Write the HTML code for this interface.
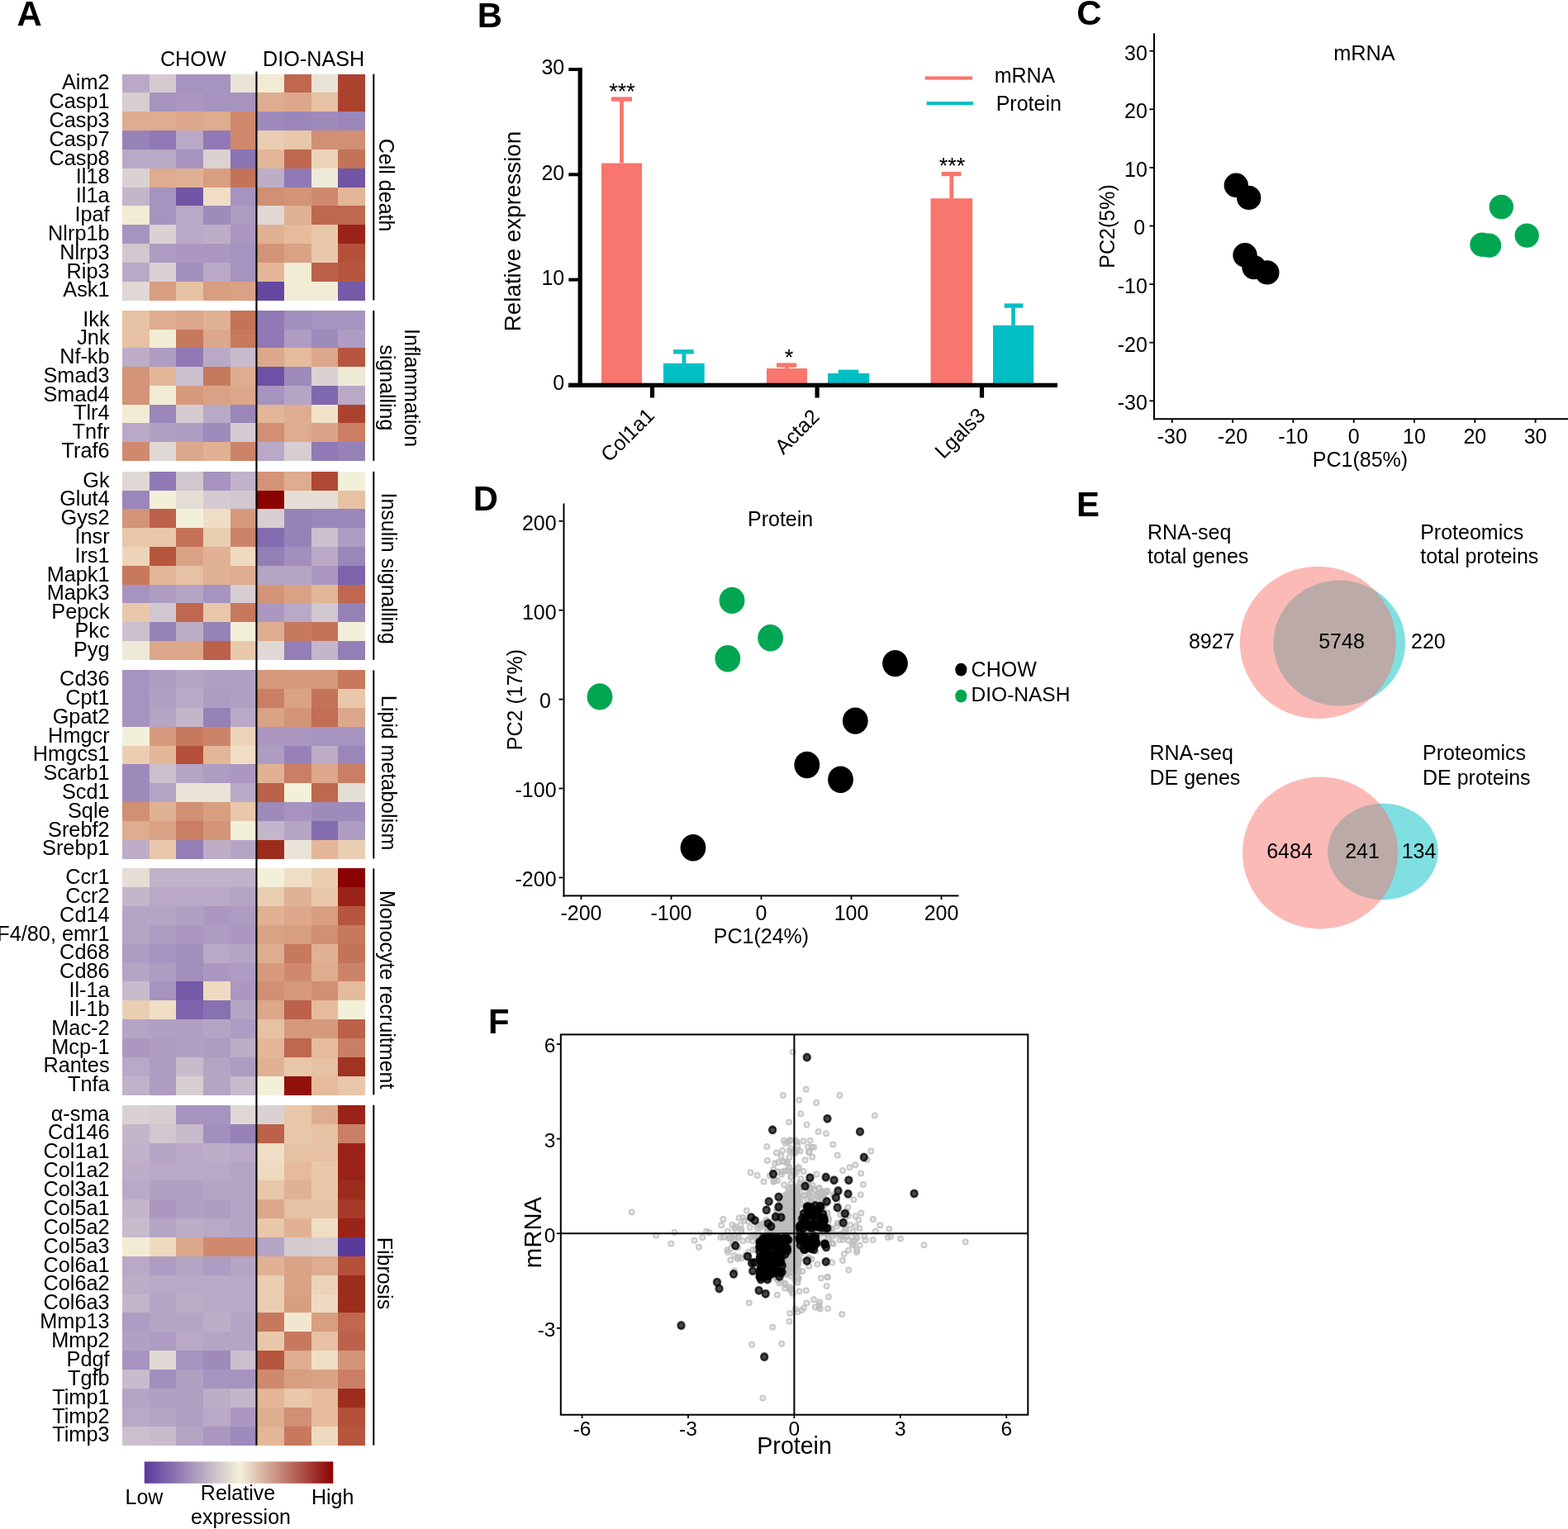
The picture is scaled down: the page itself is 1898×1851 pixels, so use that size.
<!DOCTYPE html><html><head><meta charset="utf-8"><title>Figure</title><style>html,body{margin:0;padding:0;background:#fff;}svg{display:block;}text{font-family:'Liberation Sans', Arial, Helvetica, sans-serif;fill:#000;}</style></head><body>
<svg width="1898" height="1851" viewBox="0 0 1898 1851">
<rect x="0" y="0" width="1898" height="1851" fill="#fff"/>
<text transform="translate(20.6,30.8) scale(1.01,1.035)" font-size="41.5" font-weight="bold">A</text>
<text transform="translate(577.8,32.9) scale(1.01,1.035)" font-size="41.5" font-weight="bold">B</text>
<text transform="translate(1303.3,30.3) scale(1.01,1.035)" font-size="41.5" font-weight="bold">C</text>
<text transform="translate(572.8,618.2) scale(1.01,1.035)" font-size="41.5" font-weight="bold">D</text>
<text transform="translate(1303,624.6) scale(1.01,1.035)" font-size="41.5" font-weight="bold">E</text>
<text transform="translate(591,1250.5) scale(1.01,1.035)" font-size="41.5" font-weight="bold">F</text>
<g shape-rendering="crispEdges">
<rect x="148.10" y="89.60" width="33.24" height="23.43" fill="#b9a9c6"/>
<rect x="180.74" y="89.60" width="33.24" height="23.43" fill="#d4cad0"/>
<rect x="213.38" y="89.60" width="33.24" height="23.43" fill="#a793bf"/>
<rect x="246.02" y="89.60" width="33.24" height="23.43" fill="#a793bf"/>
<rect x="278.66" y="89.60" width="33.24" height="23.43" fill="#e9e4d7"/>
<rect x="311.30" y="89.60" width="33.24" height="23.43" fill="#f2ecd5"/>
<rect x="343.94" y="89.60" width="33.24" height="23.43" fill="#bf674f"/>
<rect x="376.58" y="89.60" width="33.24" height="23.43" fill="#e9e4d7"/>
<rect x="409.22" y="89.60" width="33.24" height="23.43" fill="#aa422e"/>
<rect x="148.10" y="112.42" width="33.24" height="23.43" fill="#d7ced1"/>
<rect x="180.74" y="112.42" width="33.24" height="23.43" fill="#a793bf"/>
<rect x="213.38" y="112.42" width="33.24" height="23.43" fill="#ab97c0"/>
<rect x="246.02" y="112.42" width="33.24" height="23.43" fill="#a793bf"/>
<rect x="278.66" y="112.42" width="33.24" height="23.43" fill="#a793bf"/>
<rect x="311.30" y="112.42" width="33.24" height="23.43" fill="#deac8e"/>
<rect x="343.94" y="112.42" width="33.24" height="23.43" fill="#dca78a"/>
<rect x="376.58" y="112.42" width="33.24" height="23.43" fill="#e7c1a3"/>
<rect x="409.22" y="112.42" width="33.24" height="23.43" fill="#aa422e"/>
<rect x="148.10" y="135.25" width="33.24" height="23.43" fill="#deac8e"/>
<rect x="180.74" y="135.25" width="33.24" height="23.43" fill="#deac8e"/>
<rect x="213.38" y="135.25" width="33.24" height="23.43" fill="#dca78a"/>
<rect x="246.02" y="135.25" width="33.24" height="23.43" fill="#deac8e"/>
<rect x="278.66" y="135.25" width="33.24" height="23.43" fill="#cf8a6e"/>
<rect x="311.30" y="135.25" width="33.24" height="23.43" fill="#9f8abc"/>
<rect x="343.94" y="135.25" width="33.24" height="23.43" fill="#9b86ba"/>
<rect x="376.58" y="135.25" width="33.24" height="23.43" fill="#9f8abc"/>
<rect x="409.22" y="135.25" width="33.24" height="23.43" fill="#9b86ba"/>
<rect x="148.10" y="158.07" width="33.24" height="23.43" fill="#9782b8"/>
<rect x="180.74" y="158.07" width="33.24" height="23.43" fill="#9079b5"/>
<rect x="213.38" y="158.07" width="33.24" height="23.43" fill="#b9a9c6"/>
<rect x="246.02" y="158.07" width="33.24" height="23.43" fill="#9079b5"/>
<rect x="278.66" y="158.07" width="33.24" height="23.43" fill="#cf8a6e"/>
<rect x="311.30" y="158.07" width="33.24" height="23.43" fill="#eaceb2"/>
<rect x="343.94" y="158.07" width="33.24" height="23.43" fill="#e9c7aa"/>
<rect x="376.58" y="158.07" width="33.24" height="23.43" fill="#d18f73"/>
<rect x="409.22" y="158.07" width="33.24" height="23.43" fill="#d18f73"/>
<rect x="148.10" y="180.90" width="33.24" height="23.43" fill="#b9a9c6"/>
<rect x="180.74" y="180.90" width="33.24" height="23.43" fill="#b9a9c6"/>
<rect x="213.38" y="180.90" width="33.24" height="23.43" fill="#a793bf"/>
<rect x="246.02" y="180.90" width="33.24" height="23.43" fill="#dad2d2"/>
<rect x="278.66" y="180.90" width="33.24" height="23.43" fill="#8c75b3"/>
<rect x="311.30" y="180.90" width="33.24" height="23.43" fill="#e3b697"/>
<rect x="343.94" y="180.90" width="33.24" height="23.43" fill="#bf674f"/>
<rect x="376.58" y="180.90" width="33.24" height="23.43" fill="#ecd4b9"/>
<rect x="409.22" y="180.90" width="33.24" height="23.43" fill="#c47359"/>
<rect x="148.10" y="203.72" width="33.24" height="23.43" fill="#dad2d2"/>
<rect x="180.74" y="203.72" width="33.24" height="23.43" fill="#deac8e"/>
<rect x="213.38" y="203.72" width="33.24" height="23.43" fill="#e1b193"/>
<rect x="246.02" y="203.72" width="33.24" height="23.43" fill="#d89e80"/>
<rect x="278.66" y="203.72" width="33.24" height="23.43" fill="#c47359"/>
<rect x="311.30" y="203.72" width="33.24" height="23.43" fill="#bdadc7"/>
<rect x="343.94" y="203.72" width="33.24" height="23.43" fill="#9079b5"/>
<rect x="376.58" y="203.72" width="33.24" height="23.43" fill="#eeead8"/>
<rect x="409.22" y="203.72" width="33.24" height="23.43" fill="#7156a6"/>
<rect x="148.10" y="226.55" width="33.24" height="23.43" fill="#c4b6ca"/>
<rect x="180.74" y="226.55" width="33.24" height="23.43" fill="#a793bf"/>
<rect x="213.38" y="226.55" width="33.24" height="23.43" fill="#7156a6"/>
<rect x="246.02" y="226.55" width="33.24" height="23.43" fill="#efdec5"/>
<rect x="278.66" y="226.55" width="33.24" height="23.43" fill="#a793bf"/>
<rect x="311.30" y="226.55" width="33.24" height="23.43" fill="#d18f73"/>
<rect x="343.94" y="226.55" width="33.24" height="23.43" fill="#d39477"/>
<rect x="376.58" y="226.55" width="33.24" height="23.43" fill="#cf8a6e"/>
<rect x="409.22" y="226.55" width="33.24" height="23.43" fill="#e3b697"/>
<rect x="148.10" y="249.38" width="33.24" height="23.43" fill="#f2ecd5"/>
<rect x="180.74" y="249.38" width="33.24" height="23.43" fill="#a793bf"/>
<rect x="213.38" y="249.38" width="33.24" height="23.43" fill="#b9a9c6"/>
<rect x="246.02" y="249.38" width="33.24" height="23.43" fill="#9f8abc"/>
<rect x="278.66" y="249.38" width="33.24" height="23.43" fill="#ae9cc2"/>
<rect x="311.30" y="249.38" width="33.24" height="23.43" fill="#dfd8d4"/>
<rect x="343.94" y="249.38" width="33.24" height="23.43" fill="#e1b193"/>
<rect x="376.58" y="249.38" width="33.24" height="23.43" fill="#bf674f"/>
<rect x="409.22" y="249.38" width="33.24" height="23.43" fill="#bf674f"/>
<rect x="148.10" y="272.20" width="33.24" height="23.43" fill="#a793bf"/>
<rect x="180.74" y="272.20" width="33.24" height="23.43" fill="#dad2d2"/>
<rect x="213.38" y="272.20" width="33.24" height="23.43" fill="#b9a9c6"/>
<rect x="246.02" y="272.20" width="33.24" height="23.43" fill="#bdadc7"/>
<rect x="278.66" y="272.20" width="33.24" height="23.43" fill="#ab97c0"/>
<rect x="311.30" y="272.20" width="33.24" height="23.43" fill="#e1b193"/>
<rect x="343.94" y="272.20" width="33.24" height="23.43" fill="#e5bb9c"/>
<rect x="376.58" y="272.20" width="33.24" height="23.43" fill="#e9c7aa"/>
<rect x="409.22" y="272.20" width="33.24" height="23.43" fill="#992316"/>
<rect x="148.10" y="295.02" width="33.24" height="23.43" fill="#d1c7cf"/>
<rect x="180.74" y="295.02" width="33.24" height="23.43" fill="#ae9cc2"/>
<rect x="213.38" y="295.02" width="33.24" height="23.43" fill="#ab97c0"/>
<rect x="246.02" y="295.02" width="33.24" height="23.43" fill="#ab97c0"/>
<rect x="278.66" y="295.02" width="33.24" height="23.43" fill="#a793bf"/>
<rect x="311.30" y="295.02" width="33.24" height="23.43" fill="#d39477"/>
<rect x="343.94" y="295.02" width="33.24" height="23.43" fill="#daa285"/>
<rect x="376.58" y="295.02" width="33.24" height="23.43" fill="#e9c7aa"/>
<rect x="409.22" y="295.02" width="33.24" height="23.43" fill="#b4503a"/>
<rect x="148.10" y="317.85" width="33.24" height="23.43" fill="#b9a9c6"/>
<rect x="180.74" y="317.85" width="33.24" height="23.43" fill="#dad2d2"/>
<rect x="213.38" y="317.85" width="33.24" height="23.43" fill="#a38fbd"/>
<rect x="246.02" y="317.85" width="33.24" height="23.43" fill="#b9a9c6"/>
<rect x="278.66" y="317.85" width="33.24" height="23.43" fill="#a793bf"/>
<rect x="311.30" y="317.85" width="33.24" height="23.43" fill="#e3b697"/>
<rect x="343.94" y="317.85" width="33.24" height="23.43" fill="#f2ecd5"/>
<rect x="376.58" y="317.85" width="33.24" height="23.43" fill="#bc614a"/>
<rect x="409.22" y="317.85" width="33.24" height="23.43" fill="#b7563f"/>
<rect x="148.10" y="340.67" width="33.24" height="23.43" fill="#dfd8d4"/>
<rect x="180.74" y="340.67" width="33.24" height="23.43" fill="#d89e80"/>
<rect x="213.38" y="340.67" width="33.24" height="23.43" fill="#e7c1a3"/>
<rect x="246.02" y="340.67" width="33.24" height="23.43" fill="#d89e80"/>
<rect x="278.66" y="340.67" width="33.24" height="23.43" fill="#daa285"/>
<rect x="311.30" y="340.67" width="33.24" height="23.43" fill="#6548a1"/>
<rect x="343.94" y="340.67" width="33.24" height="23.43" fill="#f2ecd5"/>
<rect x="376.58" y="340.67" width="33.24" height="23.43" fill="#f2ecd5"/>
<rect x="409.22" y="340.67" width="33.24" height="23.43" fill="#755aa8"/>
<rect x="148.10" y="375.90" width="33.24" height="23.34" fill="#e7c1a3"/>
<rect x="180.74" y="375.90" width="33.24" height="23.34" fill="#deac8e"/>
<rect x="213.38" y="375.90" width="33.24" height="23.34" fill="#dca78a"/>
<rect x="246.02" y="375.90" width="33.24" height="23.34" fill="#e1b193"/>
<rect x="278.66" y="375.90" width="33.24" height="23.34" fill="#c47359"/>
<rect x="311.30" y="375.90" width="33.24" height="23.34" fill="#9079b5"/>
<rect x="343.94" y="375.90" width="33.24" height="23.34" fill="#a38fbd"/>
<rect x="376.58" y="375.90" width="33.24" height="23.34" fill="#a793bf"/>
<rect x="409.22" y="375.90" width="33.24" height="23.34" fill="#a793bf"/>
<rect x="148.10" y="398.64" width="33.24" height="23.34" fill="#e7c1a3"/>
<rect x="180.74" y="398.64" width="33.24" height="23.34" fill="#f2ecd5"/>
<rect x="213.38" y="398.64" width="33.24" height="23.34" fill="#c7795e"/>
<rect x="246.02" y="398.64" width="33.24" height="23.34" fill="#dca78a"/>
<rect x="278.66" y="398.64" width="33.24" height="23.34" fill="#c7795e"/>
<rect x="311.30" y="398.64" width="33.24" height="23.34" fill="#9079b5"/>
<rect x="343.94" y="398.64" width="33.24" height="23.34" fill="#ae9cc2"/>
<rect x="376.58" y="398.64" width="33.24" height="23.34" fill="#9f8abc"/>
<rect x="409.22" y="398.64" width="33.24" height="23.34" fill="#ae9cc2"/>
<rect x="148.10" y="421.38" width="33.24" height="23.34" fill="#bdadc7"/>
<rect x="180.74" y="421.38" width="33.24" height="23.34" fill="#ae9cc2"/>
<rect x="213.38" y="421.38" width="33.24" height="23.34" fill="#9079b5"/>
<rect x="246.02" y="421.38" width="33.24" height="23.34" fill="#b9a9c6"/>
<rect x="278.66" y="421.38" width="33.24" height="23.34" fill="#c7bbcc"/>
<rect x="311.30" y="421.38" width="33.24" height="23.34" fill="#dca78a"/>
<rect x="343.94" y="421.38" width="33.24" height="23.34" fill="#e5bb9c"/>
<rect x="376.58" y="421.38" width="33.24" height="23.34" fill="#dca78a"/>
<rect x="409.22" y="421.38" width="33.24" height="23.34" fill="#b7563f"/>
<rect x="148.10" y="444.11" width="33.24" height="23.34" fill="#d39477"/>
<rect x="180.74" y="444.11" width="33.24" height="23.34" fill="#e3b697"/>
<rect x="213.38" y="444.11" width="33.24" height="23.34" fill="#cbbfcd"/>
<rect x="246.02" y="444.11" width="33.24" height="23.34" fill="#c7795e"/>
<rect x="278.66" y="444.11" width="33.24" height="23.34" fill="#deac8e"/>
<rect x="311.30" y="444.11" width="33.24" height="23.34" fill="#6d51a4"/>
<rect x="343.94" y="444.11" width="33.24" height="23.34" fill="#9f8abc"/>
<rect x="376.58" y="444.11" width="33.24" height="23.34" fill="#dad2d2"/>
<rect x="409.22" y="444.11" width="33.24" height="23.34" fill="#eeead8"/>
<rect x="148.10" y="466.85" width="33.24" height="23.34" fill="#d39477"/>
<rect x="180.74" y="466.85" width="33.24" height="23.34" fill="#f2ecd5"/>
<rect x="213.38" y="466.85" width="33.24" height="23.34" fill="#d6997c"/>
<rect x="246.02" y="466.85" width="33.24" height="23.34" fill="#daa285"/>
<rect x="278.66" y="466.85" width="33.24" height="23.34" fill="#dca78a"/>
<rect x="311.30" y="466.85" width="33.24" height="23.34" fill="#a793bf"/>
<rect x="343.94" y="466.85" width="33.24" height="23.34" fill="#b5a5c5"/>
<rect x="376.58" y="466.85" width="33.24" height="23.34" fill="#8068ae"/>
<rect x="409.22" y="466.85" width="33.24" height="23.34" fill="#b9a9c6"/>
<rect x="148.10" y="489.59" width="33.24" height="23.34" fill="#f2ecd5"/>
<rect x="180.74" y="489.59" width="33.24" height="23.34" fill="#9b86ba"/>
<rect x="213.38" y="489.59" width="33.24" height="23.34" fill="#d4cad0"/>
<rect x="246.02" y="489.59" width="33.24" height="23.34" fill="#b9a9c6"/>
<rect x="278.66" y="489.59" width="33.24" height="23.34" fill="#9b86ba"/>
<rect x="311.30" y="489.59" width="33.24" height="23.34" fill="#e3b697"/>
<rect x="343.94" y="489.59" width="33.24" height="23.34" fill="#deac8e"/>
<rect x="376.58" y="489.59" width="33.24" height="23.34" fill="#f0e3ca"/>
<rect x="409.22" y="489.59" width="33.24" height="23.34" fill="#aa422e"/>
<rect x="148.10" y="512.32" width="33.24" height="23.34" fill="#b9a9c6"/>
<rect x="180.74" y="512.32" width="33.24" height="23.34" fill="#b2a0c3"/>
<rect x="213.38" y="512.32" width="33.24" height="23.34" fill="#ae9cc2"/>
<rect x="246.02" y="512.32" width="33.24" height="23.34" fill="#9f8abc"/>
<rect x="278.66" y="512.32" width="33.24" height="23.34" fill="#d4cad0"/>
<rect x="311.30" y="512.32" width="33.24" height="23.34" fill="#d18f73"/>
<rect x="343.94" y="512.32" width="33.24" height="23.34" fill="#deac8e"/>
<rect x="376.58" y="512.32" width="33.24" height="23.34" fill="#daa285"/>
<rect x="409.22" y="512.32" width="33.24" height="23.34" fill="#ca7e64"/>
<rect x="148.10" y="535.06" width="33.24" height="23.34" fill="#cf8a6e"/>
<rect x="180.74" y="535.06" width="33.24" height="23.34" fill="#dfd8d4"/>
<rect x="213.38" y="535.06" width="33.24" height="23.34" fill="#dca78a"/>
<rect x="246.02" y="535.06" width="33.24" height="23.34" fill="#e1b193"/>
<rect x="278.66" y="535.06" width="33.24" height="23.34" fill="#cc8469"/>
<rect x="311.30" y="535.06" width="33.24" height="23.34" fill="#b9a9c6"/>
<rect x="343.94" y="535.06" width="33.24" height="23.34" fill="#d7ced1"/>
<rect x="376.58" y="535.06" width="33.24" height="23.34" fill="#9079b5"/>
<rect x="409.22" y="535.06" width="33.24" height="23.34" fill="#9782b8"/>
<rect x="148.10" y="570.90" width="33.24" height="23.39" fill="#dfd8d4"/>
<rect x="180.74" y="570.90" width="33.24" height="23.39" fill="#9079b5"/>
<rect x="213.38" y="570.90" width="33.24" height="23.39" fill="#d1c7cf"/>
<rect x="246.02" y="570.90" width="33.24" height="23.39" fill="#a793bf"/>
<rect x="278.66" y="570.90" width="33.24" height="23.39" fill="#c0b2c9"/>
<rect x="311.30" y="570.90" width="33.24" height="23.39" fill="#d39477"/>
<rect x="343.94" y="570.90" width="33.24" height="23.39" fill="#deac8e"/>
<rect x="376.58" y="570.90" width="33.24" height="23.39" fill="#af4934"/>
<rect x="409.22" y="570.90" width="33.24" height="23.39" fill="#f3f0da"/>
<rect x="148.10" y="593.69" width="33.24" height="23.39" fill="#9b86ba"/>
<rect x="180.74" y="593.69" width="33.24" height="23.39" fill="#f3f0da"/>
<rect x="213.38" y="593.69" width="33.24" height="23.39" fill="#e4ded5"/>
<rect x="246.02" y="593.69" width="33.24" height="23.39" fill="#d4cad0"/>
<rect x="278.66" y="593.69" width="33.24" height="23.39" fill="#d1c7cf"/>
<rect x="311.30" y="593.69" width="33.24" height="23.39" fill="#8b0000"/>
<rect x="343.94" y="593.69" width="33.24" height="23.39" fill="#e4ded5"/>
<rect x="376.58" y="593.69" width="33.24" height="23.39" fill="#e4ded5"/>
<rect x="409.22" y="593.69" width="33.24" height="23.39" fill="#e7c1a3"/>
<rect x="148.10" y="616.48" width="33.24" height="23.39" fill="#d39477"/>
<rect x="180.74" y="616.48" width="33.24" height="23.39" fill="#bc614a"/>
<rect x="213.38" y="616.48" width="33.24" height="23.39" fill="#f3f0da"/>
<rect x="246.02" y="616.48" width="33.24" height="23.39" fill="#efdec5"/>
<rect x="278.66" y="616.48" width="33.24" height="23.39" fill="#d6997c"/>
<rect x="311.30" y="616.48" width="33.24" height="23.39" fill="#d7ced1"/>
<rect x="343.94" y="616.48" width="33.24" height="23.39" fill="#9782b8"/>
<rect x="376.58" y="616.48" width="33.24" height="23.39" fill="#9b86ba"/>
<rect x="409.22" y="616.48" width="33.24" height="23.39" fill="#9b86ba"/>
<rect x="148.10" y="639.27" width="33.24" height="23.39" fill="#e9c7aa"/>
<rect x="180.74" y="639.27" width="33.24" height="23.39" fill="#e9c7aa"/>
<rect x="213.38" y="639.27" width="33.24" height="23.39" fill="#c47359"/>
<rect x="246.02" y="639.27" width="33.24" height="23.39" fill="#eaceb2"/>
<rect x="278.66" y="639.27" width="33.24" height="23.39" fill="#cc8469"/>
<rect x="311.30" y="639.27" width="33.24" height="23.39" fill="#846cb0"/>
<rect x="343.94" y="639.27" width="33.24" height="23.39" fill="#9782b8"/>
<rect x="376.58" y="639.27" width="33.24" height="23.39" fill="#cbbfcd"/>
<rect x="409.22" y="639.27" width="33.24" height="23.39" fill="#ae9cc2"/>
<rect x="148.10" y="662.06" width="33.24" height="23.39" fill="#ecd4b9"/>
<rect x="180.74" y="662.06" width="33.24" height="23.39" fill="#b7563f"/>
<rect x="213.38" y="662.06" width="33.24" height="23.39" fill="#daa285"/>
<rect x="246.02" y="662.06" width="33.24" height="23.39" fill="#e1b193"/>
<rect x="278.66" y="662.06" width="33.24" height="23.39" fill="#eedac0"/>
<rect x="311.30" y="662.06" width="33.24" height="23.39" fill="#947eb6"/>
<rect x="343.94" y="662.06" width="33.24" height="23.39" fill="#a38fbd"/>
<rect x="376.58" y="662.06" width="33.24" height="23.39" fill="#b9a9c6"/>
<rect x="409.22" y="662.06" width="33.24" height="23.39" fill="#9b86ba"/>
<rect x="148.10" y="684.85" width="33.24" height="23.39" fill="#c7795e"/>
<rect x="180.74" y="684.85" width="33.24" height="23.39" fill="#e3b697"/>
<rect x="213.38" y="684.85" width="33.24" height="23.39" fill="#e7c1a3"/>
<rect x="246.02" y="684.85" width="33.24" height="23.39" fill="#e1b193"/>
<rect x="278.66" y="684.85" width="33.24" height="23.39" fill="#deac8e"/>
<rect x="311.30" y="684.85" width="33.24" height="23.39" fill="#b5a5c5"/>
<rect x="343.94" y="684.85" width="33.24" height="23.39" fill="#b5a5c5"/>
<rect x="376.58" y="684.85" width="33.24" height="23.39" fill="#ab97c0"/>
<rect x="409.22" y="684.85" width="33.24" height="23.39" fill="#7c63ac"/>
<rect x="148.10" y="707.64" width="33.24" height="23.39" fill="#a793bf"/>
<rect x="180.74" y="707.64" width="33.24" height="23.39" fill="#ae9cc2"/>
<rect x="213.38" y="707.64" width="33.24" height="23.39" fill="#b5a5c5"/>
<rect x="246.02" y="707.64" width="33.24" height="23.39" fill="#a793bf"/>
<rect x="278.66" y="707.64" width="33.24" height="23.39" fill="#d7ced1"/>
<rect x="311.30" y="707.64" width="33.24" height="23.39" fill="#d39477"/>
<rect x="343.94" y="707.64" width="33.24" height="23.39" fill="#daa285"/>
<rect x="376.58" y="707.64" width="33.24" height="23.39" fill="#e3b697"/>
<rect x="409.22" y="707.64" width="33.24" height="23.39" fill="#bf674f"/>
<rect x="148.10" y="730.43" width="33.24" height="23.39" fill="#e9c7aa"/>
<rect x="180.74" y="730.43" width="33.24" height="23.39" fill="#d1c7cf"/>
<rect x="213.38" y="730.43" width="33.24" height="23.39" fill="#bf674f"/>
<rect x="246.02" y="730.43" width="33.24" height="23.39" fill="#e9c7aa"/>
<rect x="278.66" y="730.43" width="33.24" height="23.39" fill="#c7795e"/>
<rect x="311.30" y="730.43" width="33.24" height="23.39" fill="#ab97c0"/>
<rect x="343.94" y="730.43" width="33.24" height="23.39" fill="#b9a9c6"/>
<rect x="376.58" y="730.43" width="33.24" height="23.39" fill="#d1c7cf"/>
<rect x="409.22" y="730.43" width="33.24" height="23.39" fill="#9782b8"/>
<rect x="148.10" y="753.22" width="33.24" height="23.39" fill="#cbbfcd"/>
<rect x="180.74" y="753.22" width="33.24" height="23.39" fill="#9782b8"/>
<rect x="213.38" y="753.22" width="33.24" height="23.39" fill="#bdadc7"/>
<rect x="246.02" y="753.22" width="33.24" height="23.39" fill="#9782b8"/>
<rect x="278.66" y="753.22" width="33.24" height="23.39" fill="#f3f0da"/>
<rect x="311.30" y="753.22" width="33.24" height="23.39" fill="#deac8e"/>
<rect x="343.94" y="753.22" width="33.24" height="23.39" fill="#c7795e"/>
<rect x="376.58" y="753.22" width="33.24" height="23.39" fill="#c47359"/>
<rect x="409.22" y="753.22" width="33.24" height="23.39" fill="#f3f0da"/>
<rect x="148.10" y="776.01" width="33.24" height="23.39" fill="#eeead8"/>
<rect x="180.74" y="776.01" width="33.24" height="23.39" fill="#dca78a"/>
<rect x="213.38" y="776.01" width="33.24" height="23.39" fill="#dca78a"/>
<rect x="246.02" y="776.01" width="33.24" height="23.39" fill="#bc614a"/>
<rect x="278.66" y="776.01" width="33.24" height="23.39" fill="#e9c7aa"/>
<rect x="311.30" y="776.01" width="33.24" height="23.39" fill="#dfd8d4"/>
<rect x="343.94" y="776.01" width="33.24" height="23.39" fill="#947eb6"/>
<rect x="376.58" y="776.01" width="33.24" height="23.39" fill="#c4b6ca"/>
<rect x="409.22" y="776.01" width="33.24" height="23.39" fill="#947eb6"/>
<rect x="148.10" y="811.40" width="33.24" height="23.40" fill="#a793bf"/>
<rect x="180.74" y="811.40" width="33.24" height="23.40" fill="#ae9cc2"/>
<rect x="213.38" y="811.40" width="33.24" height="23.40" fill="#b5a5c5"/>
<rect x="246.02" y="811.40" width="33.24" height="23.40" fill="#b2a0c3"/>
<rect x="278.66" y="811.40" width="33.24" height="23.40" fill="#b2a0c3"/>
<rect x="311.30" y="811.40" width="33.24" height="23.40" fill="#d6997c"/>
<rect x="343.94" y="811.40" width="33.24" height="23.40" fill="#d6997c"/>
<rect x="376.58" y="811.40" width="33.24" height="23.40" fill="#d6997c"/>
<rect x="409.22" y="811.40" width="33.24" height="23.40" fill="#c7795e"/>
<rect x="148.10" y="834.20" width="33.24" height="23.40" fill="#a793bf"/>
<rect x="180.74" y="834.20" width="33.24" height="23.40" fill="#b2a0c3"/>
<rect x="213.38" y="834.20" width="33.24" height="23.40" fill="#b9a9c6"/>
<rect x="246.02" y="834.20" width="33.24" height="23.40" fill="#ae9cc2"/>
<rect x="278.66" y="834.20" width="33.24" height="23.40" fill="#b2a0c3"/>
<rect x="311.30" y="834.20" width="33.24" height="23.40" fill="#ca7e64"/>
<rect x="343.94" y="834.20" width="33.24" height="23.40" fill="#daa285"/>
<rect x="376.58" y="834.20" width="33.24" height="23.40" fill="#c47359"/>
<rect x="409.22" y="834.20" width="33.24" height="23.40" fill="#e9c7aa"/>
<rect x="148.10" y="857.00" width="33.24" height="23.40" fill="#a793bf"/>
<rect x="180.74" y="857.00" width="33.24" height="23.40" fill="#b5a5c5"/>
<rect x="213.38" y="857.00" width="33.24" height="23.40" fill="#c4b6ca"/>
<rect x="246.02" y="857.00" width="33.24" height="23.40" fill="#9782b8"/>
<rect x="278.66" y="857.00" width="33.24" height="23.40" fill="#b9a9c6"/>
<rect x="311.30" y="857.00" width="33.24" height="23.40" fill="#daa285"/>
<rect x="343.94" y="857.00" width="33.24" height="23.40" fill="#d39477"/>
<rect x="376.58" y="857.00" width="33.24" height="23.40" fill="#c26d54"/>
<rect x="409.22" y="857.00" width="33.24" height="23.40" fill="#dca78a"/>
<rect x="148.10" y="879.80" width="33.24" height="23.40" fill="#f3f0da"/>
<rect x="180.74" y="879.80" width="33.24" height="23.40" fill="#d6997c"/>
<rect x="213.38" y="879.80" width="33.24" height="23.40" fill="#c7795e"/>
<rect x="246.02" y="879.80" width="33.24" height="23.40" fill="#cc8469"/>
<rect x="278.66" y="879.80" width="33.24" height="23.40" fill="#ecd4b9"/>
<rect x="311.30" y="879.80" width="33.24" height="23.40" fill="#ab97c0"/>
<rect x="343.94" y="879.80" width="33.24" height="23.40" fill="#ab97c0"/>
<rect x="376.58" y="879.80" width="33.24" height="23.40" fill="#a793bf"/>
<rect x="409.22" y="879.80" width="33.24" height="23.40" fill="#a793bf"/>
<rect x="148.10" y="902.60" width="33.24" height="23.40" fill="#eaceb2"/>
<rect x="180.74" y="902.60" width="33.24" height="23.40" fill="#e3b697"/>
<rect x="213.38" y="902.60" width="33.24" height="23.40" fill="#b4503a"/>
<rect x="246.02" y="902.60" width="33.24" height="23.40" fill="#e3b697"/>
<rect x="278.66" y="902.60" width="33.24" height="23.40" fill="#efdec5"/>
<rect x="311.30" y="902.60" width="33.24" height="23.40" fill="#ae9cc2"/>
<rect x="343.94" y="902.60" width="33.24" height="23.40" fill="#9782b8"/>
<rect x="376.58" y="902.60" width="33.24" height="23.40" fill="#bdadc7"/>
<rect x="409.22" y="902.60" width="33.24" height="23.40" fill="#9b86ba"/>
<rect x="148.10" y="925.40" width="33.24" height="23.40" fill="#9f8abc"/>
<rect x="180.74" y="925.40" width="33.24" height="23.40" fill="#cbbfcd"/>
<rect x="213.38" y="925.40" width="33.24" height="23.40" fill="#b5a5c5"/>
<rect x="246.02" y="925.40" width="33.24" height="23.40" fill="#ae9cc2"/>
<rect x="278.66" y="925.40" width="33.24" height="23.40" fill="#ab97c0"/>
<rect x="311.30" y="925.40" width="33.24" height="23.40" fill="#e1b193"/>
<rect x="343.94" y="925.40" width="33.24" height="23.40" fill="#ca7e64"/>
<rect x="376.58" y="925.40" width="33.24" height="23.40" fill="#dca78a"/>
<rect x="409.22" y="925.40" width="33.24" height="23.40" fill="#ca7e64"/>
<rect x="148.10" y="948.20" width="33.24" height="23.40" fill="#9f8abc"/>
<rect x="180.74" y="948.20" width="33.24" height="23.40" fill="#b5a5c5"/>
<rect x="213.38" y="948.20" width="33.24" height="23.40" fill="#e9e4d7"/>
<rect x="246.02" y="948.20" width="33.24" height="23.40" fill="#e9e4d7"/>
<rect x="278.66" y="948.20" width="33.24" height="23.40" fill="#b9a9c6"/>
<rect x="311.30" y="948.20" width="33.24" height="23.40" fill="#bc614a"/>
<rect x="343.94" y="948.20" width="33.24" height="23.40" fill="#f3f0da"/>
<rect x="376.58" y="948.20" width="33.24" height="23.40" fill="#bf674f"/>
<rect x="409.22" y="948.20" width="33.24" height="23.40" fill="#e4ded5"/>
<rect x="148.10" y="971.00" width="33.24" height="23.40" fill="#d18f73"/>
<rect x="180.74" y="971.00" width="33.24" height="23.40" fill="#e1b193"/>
<rect x="213.38" y="971.00" width="33.24" height="23.40" fill="#d18f73"/>
<rect x="246.02" y="971.00" width="33.24" height="23.40" fill="#d89e80"/>
<rect x="278.66" y="971.00" width="33.24" height="23.40" fill="#e9c7aa"/>
<rect x="311.30" y="971.00" width="33.24" height="23.40" fill="#9f8abc"/>
<rect x="343.94" y="971.00" width="33.24" height="23.40" fill="#a793bf"/>
<rect x="376.58" y="971.00" width="33.24" height="23.40" fill="#9f8abc"/>
<rect x="409.22" y="971.00" width="33.24" height="23.40" fill="#9f8abc"/>
<rect x="148.10" y="993.80" width="33.24" height="23.40" fill="#deac8e"/>
<rect x="180.74" y="993.80" width="33.24" height="23.40" fill="#daa285"/>
<rect x="213.38" y="993.80" width="33.24" height="23.40" fill="#ca7e64"/>
<rect x="246.02" y="993.80" width="33.24" height="23.40" fill="#d39477"/>
<rect x="278.66" y="993.80" width="33.24" height="23.40" fill="#f3f0da"/>
<rect x="311.30" y="993.80" width="33.24" height="23.40" fill="#c4b6ca"/>
<rect x="343.94" y="993.80" width="33.24" height="23.40" fill="#b5a5c5"/>
<rect x="376.58" y="993.80" width="33.24" height="23.40" fill="#846cb0"/>
<rect x="409.22" y="993.80" width="33.24" height="23.40" fill="#ae9cc2"/>
<rect x="148.10" y="1016.60" width="33.24" height="23.40" fill="#bdadc7"/>
<rect x="180.74" y="1016.60" width="33.24" height="23.40" fill="#e9c7aa"/>
<rect x="213.38" y="1016.60" width="33.24" height="23.40" fill="#947eb6"/>
<rect x="246.02" y="1016.60" width="33.24" height="23.40" fill="#bdadc7"/>
<rect x="278.66" y="1016.60" width="33.24" height="23.40" fill="#b5a5c5"/>
<rect x="311.30" y="1016.60" width="33.24" height="23.40" fill="#9c2c1c"/>
<rect x="343.94" y="1016.60" width="33.24" height="23.40" fill="#e9e4d7"/>
<rect x="376.58" y="1016.60" width="33.24" height="23.40" fill="#e3b697"/>
<rect x="409.22" y="1016.60" width="33.24" height="23.40" fill="#eaceb2"/>
<rect x="148.10" y="1051.40" width="33.24" height="23.43" fill="#e4ded5"/>
<rect x="180.74" y="1051.40" width="33.24" height="23.43" fill="#c0b2c9"/>
<rect x="213.38" y="1051.40" width="33.24" height="23.43" fill="#c0b2c9"/>
<rect x="246.02" y="1051.40" width="33.24" height="23.43" fill="#c0b2c9"/>
<rect x="278.66" y="1051.40" width="33.24" height="23.43" fill="#c0b2c9"/>
<rect x="311.30" y="1051.40" width="33.24" height="23.43" fill="#f3f0da"/>
<rect x="343.94" y="1051.40" width="33.24" height="23.43" fill="#efdec5"/>
<rect x="376.58" y="1051.40" width="33.24" height="23.43" fill="#eaceb2"/>
<rect x="409.22" y="1051.40" width="33.24" height="23.43" fill="#8b0000"/>
<rect x="148.10" y="1074.23" width="33.24" height="23.43" fill="#c4b6ca"/>
<rect x="180.74" y="1074.23" width="33.24" height="23.43" fill="#b9a9c6"/>
<rect x="213.38" y="1074.23" width="33.24" height="23.43" fill="#b9a9c6"/>
<rect x="246.02" y="1074.23" width="33.24" height="23.43" fill="#b9a9c6"/>
<rect x="278.66" y="1074.23" width="33.24" height="23.43" fill="#b5a5c5"/>
<rect x="311.30" y="1074.23" width="33.24" height="23.43" fill="#eaceb2"/>
<rect x="343.94" y="1074.23" width="33.24" height="23.43" fill="#e1b193"/>
<rect x="376.58" y="1074.23" width="33.24" height="23.43" fill="#e9c7aa"/>
<rect x="409.22" y="1074.23" width="33.24" height="23.43" fill="#992316"/>
<rect x="148.10" y="1097.07" width="33.24" height="23.43" fill="#b5a5c5"/>
<rect x="180.74" y="1097.07" width="33.24" height="23.43" fill="#b5a5c5"/>
<rect x="213.38" y="1097.07" width="33.24" height="23.43" fill="#b2a0c3"/>
<rect x="246.02" y="1097.07" width="33.24" height="23.43" fill="#ab97c0"/>
<rect x="278.66" y="1097.07" width="33.24" height="23.43" fill="#ae9cc2"/>
<rect x="311.30" y="1097.07" width="33.24" height="23.43" fill="#e1b193"/>
<rect x="343.94" y="1097.07" width="33.24" height="23.43" fill="#dca78a"/>
<rect x="376.58" y="1097.07" width="33.24" height="23.43" fill="#d89e80"/>
<rect x="409.22" y="1097.07" width="33.24" height="23.43" fill="#b7563f"/>
<rect x="148.10" y="1119.90" width="33.24" height="23.43" fill="#b5a5c5"/>
<rect x="180.74" y="1119.90" width="33.24" height="23.43" fill="#ae9cc2"/>
<rect x="213.38" y="1119.90" width="33.24" height="23.43" fill="#ab97c0"/>
<rect x="246.02" y="1119.90" width="33.24" height="23.43" fill="#ae9cc2"/>
<rect x="278.66" y="1119.90" width="33.24" height="23.43" fill="#ab97c0"/>
<rect x="311.30" y="1119.90" width="33.24" height="23.43" fill="#daa285"/>
<rect x="343.94" y="1119.90" width="33.24" height="23.43" fill="#d89e80"/>
<rect x="376.58" y="1119.90" width="33.24" height="23.43" fill="#d18f73"/>
<rect x="409.22" y="1119.90" width="33.24" height="23.43" fill="#c7795e"/>
<rect x="148.10" y="1142.73" width="33.24" height="23.43" fill="#ae9cc2"/>
<rect x="180.74" y="1142.73" width="33.24" height="23.43" fill="#a793bf"/>
<rect x="213.38" y="1142.73" width="33.24" height="23.43" fill="#a38fbd"/>
<rect x="246.02" y="1142.73" width="33.24" height="23.43" fill="#b9a9c6"/>
<rect x="278.66" y="1142.73" width="33.24" height="23.43" fill="#b5a5c5"/>
<rect x="311.30" y="1142.73" width="33.24" height="23.43" fill="#deac8e"/>
<rect x="343.94" y="1142.73" width="33.24" height="23.43" fill="#c7795e"/>
<rect x="376.58" y="1142.73" width="33.24" height="23.43" fill="#e1b193"/>
<rect x="409.22" y="1142.73" width="33.24" height="23.43" fill="#c47359"/>
<rect x="148.10" y="1165.57" width="33.24" height="23.43" fill="#b5a5c5"/>
<rect x="180.74" y="1165.57" width="33.24" height="23.43" fill="#ae9cc2"/>
<rect x="213.38" y="1165.57" width="33.24" height="23.43" fill="#a38fbd"/>
<rect x="246.02" y="1165.57" width="33.24" height="23.43" fill="#ab97c0"/>
<rect x="278.66" y="1165.57" width="33.24" height="23.43" fill="#ae9cc2"/>
<rect x="311.30" y="1165.57" width="33.24" height="23.43" fill="#d6997c"/>
<rect x="343.94" y="1165.57" width="33.24" height="23.43" fill="#cf8a6e"/>
<rect x="376.58" y="1165.57" width="33.24" height="23.43" fill="#deac8e"/>
<rect x="409.22" y="1165.57" width="33.24" height="23.43" fill="#cc8469"/>
<rect x="148.10" y="1188.40" width="33.24" height="23.43" fill="#c7bbcc"/>
<rect x="180.74" y="1188.40" width="33.24" height="23.43" fill="#a793bf"/>
<rect x="213.38" y="1188.40" width="33.24" height="23.43" fill="#755aa8"/>
<rect x="246.02" y="1188.40" width="33.24" height="23.43" fill="#eedac0"/>
<rect x="278.66" y="1188.40" width="33.24" height="23.43" fill="#ab97c0"/>
<rect x="311.30" y="1188.40" width="33.24" height="23.43" fill="#d18f73"/>
<rect x="343.94" y="1188.40" width="33.24" height="23.43" fill="#d6997c"/>
<rect x="376.58" y="1188.40" width="33.24" height="23.43" fill="#d18f73"/>
<rect x="409.22" y="1188.40" width="33.24" height="23.43" fill="#e5bb9c"/>
<rect x="148.10" y="1211.23" width="33.24" height="23.43" fill="#eaceb2"/>
<rect x="180.74" y="1211.23" width="33.24" height="23.43" fill="#efdec5"/>
<rect x="213.38" y="1211.23" width="33.24" height="23.43" fill="#7c63ac"/>
<rect x="246.02" y="1211.23" width="33.24" height="23.43" fill="#8871b1"/>
<rect x="278.66" y="1211.23" width="33.24" height="23.43" fill="#b5a5c5"/>
<rect x="311.30" y="1211.23" width="33.24" height="23.43" fill="#dca78a"/>
<rect x="343.94" y="1211.23" width="33.24" height="23.43" fill="#bc614a"/>
<rect x="376.58" y="1211.23" width="33.24" height="23.43" fill="#e5bb9c"/>
<rect x="409.22" y="1211.23" width="33.24" height="23.43" fill="#f3f0da"/>
<rect x="148.10" y="1234.07" width="33.24" height="23.43" fill="#b5a5c5"/>
<rect x="180.74" y="1234.07" width="33.24" height="23.43" fill="#b2a0c3"/>
<rect x="213.38" y="1234.07" width="33.24" height="23.43" fill="#b2a0c3"/>
<rect x="246.02" y="1234.07" width="33.24" height="23.43" fill="#b5a5c5"/>
<rect x="278.66" y="1234.07" width="33.24" height="23.43" fill="#ae9cc2"/>
<rect x="311.30" y="1234.07" width="33.24" height="23.43" fill="#e7c1a3"/>
<rect x="343.94" y="1234.07" width="33.24" height="23.43" fill="#d6997c"/>
<rect x="376.58" y="1234.07" width="33.24" height="23.43" fill="#d6997c"/>
<rect x="409.22" y="1234.07" width="33.24" height="23.43" fill="#bc614a"/>
<rect x="148.10" y="1256.90" width="33.24" height="23.43" fill="#ab97c0"/>
<rect x="180.74" y="1256.90" width="33.24" height="23.43" fill="#ae9cc2"/>
<rect x="213.38" y="1256.90" width="33.24" height="23.43" fill="#b2a0c3"/>
<rect x="246.02" y="1256.90" width="33.24" height="23.43" fill="#ae9cc2"/>
<rect x="278.66" y="1256.90" width="33.24" height="23.43" fill="#bdadc7"/>
<rect x="311.30" y="1256.90" width="33.24" height="23.43" fill="#e3b697"/>
<rect x="343.94" y="1256.90" width="33.24" height="23.43" fill="#bf674f"/>
<rect x="376.58" y="1256.90" width="33.24" height="23.43" fill="#e5bb9c"/>
<rect x="409.22" y="1256.90" width="33.24" height="23.43" fill="#ca7e64"/>
<rect x="148.10" y="1279.73" width="33.24" height="23.43" fill="#b9a9c6"/>
<rect x="180.74" y="1279.73" width="33.24" height="23.43" fill="#ae9cc2"/>
<rect x="213.38" y="1279.73" width="33.24" height="23.43" fill="#c7bbcc"/>
<rect x="246.02" y="1279.73" width="33.24" height="23.43" fill="#b5a5c5"/>
<rect x="278.66" y="1279.73" width="33.24" height="23.43" fill="#ae9cc2"/>
<rect x="311.30" y="1279.73" width="33.24" height="23.43" fill="#e1b193"/>
<rect x="343.94" y="1279.73" width="33.24" height="23.43" fill="#e9c7aa"/>
<rect x="376.58" y="1279.73" width="33.24" height="23.43" fill="#e7c1a3"/>
<rect x="409.22" y="1279.73" width="33.24" height="23.43" fill="#a13322"/>
<rect x="148.10" y="1302.57" width="33.24" height="23.43" fill="#c0b2c9"/>
<rect x="180.74" y="1302.57" width="33.24" height="23.43" fill="#ae9cc2"/>
<rect x="213.38" y="1302.57" width="33.24" height="23.43" fill="#d7ced1"/>
<rect x="246.02" y="1302.57" width="33.24" height="23.43" fill="#b5a5c5"/>
<rect x="278.66" y="1302.57" width="33.24" height="23.43" fill="#c7bbcc"/>
<rect x="311.30" y="1302.57" width="33.24" height="23.43" fill="#f3f0da"/>
<rect x="343.94" y="1302.57" width="33.24" height="23.43" fill="#92120b"/>
<rect x="376.58" y="1302.57" width="33.24" height="23.43" fill="#e5bb9c"/>
<rect x="409.22" y="1302.57" width="33.24" height="23.43" fill="#e9c7aa"/>
<rect x="148.10" y="1337.80" width="33.24" height="23.48" fill="#dad2d2"/>
<rect x="180.74" y="1337.80" width="33.24" height="23.48" fill="#d7ced1"/>
<rect x="213.38" y="1337.80" width="33.24" height="23.48" fill="#a793bf"/>
<rect x="246.02" y="1337.80" width="33.24" height="23.48" fill="#a793bf"/>
<rect x="278.66" y="1337.80" width="33.24" height="23.48" fill="#dfd8d4"/>
<rect x="311.30" y="1337.80" width="33.24" height="23.48" fill="#dad2d2"/>
<rect x="343.94" y="1337.80" width="33.24" height="23.48" fill="#e9c7aa"/>
<rect x="376.58" y="1337.80" width="33.24" height="23.48" fill="#deac8e"/>
<rect x="409.22" y="1337.80" width="33.24" height="23.48" fill="#992316"/>
<rect x="148.10" y="1360.68" width="33.24" height="23.48" fill="#c4b6ca"/>
<rect x="180.74" y="1360.68" width="33.24" height="23.48" fill="#d1c7cf"/>
<rect x="213.38" y="1360.68" width="33.24" height="23.48" fill="#c7bbcc"/>
<rect x="246.02" y="1360.68" width="33.24" height="23.48" fill="#a38fbd"/>
<rect x="278.66" y="1360.68" width="33.24" height="23.48" fill="#9782b8"/>
<rect x="311.30" y="1360.68" width="33.24" height="23.48" fill="#bc614a"/>
<rect x="343.94" y="1360.68" width="33.24" height="23.48" fill="#e9c7aa"/>
<rect x="376.58" y="1360.68" width="33.24" height="23.48" fill="#e7c1a3"/>
<rect x="409.22" y="1360.68" width="33.24" height="23.48" fill="#ca7e64"/>
<rect x="148.10" y="1383.56" width="33.24" height="23.48" fill="#c0b2c9"/>
<rect x="180.74" y="1383.56" width="33.24" height="23.48" fill="#b5a5c5"/>
<rect x="213.38" y="1383.56" width="33.24" height="23.48" fill="#b9a9c6"/>
<rect x="246.02" y="1383.56" width="33.24" height="23.48" fill="#bdadc7"/>
<rect x="278.66" y="1383.56" width="33.24" height="23.48" fill="#b9a9c6"/>
<rect x="311.30" y="1383.56" width="33.24" height="23.48" fill="#efdec5"/>
<rect x="343.94" y="1383.56" width="33.24" height="23.48" fill="#e7c1a3"/>
<rect x="376.58" y="1383.56" width="33.24" height="23.48" fill="#e7c1a3"/>
<rect x="409.22" y="1383.56" width="33.24" height="23.48" fill="#992316"/>
<rect x="148.10" y="1406.43" width="33.24" height="23.48" fill="#bdadc7"/>
<rect x="180.74" y="1406.43" width="33.24" height="23.48" fill="#b9a9c6"/>
<rect x="213.38" y="1406.43" width="33.24" height="23.48" fill="#b9a9c6"/>
<rect x="246.02" y="1406.43" width="33.24" height="23.48" fill="#b9a9c6"/>
<rect x="278.66" y="1406.43" width="33.24" height="23.48" fill="#b5a5c5"/>
<rect x="311.30" y="1406.43" width="33.24" height="23.48" fill="#eedac0"/>
<rect x="343.94" y="1406.43" width="33.24" height="23.48" fill="#e5bb9c"/>
<rect x="376.58" y="1406.43" width="33.24" height="23.48" fill="#e9c7aa"/>
<rect x="409.22" y="1406.43" width="33.24" height="23.48" fill="#992316"/>
<rect x="148.10" y="1429.31" width="33.24" height="23.48" fill="#b9a9c6"/>
<rect x="180.74" y="1429.31" width="33.24" height="23.48" fill="#b2a0c3"/>
<rect x="213.38" y="1429.31" width="33.24" height="23.48" fill="#b2a0c3"/>
<rect x="246.02" y="1429.31" width="33.24" height="23.48" fill="#b5a5c5"/>
<rect x="278.66" y="1429.31" width="33.24" height="23.48" fill="#b5a5c5"/>
<rect x="311.30" y="1429.31" width="33.24" height="23.48" fill="#e9c7aa"/>
<rect x="343.94" y="1429.31" width="33.24" height="23.48" fill="#e1b193"/>
<rect x="376.58" y="1429.31" width="33.24" height="23.48" fill="#e9c7aa"/>
<rect x="409.22" y="1429.31" width="33.24" height="23.48" fill="#9c2c1c"/>
<rect x="148.10" y="1452.19" width="33.24" height="23.48" fill="#c4b6ca"/>
<rect x="180.74" y="1452.19" width="33.24" height="23.48" fill="#ab97c0"/>
<rect x="213.38" y="1452.19" width="33.24" height="23.48" fill="#b2a0c3"/>
<rect x="246.02" y="1452.19" width="33.24" height="23.48" fill="#ae9cc2"/>
<rect x="278.66" y="1452.19" width="33.24" height="23.48" fill="#b5a5c5"/>
<rect x="311.30" y="1452.19" width="33.24" height="23.48" fill="#dca78a"/>
<rect x="343.94" y="1452.19" width="33.24" height="23.48" fill="#e7c1a3"/>
<rect x="376.58" y="1452.19" width="33.24" height="23.48" fill="#e7c1a3"/>
<rect x="409.22" y="1452.19" width="33.24" height="23.48" fill="#a63a28"/>
<rect x="148.10" y="1475.07" width="33.24" height="23.48" fill="#c7bbcc"/>
<rect x="180.74" y="1475.07" width="33.24" height="23.48" fill="#b5a5c5"/>
<rect x="213.38" y="1475.07" width="33.24" height="23.48" fill="#bdadc7"/>
<rect x="246.02" y="1475.07" width="33.24" height="23.48" fill="#b9a9c6"/>
<rect x="278.66" y="1475.07" width="33.24" height="23.48" fill="#b5a5c5"/>
<rect x="311.30" y="1475.07" width="33.24" height="23.48" fill="#e9c7aa"/>
<rect x="343.94" y="1475.07" width="33.24" height="23.48" fill="#e1b193"/>
<rect x="376.58" y="1475.07" width="33.24" height="23.48" fill="#efdec5"/>
<rect x="409.22" y="1475.07" width="33.24" height="23.48" fill="#992316"/>
<rect x="148.10" y="1497.94" width="33.24" height="23.48" fill="#f2ecd5"/>
<rect x="180.74" y="1497.94" width="33.24" height="23.48" fill="#eedac0"/>
<rect x="213.38" y="1497.94" width="33.24" height="23.48" fill="#dca78a"/>
<rect x="246.02" y="1497.94" width="33.24" height="23.48" fill="#cf8a6e"/>
<rect x="278.66" y="1497.94" width="33.24" height="23.48" fill="#cf8a6e"/>
<rect x="311.30" y="1497.94" width="33.24" height="23.48" fill="#b5a5c5"/>
<rect x="343.94" y="1497.94" width="33.24" height="23.48" fill="#d4cad0"/>
<rect x="376.58" y="1497.94" width="33.24" height="23.48" fill="#d7ced1"/>
<rect x="409.22" y="1497.94" width="33.24" height="23.48" fill="#5a3a9b"/>
<rect x="148.10" y="1520.82" width="33.24" height="23.48" fill="#b9a9c6"/>
<rect x="180.74" y="1520.82" width="33.24" height="23.48" fill="#ae9cc2"/>
<rect x="213.38" y="1520.82" width="33.24" height="23.48" fill="#b5a5c5"/>
<rect x="246.02" y="1520.82" width="33.24" height="23.48" fill="#ae9cc2"/>
<rect x="278.66" y="1520.82" width="33.24" height="23.48" fill="#b5a5c5"/>
<rect x="311.30" y="1520.82" width="33.24" height="23.48" fill="#e1b193"/>
<rect x="343.94" y="1520.82" width="33.24" height="23.48" fill="#daa285"/>
<rect x="376.58" y="1520.82" width="33.24" height="23.48" fill="#deac8e"/>
<rect x="409.22" y="1520.82" width="33.24" height="23.48" fill="#b4503a"/>
<rect x="148.10" y="1543.70" width="33.24" height="23.48" fill="#bdadc7"/>
<rect x="180.74" y="1543.70" width="33.24" height="23.48" fill="#b9a9c6"/>
<rect x="213.38" y="1543.70" width="33.24" height="23.48" fill="#b9a9c6"/>
<rect x="246.02" y="1543.70" width="33.24" height="23.48" fill="#b9a9c6"/>
<rect x="278.66" y="1543.70" width="33.24" height="23.48" fill="#b9a9c6"/>
<rect x="311.30" y="1543.70" width="33.24" height="23.48" fill="#eaceb2"/>
<rect x="343.94" y="1543.70" width="33.24" height="23.48" fill="#daa285"/>
<rect x="376.58" y="1543.70" width="33.24" height="23.48" fill="#ecd4b9"/>
<rect x="409.22" y="1543.70" width="33.24" height="23.48" fill="#9c2c1c"/>
<rect x="148.10" y="1566.58" width="33.24" height="23.48" fill="#c4b6ca"/>
<rect x="180.74" y="1566.58" width="33.24" height="23.48" fill="#b5a5c5"/>
<rect x="213.38" y="1566.58" width="33.24" height="23.48" fill="#bdadc7"/>
<rect x="246.02" y="1566.58" width="33.24" height="23.48" fill="#b9a9c6"/>
<rect x="278.66" y="1566.58" width="33.24" height="23.48" fill="#b9a9c6"/>
<rect x="311.30" y="1566.58" width="33.24" height="23.48" fill="#eaceb2"/>
<rect x="343.94" y="1566.58" width="33.24" height="23.48" fill="#d89e80"/>
<rect x="376.58" y="1566.58" width="33.24" height="23.48" fill="#eedac0"/>
<rect x="409.22" y="1566.58" width="33.24" height="23.48" fill="#9c2c1c"/>
<rect x="148.10" y="1589.46" width="33.24" height="23.48" fill="#ae9cc2"/>
<rect x="180.74" y="1589.46" width="33.24" height="23.48" fill="#b5a5c5"/>
<rect x="213.38" y="1589.46" width="33.24" height="23.48" fill="#b5a5c5"/>
<rect x="246.02" y="1589.46" width="33.24" height="23.48" fill="#bdadc7"/>
<rect x="278.66" y="1589.46" width="33.24" height="23.48" fill="#b5a5c5"/>
<rect x="311.30" y="1589.46" width="33.24" height="23.48" fill="#c7795e"/>
<rect x="343.94" y="1589.46" width="33.24" height="23.48" fill="#f1e7d0"/>
<rect x="376.58" y="1589.46" width="33.24" height="23.48" fill="#d89e80"/>
<rect x="409.22" y="1589.46" width="33.24" height="23.48" fill="#bf674f"/>
<rect x="148.10" y="1612.33" width="33.24" height="23.48" fill="#b2a0c3"/>
<rect x="180.74" y="1612.33" width="33.24" height="23.48" fill="#ae9cc2"/>
<rect x="213.38" y="1612.33" width="33.24" height="23.48" fill="#b9a9c6"/>
<rect x="246.02" y="1612.33" width="33.24" height="23.48" fill="#b5a5c5"/>
<rect x="278.66" y="1612.33" width="33.24" height="23.48" fill="#b5a5c5"/>
<rect x="311.30" y="1612.33" width="33.24" height="23.48" fill="#e9c7aa"/>
<rect x="343.94" y="1612.33" width="33.24" height="23.48" fill="#c7795e"/>
<rect x="376.58" y="1612.33" width="33.24" height="23.48" fill="#e7c1a3"/>
<rect x="409.22" y="1612.33" width="33.24" height="23.48" fill="#bc614a"/>
<rect x="148.10" y="1635.21" width="33.24" height="23.48" fill="#a793bf"/>
<rect x="180.74" y="1635.21" width="33.24" height="23.48" fill="#dfd8d4"/>
<rect x="213.38" y="1635.21" width="33.24" height="23.48" fill="#a793bf"/>
<rect x="246.02" y="1635.21" width="33.24" height="23.48" fill="#9f8abc"/>
<rect x="278.66" y="1635.21" width="33.24" height="23.48" fill="#cbbfcd"/>
<rect x="311.30" y="1635.21" width="33.24" height="23.48" fill="#b7563f"/>
<rect x="343.94" y="1635.21" width="33.24" height="23.48" fill="#deac8e"/>
<rect x="376.58" y="1635.21" width="33.24" height="23.48" fill="#efdec5"/>
<rect x="409.22" y="1635.21" width="33.24" height="23.48" fill="#d39477"/>
<rect x="148.10" y="1658.09" width="33.24" height="23.48" fill="#c7bbcc"/>
<rect x="180.74" y="1658.09" width="33.24" height="23.48" fill="#a38fbd"/>
<rect x="213.38" y="1658.09" width="33.24" height="23.48" fill="#b2a0c3"/>
<rect x="246.02" y="1658.09" width="33.24" height="23.48" fill="#a793bf"/>
<rect x="278.66" y="1658.09" width="33.24" height="23.48" fill="#a793bf"/>
<rect x="311.30" y="1658.09" width="33.24" height="23.48" fill="#cf8a6e"/>
<rect x="343.94" y="1658.09" width="33.24" height="23.48" fill="#d89e80"/>
<rect x="376.58" y="1658.09" width="33.24" height="23.48" fill="#daa285"/>
<rect x="409.22" y="1658.09" width="33.24" height="23.48" fill="#ca7e64"/>
<rect x="148.10" y="1680.97" width="33.24" height="23.48" fill="#b5a5c5"/>
<rect x="180.74" y="1680.97" width="33.24" height="23.48" fill="#b2a0c3"/>
<rect x="213.38" y="1680.97" width="33.24" height="23.48" fill="#b2a0c3"/>
<rect x="246.02" y="1680.97" width="33.24" height="23.48" fill="#bdadc7"/>
<rect x="278.66" y="1680.97" width="33.24" height="23.48" fill="#c4b6ca"/>
<rect x="311.30" y="1680.97" width="33.24" height="23.48" fill="#e3b697"/>
<rect x="343.94" y="1680.97" width="33.24" height="23.48" fill="#e9c7aa"/>
<rect x="376.58" y="1680.97" width="33.24" height="23.48" fill="#e5bb9c"/>
<rect x="409.22" y="1680.97" width="33.24" height="23.48" fill="#9c2c1c"/>
<rect x="148.10" y="1703.84" width="33.24" height="23.48" fill="#b9a9c6"/>
<rect x="180.74" y="1703.84" width="33.24" height="23.48" fill="#b5a5c5"/>
<rect x="213.38" y="1703.84" width="33.24" height="23.48" fill="#b2a0c3"/>
<rect x="246.02" y="1703.84" width="33.24" height="23.48" fill="#b9a9c6"/>
<rect x="278.66" y="1703.84" width="33.24" height="23.48" fill="#ab97c0"/>
<rect x="311.30" y="1703.84" width="33.24" height="23.48" fill="#deac8e"/>
<rect x="343.94" y="1703.84" width="33.24" height="23.48" fill="#d18f73"/>
<rect x="376.58" y="1703.84" width="33.24" height="23.48" fill="#e5bb9c"/>
<rect x="409.22" y="1703.84" width="33.24" height="23.48" fill="#b4503a"/>
<rect x="148.10" y="1726.72" width="33.24" height="23.48" fill="#cbbfcd"/>
<rect x="180.74" y="1726.72" width="33.24" height="23.48" fill="#c7bbcc"/>
<rect x="213.38" y="1726.72" width="33.24" height="23.48" fill="#b5a5c5"/>
<rect x="246.02" y="1726.72" width="33.24" height="23.48" fill="#ab97c0"/>
<rect x="278.66" y="1726.72" width="33.24" height="23.48" fill="#9f8abc"/>
<rect x="311.30" y="1726.72" width="33.24" height="23.48" fill="#e3b697"/>
<rect x="343.94" y="1726.72" width="33.24" height="23.48" fill="#c7795e"/>
<rect x="376.58" y="1726.72" width="33.24" height="23.48" fill="#eedac0"/>
<rect x="409.22" y="1726.72" width="33.24" height="23.48" fill="#b7563f"/>
</g>
<text x="132.6" y="108.31" font-size="25.3" text-anchor="end">Aim2</text>
<text x="132.6" y="131.14" font-size="25.3" text-anchor="end">Casp1</text>
<text x="132.6" y="153.96" font-size="25.3" text-anchor="end">Casp3</text>
<text x="132.6" y="176.79" font-size="25.3" text-anchor="end">Casp7</text>
<text x="132.6" y="199.61" font-size="25.3" text-anchor="end">Casp8</text>
<text x="132.6" y="222.44" font-size="25.3" text-anchor="end">Il18</text>
<text x="132.6" y="245.26" font-size="25.3" text-anchor="end">Il1a</text>
<text x="132.6" y="268.09" font-size="25.3" text-anchor="end">Ipaf</text>
<text x="132.6" y="290.91" font-size="25.3" text-anchor="end">Nlrp1b</text>
<text x="132.6" y="313.74" font-size="25.3" text-anchor="end">Nlrp3</text>
<text x="132.6" y="336.56" font-size="25.3" text-anchor="end">Rip3</text>
<text x="132.6" y="359.39" font-size="25.3" text-anchor="end">Ask1</text>
<text x="132.6" y="394.57" font-size="25.3" text-anchor="end">Ikk</text>
<text x="132.6" y="417.31" font-size="25.3" text-anchor="end">Jnk</text>
<text x="132.6" y="440.04" font-size="25.3" text-anchor="end">Nf-kb</text>
<text x="132.6" y="462.78" font-size="25.3" text-anchor="end">Smad3</text>
<text x="132.6" y="485.52" font-size="25.3" text-anchor="end">Smad4</text>
<text x="132.6" y="508.26" font-size="25.3" text-anchor="end">Tlr4</text>
<text x="132.6" y="530.99" font-size="25.3" text-anchor="end">Tnfr</text>
<text x="132.6" y="553.73" font-size="25.3" text-anchor="end">Traf6</text>
<text x="132.6" y="589.59" font-size="25.3" text-anchor="end">Gk</text>
<text x="132.6" y="612.38" font-size="25.3" text-anchor="end">Glut4</text>
<text x="132.6" y="635.17" font-size="25.3" text-anchor="end">Gys2</text>
<text x="132.6" y="657.96" font-size="25.3" text-anchor="end">Insr</text>
<text x="132.6" y="680.75" font-size="25.3" text-anchor="end">Irs1</text>
<text x="132.6" y="703.54" font-size="25.3" text-anchor="end">Mapk1</text>
<text x="132.6" y="726.33" font-size="25.3" text-anchor="end">Mapk3</text>
<text x="132.6" y="749.12" font-size="25.3" text-anchor="end">Pepck</text>
<text x="132.6" y="771.91" font-size="25.3" text-anchor="end">Pkc</text>
<text x="132.6" y="794.70" font-size="25.3" text-anchor="end">Pyg</text>
<text x="132.6" y="830.10" font-size="25.3" text-anchor="end">Cd36</text>
<text x="132.6" y="852.90" font-size="25.3" text-anchor="end">Cpt1</text>
<text x="132.6" y="875.70" font-size="25.3" text-anchor="end">Gpat2</text>
<text x="132.6" y="898.50" font-size="25.3" text-anchor="end">Hmgcr</text>
<text x="132.6" y="921.30" font-size="25.3" text-anchor="end">Hmgcs1</text>
<text x="132.6" y="944.10" font-size="25.3" text-anchor="end">Scarb1</text>
<text x="132.6" y="966.90" font-size="25.3" text-anchor="end">Scd1</text>
<text x="132.6" y="989.70" font-size="25.3" text-anchor="end">Sqle</text>
<text x="132.6" y="1012.50" font-size="25.3" text-anchor="end">Srebf2</text>
<text x="132.6" y="1035.30" font-size="25.3" text-anchor="end">Srebp1</text>
<text x="132.6" y="1070.12" font-size="25.3" text-anchor="end">Ccr1</text>
<text x="132.6" y="1092.95" font-size="25.3" text-anchor="end">Ccr2</text>
<text x="132.6" y="1115.78" font-size="25.3" text-anchor="end">Cd14</text>
<text x="132.6" y="1138.62" font-size="25.3" text-anchor="end">F4/80, emr1</text>
<text x="132.6" y="1161.45" font-size="25.3" text-anchor="end">Cd68</text>
<text x="132.6" y="1184.28" font-size="25.3" text-anchor="end">Cd86</text>
<text x="132.6" y="1207.12" font-size="25.3" text-anchor="end">Il-1a</text>
<text x="132.6" y="1229.95" font-size="25.3" text-anchor="end">Il-1b</text>
<text x="132.6" y="1252.78" font-size="25.3" text-anchor="end">Mac-2</text>
<text x="132.6" y="1275.62" font-size="25.3" text-anchor="end">Mcp-1</text>
<text x="132.6" y="1298.45" font-size="25.3" text-anchor="end">Rantes</text>
<text x="132.6" y="1321.28" font-size="25.3" text-anchor="end">Tnfa</text>
<text x="132.6" y="1356.54" font-size="25.3" text-anchor="end">α-sma</text>
<text x="132.6" y="1379.42" font-size="25.3" text-anchor="end">Cd146</text>
<text x="132.6" y="1402.29" font-size="25.3" text-anchor="end">Col1a1</text>
<text x="132.6" y="1425.17" font-size="25.3" text-anchor="end">Col1a2</text>
<text x="132.6" y="1448.05" font-size="25.3" text-anchor="end">Col3a1</text>
<text x="132.6" y="1470.93" font-size="25.3" text-anchor="end">Col5a1</text>
<text x="132.6" y="1493.81" font-size="25.3" text-anchor="end">Col5a2</text>
<text x="132.6" y="1516.68" font-size="25.3" text-anchor="end">Col5a3</text>
<text x="132.6" y="1539.56" font-size="25.3" text-anchor="end">Col6a1</text>
<text x="132.6" y="1562.44" font-size="25.3" text-anchor="end">Col6a2</text>
<text x="132.6" y="1585.32" font-size="25.3" text-anchor="end">Col6a3</text>
<text x="132.6" y="1608.19" font-size="25.3" text-anchor="end">Mmp13</text>
<text x="132.6" y="1631.07" font-size="25.3" text-anchor="end">Mmp2</text>
<text x="132.6" y="1653.95" font-size="25.3" text-anchor="end">Pdgf</text>
<text x="132.6" y="1676.83" font-size="25.3" text-anchor="end">Tgfb</text>
<text x="132.6" y="1699.71" font-size="25.3" text-anchor="end">Timp1</text>
<text x="132.6" y="1722.58" font-size="25.3" text-anchor="end">Timp2</text>
<text x="132.6" y="1745.46" font-size="25.3" text-anchor="end">Timp3</text>
<rect x="309.4" y="86.5" width="2.1" height="1663.1" fill="#000"/>
<rect x="451.3" y="89.60" width="2" height="273.90" fill="#000"/>
<text transform="translate(458.6,224.1) rotate(90)" font-size="25" text-anchor="middle">Cell death</text>
<rect x="451.3" y="375.90" width="2" height="181.90" fill="#000"/>
<text transform="translate(489.6,469.6) rotate(90)" font-size="25" text-anchor="middle">Inflammation</text>
<text transform="translate(459.9,469.3) rotate(90)" font-size="25" text-anchor="middle">signalling</text>
<rect x="451.3" y="570.90" width="2" height="227.90" fill="#000"/>
<text transform="translate(462.4,688.2) rotate(90)" font-size="25" text-anchor="middle">Insulin signalling</text>
<rect x="451.3" y="811.40" width="2" height="228.00" fill="#000"/>
<text transform="translate(461.7,935.6) rotate(90)" font-size="25" text-anchor="middle">Lipid metabolism</text>
<rect x="451.3" y="1051.40" width="2" height="274.00" fill="#000"/>
<text transform="translate(460.4,1198.2) rotate(90)" font-size="25" text-anchor="middle">Monocyte recruitment</text>
<rect x="451.3" y="1337.80" width="2" height="411.80" fill="#000"/>
<text transform="translate(457.4,1541.4) rotate(90)" font-size="25" text-anchor="middle">Fibrosis</text>
<text x="233.8" y="79.8" font-size="25.2" text-anchor="middle">CHOW</text>
<text x="379.7" y="79.8" font-size="25.2" text-anchor="middle">DIO-NASH</text>
<defs><linearGradient id="cb" x1="0" x2="1" y1="0" y2="0"><stop offset="0" stop-color="#5a389c"/><stop offset="0.504" stop-color="#f3f1da"/><stop offset="1" stop-color="#8b0000"/></linearGradient></defs>
<rect x="174.8" y="1769.4" width="228.5" height="26.4" fill="url(#cb)"/>
<text x="151.5" y="1821" font-size="25">Low</text>
<text x="288" y="1816" font-size="25" text-anchor="middle">Relative</text>
<text x="291.5" y="1845.3" font-size="25" text-anchor="middle">expression</text>
<text x="377" y="1821" font-size="25">High</text>
<g>
<rect x="750.1" y="120.0" width="4.8" height="77.5" fill="#F8766D"/>
<rect x="740" y="117.4" width="25.0" height="5.3" fill="#F8766D"/>
<rect x="728" y="197.5" width="49.0" height="268.5" fill="#F8766D"/>
<rect x="825.5" y="425.8" width="4.8" height="14.0" fill="#00BFC4"/>
<rect x="815" y="423.2" width="24.7" height="5.3" fill="#00BFC4"/>
<rect x="803" y="439.8" width="49.7" height="26.2" fill="#00BFC4"/>
<rect x="950.1" y="442.0" width="4.8" height="4.0" fill="#F8766D"/>
<rect x="940" y="439.4" width="24.2" height="5.3" fill="#F8766D"/>
<rect x="928" y="446.0" width="49.0" height="20.0" fill="#F8766D"/>
<rect x="1024.8" y="450.2" width="4.8" height="1.7" fill="#00BFC4"/>
<rect x="1014.7" y="447.6" width="24.6" height="5.3" fill="#00BFC4"/>
<rect x="1002" y="451.9" width="50.3" height="14.1" fill="#00BFC4"/>
<rect x="1149.4" y="210.5" width="4.8" height="29.7" fill="#F8766D"/>
<rect x="1139.7" y="207.9" width="23.8" height="5.3" fill="#F8766D"/>
<rect x="1126.5" y="240.2" width="50.7" height="225.8" fill="#F8766D"/>
<rect x="1224.2" y="370.0" width="4.8" height="23.8" fill="#00BFC4"/>
<rect x="1215.7" y="367.4" width="22.7" height="5.3" fill="#00BFC4"/>
<rect x="1202" y="393.8" width="49.2" height="72.2" fill="#00BFC4"/>
<rect x="699.6" y="81.9" width="5.2" height="387" fill="#000"/>
<rect x="688" y="463.7" width="592" height="5.3" fill="#000"/>
<rect x="688.3" y="82.0" width="14" height="4" fill="#000"/>
<text x="683.2" y="90.2" font-size="25" text-anchor="end">30</text>
<rect x="688.3" y="209.3" width="14" height="4" fill="#000"/>
<text x="683.2" y="217.5" font-size="25" text-anchor="end">20</text>
<rect x="688.3" y="336.6" width="14" height="4" fill="#000"/>
<text x="683.2" y="344.8" font-size="25" text-anchor="end">10</text>
<rect x="688.3" y="463.9" width="14" height="4" fill="#000"/>
<text x="683.2" y="472.1" font-size="25" text-anchor="end">0</text>
<rect x="786.9" y="466" width="5.2" height="15.5" fill="#000"/>
<rect x="986.5" y="466" width="5.2" height="15.5" fill="#000"/>
<rect x="1185.9" y="466" width="5.2" height="15.5" fill="#000"/>
<text transform="translate(793.6,504.5) rotate(-45)" font-size="25" text-anchor="end">Col1a1</text>
<text transform="translate(993.4,506) rotate(-45)" font-size="25" text-anchor="end">Acta2</text>
<text transform="translate(1194,504.4) rotate(-45)" font-size="25" text-anchor="end">Lgals3</text>
<text font-size="27" x="753" y="119.5" text-anchor="middle">***</text>
<text font-size="27" x="955" y="442" text-anchor="middle">*</text>
<text font-size="27" x="1152.6" y="210" text-anchor="middle">***</text>
<text transform="translate(630,280) rotate(-90)" font-size="27.8" text-anchor="middle">Relative expression</text>
<rect x="1119.8" y="92.4" width="57.2" height="4.2" fill="#F8766D"/>
<rect x="1121.6" y="123" width="56.5" height="4.1" fill="#00BFC4"/>
<text x="1203.7" y="100.4" font-size="25">mRNA</text>
<text x="1205.7" y="133.8" font-size="25">Protein</text>
</g>
<g>
<rect x="1396" y="40.3" width="2" height="468" fill="#000"/>
<rect x="1396" y="506.2" width="502" height="2" fill="#000"/>
<rect x="1391.4" y="60.8" width="5" height="1.8" fill="#000"/>
<text x="1388.9" y="72.6" font-size="25" text-anchor="end">30</text>
<rect x="1857.7" y="507" width="1.8" height="5" fill="#000"/>
<text x="1858.6" y="536.8" font-size="25" text-anchor="middle">30</text>
<rect x="1391.4" y="131.4" width="5" height="1.8" fill="#000"/>
<text x="1388.9" y="143.2" font-size="25" text-anchor="end">20</text>
<rect x="1784.4" y="507" width="1.8" height="5" fill="#000"/>
<text x="1785.3" y="536.8" font-size="25" text-anchor="middle">20</text>
<rect x="1391.4" y="202.0" width="5" height="1.8" fill="#000"/>
<text x="1388.9" y="213.8" font-size="25" text-anchor="end">10</text>
<rect x="1711.1" y="507" width="1.8" height="5" fill="#000"/>
<text x="1712.0" y="536.8" font-size="25" text-anchor="middle">10</text>
<rect x="1391.4" y="272.6" width="5" height="1.8" fill="#000"/>
<text x="1386.2" y="284.4" font-size="25" text-anchor="end">0</text>
<rect x="1637.8" y="507" width="1.8" height="5" fill="#000"/>
<text x="1638.7" y="536.8" font-size="25" text-anchor="middle">0</text>
<rect x="1391.4" y="343.2" width="5" height="1.8" fill="#000"/>
<text x="1388.9" y="355.0" font-size="25" text-anchor="end">-10</text>
<rect x="1564.5" y="507" width="1.8" height="5" fill="#000"/>
<text x="1565.4" y="536.8" font-size="25" text-anchor="middle">-10</text>
<rect x="1391.4" y="413.8" width="5" height="1.8" fill="#000"/>
<text x="1388.9" y="425.6" font-size="25" text-anchor="end">-20</text>
<rect x="1491.2" y="507" width="1.8" height="5" fill="#000"/>
<text x="1492.1" y="536.8" font-size="25" text-anchor="middle">-20</text>
<rect x="1391.4" y="484.4" width="5" height="1.8" fill="#000"/>
<text x="1388.9" y="496.2" font-size="25" text-anchor="end">-30</text>
<rect x="1417.9" y="507" width="1.8" height="5" fill="#000"/>
<text x="1418.8" y="536.8" font-size="25" text-anchor="middle">-30</text>
<text x="1646.5" y="564.7" font-size="25" text-anchor="middle">PC1(85%)</text>
<text transform="translate(1349.2,274) rotate(-90)" font-size="25" text-anchor="middle">PC2(5%)</text>
<text x="1651.5" y="73.3" font-size="25.3" text-anchor="middle">mRNA</text>
<circle cx="1496.3" cy="224.3" r="14.7" fill="#000"/>
<circle cx="1511.7" cy="239.4" r="14.7" fill="#000"/>
<circle cx="1507" cy="308.8" r="14.7" fill="#000"/>
<circle cx="1518" cy="323.6" r="14.7" fill="#000"/>
<circle cx="1533.8" cy="329.9" r="14.7" fill="#000"/>
<circle cx="1817.3" cy="250.5" r="14.7" fill="#00A651"/>
<circle cx="1848.2" cy="285.1" r="14.7" fill="#00A651"/>
<circle cx="1794" cy="296.2" r="14.7" fill="#00A651"/>
<circle cx="1802.5" cy="297.1" r="14.7" fill="#00A651"/>
</g>
<g>
<rect x="681.5" y="609.5" width="2" height="476" fill="#000"/>
<rect x="681.5" y="1083.4" width="479" height="2" fill="#000"/>
<rect x="676.5" y="629.9" width="5" height="1.8" fill="#000"/>
<text x="673.6" y="641.6" font-size="25" text-anchor="end">200</text>
<rect x="1138.6" y="1084" width="1.8" height="5" fill="#000"/>
<text x="1139.5" y="1114" font-size="25" text-anchor="middle">200</text>
<rect x="676.5" y="737.8" width="5" height="1.8" fill="#000"/>
<text x="673.6" y="749.5" font-size="25" text-anchor="end">100</text>
<rect x="1029.6" y="1084" width="1.8" height="5" fill="#000"/>
<text x="1030.5" y="1114" font-size="25" text-anchor="middle">100</text>
<rect x="676.5" y="845.7" width="5" height="1.8" fill="#000"/>
<text x="667" y="857.4" font-size="25" text-anchor="end">0</text>
<rect x="920.6" y="1084" width="1.8" height="5" fill="#000"/>
<text x="921.5" y="1114" font-size="25" text-anchor="middle">0</text>
<rect x="676.5" y="953.6" width="5" height="1.8" fill="#000"/>
<text x="673.6" y="965.3" font-size="25" text-anchor="end">-100</text>
<rect x="811.6" y="1084" width="1.8" height="5" fill="#000"/>
<text x="812.5" y="1114" font-size="25" text-anchor="middle">-100</text>
<rect x="676.5" y="1061.5" width="5" height="1.8" fill="#000"/>
<text x="673.6" y="1073.2" font-size="25" text-anchor="end">-200</text>
<rect x="702.6" y="1084" width="1.8" height="5" fill="#000"/>
<text x="703.5" y="1114" font-size="25" text-anchor="middle">-200</text>
<text x="921.5" y="1141.8" font-size="25" text-anchor="middle">PC1(24%)</text>
<text transform="translate(632,847) rotate(-90)" font-size="25" text-anchor="middle">PC2 (17%)</text>
<text x="944.6" y="636.5" font-size="25" text-anchor="middle">Protein</text>
<ellipse cx="886" cy="726.9" rx="15.4" ry="16.2" fill="#00A651"/>
<ellipse cx="932.6" cy="772.3" rx="15.4" ry="16.2" fill="#00A651"/>
<ellipse cx="880.8" cy="797.2" rx="15.4" ry="16.2" fill="#00A651"/>
<ellipse cx="726" cy="843.4" rx="15.4" ry="16.2" fill="#00A651"/>
<ellipse cx="1083.5" cy="803.1" rx="15.4" ry="16.2" fill="#000"/>
<ellipse cx="1035.3" cy="872.6" rx="15.4" ry="16.2" fill="#000"/>
<ellipse cx="976.8" cy="926" rx="15.4" ry="16.2" fill="#000"/>
<ellipse cx="1017.5" cy="943.8" rx="15.4" ry="16.2" fill="#000"/>
<ellipse cx="839" cy="1026.3" rx="15.4" ry="16.2" fill="#000"/>
<ellipse cx="1163.3" cy="810.6" rx="7.1" ry="7.9" fill="#000"/>
<ellipse cx="1163.3" cy="842.6" rx="7.1" ry="7.9" fill="#00A651"/>
<text x="1175.6" y="818.7" font-size="25">CHOW</text>
<text x="1175.6" y="848.6" font-size="24.5">DIO-NASH</text>
</g>
<g>
<ellipse cx="1621.2" cy="778.6" rx="79.8" ry="76" fill="rgba(0,191,196,0.5)"/>
<ellipse cx="1595.3" cy="777.8" rx="94.5" ry="92.1" fill="rgba(248,118,109,0.5)"/>
<ellipse cx="1673.9" cy="1031" rx="66.8" ry="58.3" fill="rgba(0,191,196,0.5)"/>
<ellipse cx="1598" cy="1032.4" rx="94" ry="92" fill="rgba(248,118,109,0.5)"/>
<text x="1389" y="652.7" font-size="25" text-anchor="start">RNA-seq</text>
<text x="1389" y="682.2" font-size="25" text-anchor="start">total genes</text>
<text x="1719.2" y="652.7" font-size="25" text-anchor="start">Proteomics</text>
<text x="1719.2" y="682.2" font-size="25" text-anchor="start">total proteins</text>
<text x="1391.5" y="920.2" font-size="25" text-anchor="start">RNA-seq</text>
<text x="1391.5" y="950.2" font-size="25" text-anchor="start">DE genes</text>
<text x="1722" y="920.2" font-size="25" text-anchor="start">Proteomics</text>
<text x="1722" y="950.2" font-size="25" text-anchor="start">DE proteins</text>
<text x="1494.5" y="785" font-size="25" text-anchor="end">8927</text>
<text x="1624" y="785" font-size="25" text-anchor="middle">5748</text>
<text x="1708" y="785" font-size="25" text-anchor="start">220</text>
<text x="1561" y="1039" font-size="25" text-anchor="middle">6484</text>
<text x="1649" y="1039" font-size="25" text-anchor="middle">241</text>
<text x="1717.5" y="1039" font-size="25" text-anchor="middle">134</text>
</g>
<g>
<rect x="678.8" y="1252.4" width="565.5" height="460.3" fill="none" stroke="#000" stroke-width="2"/>
<rect x="673.8" y="1263.1" width="5" height="1.8" fill="#000"/>
<text x="672.5" y="1274.3" font-size="24.5" text-anchor="end">6</text>
<rect x="673.8" y="1377.7" width="5" height="1.8" fill="#000"/>
<text x="672.5" y="1388.9" font-size="24.5" text-anchor="end">3</text>
<rect x="673.8" y="1492.3" width="5" height="1.8" fill="#000"/>
<text x="672.5" y="1503.5" font-size="24.5" text-anchor="end">0</text>
<rect x="673.8" y="1606.9" width="5" height="1.8" fill="#000"/>
<text x="672.5" y="1618.1" font-size="24.5" text-anchor="end">-3</text>
<rect x="703.7" y="1712" width="1.8" height="5" fill="#000"/>
<text x="704.6" y="1737.5" font-size="24.5" text-anchor="middle">-6</text>
<rect x="832.1" y="1712" width="1.8" height="5" fill="#000"/>
<text x="833.0" y="1737.5" font-size="24.5" text-anchor="middle">-3</text>
<rect x="960.5" y="1712" width="1.8" height="5" fill="#000"/>
<text x="961.4" y="1737.5" font-size="24.5" text-anchor="middle">0</text>
<rect x="1088.9" y="1712" width="1.8" height="5" fill="#000"/>
<text x="1089.8" y="1737.5" font-size="24.5" text-anchor="middle">3</text>
<rect x="1217.3" y="1712" width="1.8" height="5" fill="#000"/>
<text x="1218.2" y="1737.5" font-size="24.5" text-anchor="middle">6</text>
<text x="961.6" y="1760" font-size="28.6" text-anchor="middle">Protein</text>
<text transform="translate(654.8,1492) rotate(-90)" font-size="29.3" text-anchor="middle">mRNA</text>
<circle cx="959.8" cy="1273.8" r="3.0" fill="rgba(190,190,190,0.32)" stroke="rgba(188,188,188,0.78)" stroke-width="2.0"/>
<circle cx="975.7" cy="1318.8" r="3.0" fill="rgba(190,190,190,0.32)" stroke="rgba(188,188,188,0.78)" stroke-width="2.0"/>
<circle cx="948.0" cy="1326.1" r="3.0" fill="rgba(190,190,190,0.32)" stroke="rgba(188,188,188,0.78)" stroke-width="2.0"/>
<circle cx="967.2" cy="1331.7" r="3.0" fill="rgba(190,190,190,0.32)" stroke="rgba(188,188,188,0.78)" stroke-width="2.0"/>
<circle cx="988.2" cy="1335.0" r="3.0" fill="rgba(190,190,190,0.32)" stroke="rgba(188,188,188,0.78)" stroke-width="2.0"/>
<circle cx="1016.3" cy="1326.1" r="3.0" fill="rgba(190,190,190,0.32)" stroke="rgba(188,188,188,0.78)" stroke-width="2.0"/>
<circle cx="1058.7" cy="1350.5" r="3.0" fill="rgba(190,190,190,0.32)" stroke="rgba(188,188,188,0.78)" stroke-width="2.0"/>
<circle cx="969.4" cy="1348.3" r="3.0" fill="rgba(190,190,190,0.32)" stroke="rgba(188,188,188,0.78)" stroke-width="2.0"/>
<circle cx="955.0" cy="1358.6" r="3.0" fill="rgba(190,190,190,0.32)" stroke="rgba(188,188,188,0.78)" stroke-width="2.0"/>
<circle cx="976.5" cy="1361.5" r="3.0" fill="rgba(190,190,190,0.32)" stroke="rgba(188,188,188,0.78)" stroke-width="2.0"/>
<circle cx="990.5" cy="1370.0" r="3.0" fill="rgba(190,190,190,0.32)" stroke="rgba(188,188,188,0.78)" stroke-width="2.0"/>
<circle cx="1000.0" cy="1372.2" r="3.0" fill="rgba(190,190,190,0.32)" stroke="rgba(188,188,188,0.78)" stroke-width="2.0"/>
<circle cx="956.5" cy="1380.7" r="3.0" fill="rgba(190,190,190,0.32)" stroke="rgba(188,188,188,0.78)" stroke-width="2.0"/>
<circle cx="939.9" cy="1395.5" r="3.0" fill="rgba(190,190,190,0.32)" stroke="rgba(188,188,188,0.78)" stroke-width="2.0"/>
<circle cx="1008.2" cy="1385.5" r="3.0" fill="rgba(190,190,190,0.32)" stroke="rgba(188,188,188,0.78)" stroke-width="2.0"/>
<circle cx="1054.3" cy="1393.6" r="3.0" fill="rgba(190,190,190,0.32)" stroke="rgba(188,188,188,0.78)" stroke-width="2.0"/>
<circle cx="1013.7" cy="1398.4" r="3.0" fill="rgba(190,190,190,0.32)" stroke="rgba(188,188,188,0.78)" stroke-width="2.0"/>
<circle cx="1049.5" cy="1404.0" r="3.0" fill="rgba(190,190,190,0.32)" stroke="rgba(188,188,188,0.78)" stroke-width="2.0"/>
<circle cx="928.9" cy="1405.0" r="3.0" fill="rgba(190,190,190,0.32)" stroke="rgba(188,188,188,0.78)" stroke-width="2.0"/>
<circle cx="1028.5" cy="1413.2" r="3.0" fill="rgba(190,190,190,0.32)" stroke="rgba(188,188,188,0.78)" stroke-width="2.0"/>
<circle cx="1035.5" cy="1410.2" r="3.0" fill="rgba(190,190,190,0.32)" stroke="rgba(188,188,188,0.78)" stroke-width="2.0"/>
<circle cx="1020.0" cy="1416.9" r="3.0" fill="rgba(190,190,190,0.32)" stroke="rgba(188,188,188,0.78)" stroke-width="2.0"/>
<circle cx="908.6" cy="1419.5" r="3.0" fill="rgba(190,190,190,0.32)" stroke="rgba(188,188,188,0.78)" stroke-width="2.0"/>
<circle cx="916.7" cy="1423.1" r="3.0" fill="rgba(190,190,190,0.32)" stroke="rgba(188,188,188,0.78)" stroke-width="2.0"/>
<circle cx="764.7" cy="1467.4" r="3.0" fill="rgba(190,190,190,0.32)" stroke="rgba(188,188,188,0.78)" stroke-width="2.0"/>
<circle cx="794.3" cy="1495.8" r="3.0" fill="rgba(190,190,190,0.32)" stroke="rgba(188,188,188,0.78)" stroke-width="2.0"/>
<circle cx="812.3" cy="1505.4" r="3.0" fill="rgba(190,190,190,0.32)" stroke="rgba(188,188,188,0.78)" stroke-width="2.0"/>
<circle cx="816.4" cy="1492.1" r="3.0" fill="rgba(190,190,190,0.32)" stroke="rgba(188,188,188,0.78)" stroke-width="2.0"/>
<circle cx="840.4" cy="1501.7" r="3.0" fill="rgba(190,190,190,0.32)" stroke="rgba(188,188,188,0.78)" stroke-width="2.0"/>
<circle cx="845.9" cy="1509.8" r="3.0" fill="rgba(190,190,190,0.32)" stroke="rgba(188,188,188,0.78)" stroke-width="2.0"/>
<circle cx="850.3" cy="1498.0" r="3.0" fill="rgba(190,190,190,0.32)" stroke="rgba(188,188,188,0.78)" stroke-width="2.0"/>
<circle cx="855.1" cy="1490.6" r="3.0" fill="rgba(190,190,190,0.32)" stroke="rgba(188,188,188,0.78)" stroke-width="2.0"/>
<circle cx="875.4" cy="1475.9" r="3.0" fill="rgba(190,190,190,0.32)" stroke="rgba(188,188,188,0.78)" stroke-width="2.0"/>
<circle cx="873.2" cy="1483.3" r="3.0" fill="rgba(190,190,190,0.32)" stroke="rgba(188,188,188,0.78)" stroke-width="2.0"/>
<circle cx="880.9" cy="1490.6" r="3.0" fill="rgba(190,190,190,0.32)" stroke="rgba(188,188,188,0.78)" stroke-width="2.0"/>
<circle cx="899.4" cy="1474.0" r="3.0" fill="rgba(190,190,190,0.32)" stroke="rgba(188,188,188,0.78)" stroke-width="2.0"/>
<circle cx="903.8" cy="1465.6" r="3.0" fill="rgba(190,190,190,0.32)" stroke="rgba(188,188,188,0.78)" stroke-width="2.0"/>
<circle cx="1056.8" cy="1475.9" r="3.0" fill="rgba(190,190,190,0.32)" stroke="rgba(188,188,188,0.78)" stroke-width="2.0"/>
<circle cx="1065.3" cy="1483.3" r="3.0" fill="rgba(190,190,190,0.32)" stroke="rgba(188,188,188,0.78)" stroke-width="2.0"/>
<circle cx="1059.8" cy="1490.6" r="3.0" fill="rgba(190,190,190,0.32)" stroke="rgba(188,188,188,0.78)" stroke-width="2.0"/>
<circle cx="1078.2" cy="1496.9" r="3.0" fill="rgba(190,190,190,0.32)" stroke="rgba(188,188,188,0.78)" stroke-width="2.0"/>
<circle cx="1090.0" cy="1499.5" r="3.0" fill="rgba(190,190,190,0.32)" stroke="rgba(188,188,188,0.78)" stroke-width="2.0"/>
<circle cx="1118.4" cy="1507.2" r="3.0" fill="rgba(190,190,190,0.32)" stroke="rgba(188,188,188,0.78)" stroke-width="2.0"/>
<circle cx="1168.6" cy="1503.5" r="3.0" fill="rgba(190,190,190,0.32)" stroke="rgba(188,188,188,0.78)" stroke-width="2.0"/>
<circle cx="1027.3" cy="1537.5" r="3.0" fill="rgba(190,190,190,0.32)" stroke="rgba(188,188,188,0.78)" stroke-width="2.0"/>
<circle cx="1001.5" cy="1546.0" r="3.0" fill="rgba(190,190,190,0.32)" stroke="rgba(188,188,188,0.78)" stroke-width="2.0"/>
<circle cx="1021.8" cy="1518.0" r="3.0" fill="rgba(190,190,190,0.32)" stroke="rgba(188,188,188,0.78)" stroke-width="2.0"/>
<circle cx="906.8" cy="1577.3" r="3.0" fill="rgba(190,190,190,0.32)" stroke="rgba(188,188,188,0.78)" stroke-width="2.0"/>
<circle cx="940.7" cy="1567.7" r="3.0" fill="rgba(190,190,190,0.32)" stroke="rgba(188,188,188,0.78)" stroke-width="2.0"/>
<circle cx="967.6" cy="1563.3" r="3.0" fill="rgba(190,190,190,0.32)" stroke="rgba(188,188,188,0.78)" stroke-width="2.0"/>
<circle cx="975.7" cy="1562.2" r="3.0" fill="rgba(190,190,190,0.32)" stroke="rgba(188,188,188,0.78)" stroke-width="2.0"/>
<circle cx="985.0" cy="1573.3" r="3.0" fill="rgba(190,190,190,0.32)" stroke="rgba(188,188,188,0.78)" stroke-width="2.0"/>
<circle cx="986.8" cy="1582.5" r="3.0" fill="rgba(190,190,190,0.32)" stroke="rgba(188,188,188,0.78)" stroke-width="2.0"/>
<circle cx="970.2" cy="1586.2" r="3.0" fill="rgba(190,190,190,0.32)" stroke="rgba(188,188,188,0.78)" stroke-width="2.0"/>
<circle cx="956.2" cy="1589.9" r="3.0" fill="rgba(190,190,190,0.32)" stroke="rgba(188,188,188,0.78)" stroke-width="2.0"/>
<circle cx="955.4" cy="1599.4" r="3.0" fill="rgba(190,190,190,0.32)" stroke="rgba(188,188,188,0.78)" stroke-width="2.0"/>
<circle cx="1019.2" cy="1591.0" r="3.0" fill="rgba(190,190,190,0.32)" stroke="rgba(188,188,188,0.78)" stroke-width="2.0"/>
<circle cx="935.1" cy="1606.8" r="3.0" fill="rgba(190,190,190,0.32)" stroke="rgba(188,188,188,0.78)" stroke-width="2.0"/>
<circle cx="946.2" cy="1626.7" r="3.0" fill="rgba(190,190,190,0.32)" stroke="rgba(188,188,188,0.78)" stroke-width="2.0"/>
<circle cx="910.0" cy="1627.8" r="3.0" fill="rgba(190,190,190,0.32)" stroke="rgba(188,188,188,0.78)" stroke-width="2.0"/>
<circle cx="923.3" cy="1692.4" r="3.0" fill="rgba(190,190,190,0.32)" stroke="rgba(188,188,188,0.78)" stroke-width="2.0"/>
<circle cx="894.6" cy="1522.0" r="3.0" fill="rgba(190,190,190,0.32)" stroke="rgba(188,188,188,0.78)" stroke-width="2.0"/>
<circle cx="889.0" cy="1538.6" r="3.0" fill="rgba(190,190,190,0.32)" stroke="rgba(188,188,188,0.78)" stroke-width="2.0"/>
<circle cx="936.7" cy="1482.3" r="3.0" fill="rgba(190,190,190,0.32)" stroke="rgba(188,188,188,0.78)" stroke-width="2.0"/>
<circle cx="947.0" cy="1489.1" r="3.0" fill="rgba(190,190,190,0.32)" stroke="rgba(188,188,188,0.78)" stroke-width="2.0"/>
<circle cx="944.4" cy="1458.2" r="3.0" fill="rgba(190,190,190,0.32)" stroke="rgba(188,188,188,0.78)" stroke-width="2.0"/>
<circle cx="964.8" cy="1438.6" r="3.0" fill="rgba(190,190,190,0.32)" stroke="rgba(188,188,188,0.78)" stroke-width="2.0"/>
<circle cx="958.8" cy="1452.2" r="3.0" fill="rgba(190,190,190,0.32)" stroke="rgba(188,188,188,0.78)" stroke-width="2.0"/>
<circle cx="947.6" cy="1456.9" r="3.0" fill="rgba(190,190,190,0.32)" stroke="rgba(188,188,188,0.78)" stroke-width="2.0"/>
<circle cx="949.7" cy="1459.9" r="3.0" fill="rgba(190,190,190,0.32)" stroke="rgba(188,188,188,0.78)" stroke-width="2.0"/>
<circle cx="955.5" cy="1475.1" r="3.0" fill="rgba(190,190,190,0.32)" stroke="rgba(188,188,188,0.78)" stroke-width="2.0"/>
<circle cx="941.8" cy="1485.0" r="3.0" fill="rgba(190,190,190,0.32)" stroke="rgba(188,188,188,0.78)" stroke-width="2.0"/>
<circle cx="952.2" cy="1452.1" r="3.0" fill="rgba(190,190,190,0.32)" stroke="rgba(188,188,188,0.78)" stroke-width="2.0"/>
<circle cx="965.0" cy="1442.6" r="3.0" fill="rgba(190,190,190,0.32)" stroke="rgba(188,188,188,0.78)" stroke-width="2.0"/>
<circle cx="936.3" cy="1478.4" r="3.0" fill="rgba(190,190,190,0.32)" stroke="rgba(188,188,188,0.78)" stroke-width="2.0"/>
<circle cx="954.0" cy="1468.1" r="3.0" fill="rgba(190,190,190,0.32)" stroke="rgba(188,188,188,0.78)" stroke-width="2.0"/>
<circle cx="959.6" cy="1453.6" r="3.0" fill="rgba(190,190,190,0.32)" stroke="rgba(188,188,188,0.78)" stroke-width="2.0"/>
<circle cx="950.5" cy="1469.3" r="3.0" fill="rgba(190,190,190,0.32)" stroke="rgba(188,188,188,0.78)" stroke-width="2.0"/>
<circle cx="944.6" cy="1461.5" r="3.0" fill="rgba(190,190,190,0.32)" stroke="rgba(188,188,188,0.78)" stroke-width="2.0"/>
<circle cx="957.8" cy="1488.9" r="3.0" fill="rgba(190,190,190,0.32)" stroke="rgba(188,188,188,0.78)" stroke-width="2.0"/>
<circle cx="939.2" cy="1473.2" r="3.0" fill="rgba(190,190,190,0.32)" stroke="rgba(188,188,188,0.78)" stroke-width="2.0"/>
<circle cx="948.0" cy="1491.6" r="3.0" fill="rgba(190,190,190,0.32)" stroke="rgba(188,188,188,0.78)" stroke-width="2.0"/>
<circle cx="956.9" cy="1451.9" r="3.0" fill="rgba(190,190,190,0.32)" stroke="rgba(188,188,188,0.78)" stroke-width="2.0"/>
<circle cx="934.9" cy="1484.8" r="3.0" fill="rgba(190,190,190,0.32)" stroke="rgba(188,188,188,0.78)" stroke-width="2.0"/>
<circle cx="943.0" cy="1485.5" r="3.0" fill="rgba(190,190,190,0.32)" stroke="rgba(188,188,188,0.78)" stroke-width="2.0"/>
<circle cx="956.8" cy="1484.4" r="3.0" fill="rgba(190,190,190,0.32)" stroke="rgba(188,188,188,0.78)" stroke-width="2.0"/>
<circle cx="933.3" cy="1485.5" r="3.0" fill="rgba(190,190,190,0.32)" stroke="rgba(188,188,188,0.78)" stroke-width="2.0"/>
<circle cx="963.8" cy="1444.5" r="3.0" fill="rgba(190,190,190,0.32)" stroke="rgba(188,188,188,0.78)" stroke-width="2.0"/>
<circle cx="963.6" cy="1474.7" r="3.0" fill="rgba(190,190,190,0.32)" stroke="rgba(188,188,188,0.78)" stroke-width="2.0"/>
<circle cx="941.3" cy="1470.6" r="3.0" fill="rgba(190,190,190,0.32)" stroke="rgba(188,188,188,0.78)" stroke-width="2.0"/>
<circle cx="960.9" cy="1479.7" r="3.0" fill="rgba(190,190,190,0.32)" stroke="rgba(188,188,188,0.78)" stroke-width="2.0"/>
<circle cx="959.6" cy="1480.7" r="3.0" fill="rgba(190,190,190,0.32)" stroke="rgba(188,188,188,0.78)" stroke-width="2.0"/>
<circle cx="958.3" cy="1491.6" r="3.0" fill="rgba(190,190,190,0.32)" stroke="rgba(188,188,188,0.78)" stroke-width="2.0"/>
<circle cx="957.3" cy="1445.0" r="3.0" fill="rgba(190,190,190,0.32)" stroke="rgba(188,188,188,0.78)" stroke-width="2.0"/>
<circle cx="941.9" cy="1490.8" r="3.0" fill="rgba(190,190,190,0.32)" stroke="rgba(188,188,188,0.78)" stroke-width="2.0"/>
<circle cx="959.0" cy="1475.0" r="3.0" fill="rgba(190,190,190,0.32)" stroke="rgba(188,188,188,0.78)" stroke-width="2.0"/>
<circle cx="942.2" cy="1479.6" r="3.0" fill="rgba(190,190,190,0.32)" stroke="rgba(188,188,188,0.78)" stroke-width="2.0"/>
<circle cx="956.4" cy="1491.2" r="3.0" fill="rgba(190,190,190,0.32)" stroke="rgba(188,188,188,0.78)" stroke-width="2.0"/>
<circle cx="958.5" cy="1481.1" r="3.0" fill="rgba(190,190,190,0.32)" stroke="rgba(188,188,188,0.78)" stroke-width="2.0"/>
<circle cx="956.7" cy="1477.4" r="3.0" fill="rgba(190,190,190,0.32)" stroke="rgba(188,188,188,0.78)" stroke-width="2.0"/>
<circle cx="963.8" cy="1461.0" r="3.0" fill="rgba(190,190,190,0.32)" stroke="rgba(188,188,188,0.78)" stroke-width="2.0"/>
<circle cx="962.8" cy="1491.3" r="3.0" fill="rgba(190,190,190,0.32)" stroke="rgba(188,188,188,0.78)" stroke-width="2.0"/>
<circle cx="963.7" cy="1456.4" r="3.0" fill="rgba(190,190,190,0.32)" stroke="rgba(188,188,188,0.78)" stroke-width="2.0"/>
<circle cx="946.8" cy="1486.4" r="3.0" fill="rgba(190,190,190,0.32)" stroke="rgba(188,188,188,0.78)" stroke-width="2.0"/>
<circle cx="957.9" cy="1462.9" r="3.0" fill="rgba(190,190,190,0.32)" stroke="rgba(188,188,188,0.78)" stroke-width="2.0"/>
<circle cx="948.3" cy="1480.8" r="3.0" fill="rgba(190,190,190,0.32)" stroke="rgba(188,188,188,0.78)" stroke-width="2.0"/>
<circle cx="961.4" cy="1479.8" r="3.0" fill="rgba(190,190,190,0.32)" stroke="rgba(188,188,188,0.78)" stroke-width="2.0"/>
<circle cx="953.3" cy="1462.8" r="3.0" fill="rgba(190,190,190,0.32)" stroke="rgba(188,188,188,0.78)" stroke-width="2.0"/>
<circle cx="964.6" cy="1458.2" r="3.0" fill="rgba(190,190,190,0.32)" stroke="rgba(188,188,188,0.78)" stroke-width="2.0"/>
<circle cx="935.5" cy="1489.0" r="3.0" fill="rgba(190,190,190,0.32)" stroke="rgba(188,188,188,0.78)" stroke-width="2.0"/>
<circle cx="952.0" cy="1445.5" r="3.0" fill="rgba(190,190,190,0.32)" stroke="rgba(188,188,188,0.78)" stroke-width="2.0"/>
<circle cx="961.1" cy="1481.2" r="3.0" fill="rgba(190,190,190,0.32)" stroke="rgba(188,188,188,0.78)" stroke-width="2.0"/>
<circle cx="965.0" cy="1472.8" r="3.0" fill="rgba(190,190,190,0.32)" stroke="rgba(188,188,188,0.78)" stroke-width="2.0"/>
<circle cx="964.5" cy="1472.4" r="3.0" fill="rgba(190,190,190,0.32)" stroke="rgba(188,188,188,0.78)" stroke-width="2.0"/>
<circle cx="941.9" cy="1488.3" r="3.0" fill="rgba(190,190,190,0.32)" stroke="rgba(188,188,188,0.78)" stroke-width="2.0"/>
<circle cx="937.1" cy="1484.8" r="3.0" fill="rgba(190,190,190,0.32)" stroke="rgba(188,188,188,0.78)" stroke-width="2.0"/>
<circle cx="957.1" cy="1447.8" r="3.0" fill="rgba(190,190,190,0.32)" stroke="rgba(188,188,188,0.78)" stroke-width="2.0"/>
<circle cx="944.8" cy="1486.6" r="3.0" fill="rgba(190,190,190,0.32)" stroke="rgba(188,188,188,0.78)" stroke-width="2.0"/>
<circle cx="936.5" cy="1487.4" r="3.0" fill="rgba(190,190,190,0.32)" stroke="rgba(188,188,188,0.78)" stroke-width="2.0"/>
<circle cx="940.6" cy="1465.8" r="3.0" fill="rgba(190,190,190,0.32)" stroke="rgba(188,188,188,0.78)" stroke-width="2.0"/>
<circle cx="952.0" cy="1467.2" r="3.0" fill="rgba(190,190,190,0.32)" stroke="rgba(188,188,188,0.78)" stroke-width="2.0"/>
<circle cx="943.3" cy="1479.9" r="3.0" fill="rgba(190,190,190,0.32)" stroke="rgba(188,188,188,0.78)" stroke-width="2.0"/>
<circle cx="954.4" cy="1464.4" r="3.0" fill="rgba(190,190,190,0.32)" stroke="rgba(188,188,188,0.78)" stroke-width="2.0"/>
<circle cx="943.6" cy="1478.6" r="3.0" fill="rgba(190,190,190,0.32)" stroke="rgba(188,188,188,0.78)" stroke-width="2.0"/>
<circle cx="961.5" cy="1460.8" r="3.0" fill="rgba(190,190,190,0.32)" stroke="rgba(188,188,188,0.78)" stroke-width="2.0"/>
<circle cx="946.2" cy="1464.3" r="3.0" fill="rgba(190,190,190,0.32)" stroke="rgba(188,188,188,0.78)" stroke-width="2.0"/>
<circle cx="941.1" cy="1474.8" r="3.0" fill="rgba(190,190,190,0.32)" stroke="rgba(188,188,188,0.78)" stroke-width="2.0"/>
<circle cx="939.4" cy="1488.7" r="3.0" fill="rgba(190,190,190,0.32)" stroke="rgba(188,188,188,0.78)" stroke-width="2.0"/>
<circle cx="950.7" cy="1485.1" r="3.0" fill="rgba(190,190,190,0.32)" stroke="rgba(188,188,188,0.78)" stroke-width="2.0"/>
<circle cx="963.1" cy="1450.5" r="3.0" fill="rgba(190,190,190,0.32)" stroke="rgba(188,188,188,0.78)" stroke-width="2.0"/>
<circle cx="943.5" cy="1488.8" r="3.0" fill="rgba(190,190,190,0.32)" stroke="rgba(188,188,188,0.78)" stroke-width="2.0"/>
<circle cx="957.8" cy="1443.7" r="3.0" fill="rgba(190,190,190,0.32)" stroke="rgba(188,188,188,0.78)" stroke-width="2.0"/>
<circle cx="955.0" cy="1486.2" r="3.0" fill="rgba(190,190,190,0.32)" stroke="rgba(188,188,188,0.78)" stroke-width="2.0"/>
<circle cx="960.0" cy="1490.2" r="3.0" fill="rgba(190,190,190,0.32)" stroke="rgba(188,188,188,0.78)" stroke-width="2.0"/>
<circle cx="965.5" cy="1482.6" r="3.0" fill="rgba(190,190,190,0.32)" stroke="rgba(188,188,188,0.78)" stroke-width="2.0"/>
<circle cx="943.3" cy="1460.7" r="3.0" fill="rgba(190,190,190,0.32)" stroke="rgba(188,188,188,0.78)" stroke-width="2.0"/>
<circle cx="946.8" cy="1464.7" r="3.0" fill="rgba(190,190,190,0.32)" stroke="rgba(188,188,188,0.78)" stroke-width="2.0"/>
<circle cx="955.2" cy="1490.4" r="3.0" fill="rgba(190,190,190,0.32)" stroke="rgba(188,188,188,0.78)" stroke-width="2.0"/>
<circle cx="936.5" cy="1487.0" r="3.0" fill="rgba(190,190,190,0.32)" stroke="rgba(188,188,188,0.78)" stroke-width="2.0"/>
<circle cx="956.8" cy="1450.5" r="3.0" fill="rgba(190,190,190,0.32)" stroke="rgba(188,188,188,0.78)" stroke-width="2.0"/>
<circle cx="944.1" cy="1475.2" r="3.0" fill="rgba(190,190,190,0.32)" stroke="rgba(188,188,188,0.78)" stroke-width="2.0"/>
<circle cx="950.1" cy="1459.8" r="3.0" fill="rgba(190,190,190,0.32)" stroke="rgba(188,188,188,0.78)" stroke-width="2.0"/>
<circle cx="947.4" cy="1480.9" r="3.0" fill="rgba(190,190,190,0.32)" stroke="rgba(188,188,188,0.78)" stroke-width="2.0"/>
<circle cx="943.2" cy="1487.9" r="3.0" fill="rgba(190,190,190,0.32)" stroke="rgba(188,188,188,0.78)" stroke-width="2.0"/>
<circle cx="953.7" cy="1452.2" r="3.0" fill="rgba(190,190,190,0.32)" stroke="rgba(188,188,188,0.78)" stroke-width="2.0"/>
<circle cx="952.4" cy="1466.9" r="3.0" fill="rgba(190,190,190,0.32)" stroke="rgba(188,188,188,0.78)" stroke-width="2.0"/>
<circle cx="962.7" cy="1442.0" r="3.0" fill="rgba(190,190,190,0.32)" stroke="rgba(188,188,188,0.78)" stroke-width="2.0"/>
<circle cx="956.8" cy="1460.2" r="3.0" fill="rgba(190,190,190,0.32)" stroke="rgba(188,188,188,0.78)" stroke-width="2.0"/>
<circle cx="940.2" cy="1482.7" r="3.0" fill="rgba(190,190,190,0.32)" stroke="rgba(188,188,188,0.78)" stroke-width="2.0"/>
<circle cx="950.1" cy="1491.0" r="3.0" fill="rgba(190,190,190,0.32)" stroke="rgba(188,188,188,0.78)" stroke-width="2.0"/>
<circle cx="932.5" cy="1482.6" r="3.0" fill="rgba(190,190,190,0.32)" stroke="rgba(188,188,188,0.78)" stroke-width="2.0"/>
<circle cx="951.0" cy="1471.6" r="3.0" fill="rgba(190,190,190,0.32)" stroke="rgba(188,188,188,0.78)" stroke-width="2.0"/>
<circle cx="959.4" cy="1473.6" r="3.0" fill="rgba(190,190,190,0.32)" stroke="rgba(188,188,188,0.78)" stroke-width="2.0"/>
<circle cx="928.4" cy="1489.9" r="3.0" fill="rgba(190,190,190,0.32)" stroke="rgba(188,188,188,0.78)" stroke-width="2.0"/>
<circle cx="964.6" cy="1466.6" r="3.0" fill="rgba(190,190,190,0.32)" stroke="rgba(188,188,188,0.78)" stroke-width="2.0"/>
<circle cx="944.9" cy="1465.6" r="3.0" fill="rgba(190,190,190,0.32)" stroke="rgba(188,188,188,0.78)" stroke-width="2.0"/>
<circle cx="953.3" cy="1472.8" r="3.0" fill="rgba(190,190,190,0.32)" stroke="rgba(188,188,188,0.78)" stroke-width="2.0"/>
<circle cx="951.5" cy="1485.2" r="3.0" fill="rgba(190,190,190,0.32)" stroke="rgba(188,188,188,0.78)" stroke-width="2.0"/>
<circle cx="965.2" cy="1444.4" r="3.0" fill="rgba(190,190,190,0.32)" stroke="rgba(188,188,188,0.78)" stroke-width="2.0"/>
<circle cx="951.9" cy="1472.0" r="3.0" fill="rgba(190,190,190,0.32)" stroke="rgba(188,188,188,0.78)" stroke-width="2.0"/>
<circle cx="960.5" cy="1471.1" r="3.0" fill="rgba(190,190,190,0.32)" stroke="rgba(188,188,188,0.78)" stroke-width="2.0"/>
<circle cx="952.4" cy="1481.5" r="3.0" fill="rgba(190,190,190,0.32)" stroke="rgba(188,188,188,0.78)" stroke-width="2.0"/>
<circle cx="940.7" cy="1482.8" r="3.0" fill="rgba(190,190,190,0.32)" stroke="rgba(188,188,188,0.78)" stroke-width="2.0"/>
<circle cx="956.0" cy="1482.3" r="3.0" fill="rgba(190,190,190,0.32)" stroke="rgba(188,188,188,0.78)" stroke-width="2.0"/>
<circle cx="944.8" cy="1486.0" r="3.0" fill="rgba(190,190,190,0.32)" stroke="rgba(188,188,188,0.78)" stroke-width="2.0"/>
<circle cx="949.8" cy="1474.8" r="3.0" fill="rgba(190,190,190,0.32)" stroke="rgba(188,188,188,0.78)" stroke-width="2.0"/>
<circle cx="943.5" cy="1471.2" r="3.0" fill="rgba(190,190,190,0.32)" stroke="rgba(188,188,188,0.78)" stroke-width="2.0"/>
<circle cx="946.9" cy="1474.1" r="3.0" fill="rgba(190,190,190,0.32)" stroke="rgba(188,188,188,0.78)" stroke-width="2.0"/>
<circle cx="955.7" cy="1477.9" r="3.0" fill="rgba(190,190,190,0.32)" stroke="rgba(188,188,188,0.78)" stroke-width="2.0"/>
<circle cx="940.7" cy="1466.0" r="3.0" fill="rgba(190,190,190,0.32)" stroke="rgba(188,188,188,0.78)" stroke-width="2.0"/>
<circle cx="952.6" cy="1450.1" r="3.0" fill="rgba(190,190,190,0.32)" stroke="rgba(188,188,188,0.78)" stroke-width="2.0"/>
<circle cx="952.2" cy="1447.5" r="3.0" fill="rgba(190,190,190,0.32)" stroke="rgba(188,188,188,0.78)" stroke-width="2.0"/>
<circle cx="952.7" cy="1490.6" r="3.0" fill="rgba(190,190,190,0.32)" stroke="rgba(188,188,188,0.78)" stroke-width="2.0"/>
<circle cx="939.4" cy="1474.3" r="3.0" fill="rgba(190,190,190,0.32)" stroke="rgba(188,188,188,0.78)" stroke-width="2.0"/>
<circle cx="954.1" cy="1470.6" r="3.0" fill="rgba(190,190,190,0.32)" stroke="rgba(188,188,188,0.78)" stroke-width="2.0"/>
<circle cx="952.9" cy="1453.0" r="3.0" fill="rgba(190,190,190,0.32)" stroke="rgba(188,188,188,0.78)" stroke-width="2.0"/>
<circle cx="949.3" cy="1474.8" r="3.0" fill="rgba(190,190,190,0.32)" stroke="rgba(188,188,188,0.78)" stroke-width="2.0"/>
<circle cx="949.5" cy="1452.3" r="3.0" fill="rgba(190,190,190,0.32)" stroke="rgba(188,188,188,0.78)" stroke-width="2.0"/>
<circle cx="941.3" cy="1462.0" r="3.0" fill="rgba(190,190,190,0.32)" stroke="rgba(188,188,188,0.78)" stroke-width="2.0"/>
<circle cx="960.6" cy="1447.2" r="3.0" fill="rgba(190,190,190,0.32)" stroke="rgba(188,188,188,0.78)" stroke-width="2.0"/>
<circle cx="964.9" cy="1488.4" r="3.0" fill="rgba(190,190,190,0.32)" stroke="rgba(188,188,188,0.78)" stroke-width="2.0"/>
<circle cx="956.8" cy="1490.2" r="3.0" fill="rgba(190,190,190,0.32)" stroke="rgba(188,188,188,0.78)" stroke-width="2.0"/>
<circle cx="963.6" cy="1443.4" r="3.0" fill="rgba(190,190,190,0.32)" stroke="rgba(188,188,188,0.78)" stroke-width="2.0"/>
<circle cx="956.8" cy="1464.5" r="3.0" fill="rgba(190,190,190,0.32)" stroke="rgba(188,188,188,0.78)" stroke-width="2.0"/>
<circle cx="960.2" cy="1475.4" r="3.0" fill="rgba(190,190,190,0.32)" stroke="rgba(188,188,188,0.78)" stroke-width="2.0"/>
<circle cx="931.1" cy="1483.1" r="3.0" fill="rgba(190,190,190,0.32)" stroke="rgba(188,188,188,0.78)" stroke-width="2.0"/>
<circle cx="957.8" cy="1442.7" r="3.0" fill="rgba(190,190,190,0.32)" stroke="rgba(188,188,188,0.78)" stroke-width="2.0"/>
<circle cx="962.2" cy="1475.9" r="3.0" fill="rgba(190,190,190,0.32)" stroke="rgba(188,188,188,0.78)" stroke-width="2.0"/>
<circle cx="961.0" cy="1452.2" r="3.0" fill="rgba(190,190,190,0.32)" stroke="rgba(188,188,188,0.78)" stroke-width="2.0"/>
<circle cx="965.9" cy="1469.0" r="3.0" fill="rgba(190,190,190,0.32)" stroke="rgba(188,188,188,0.78)" stroke-width="2.0"/>
<circle cx="929.6" cy="1488.4" r="3.0" fill="rgba(190,190,190,0.32)" stroke="rgba(188,188,188,0.78)" stroke-width="2.0"/>
<circle cx="934.0" cy="1489.5" r="3.0" fill="rgba(190,190,190,0.32)" stroke="rgba(188,188,188,0.78)" stroke-width="2.0"/>
<circle cx="960.1" cy="1481.5" r="3.0" fill="rgba(190,190,190,0.32)" stroke="rgba(188,188,188,0.78)" stroke-width="2.0"/>
<circle cx="947.2" cy="1487.2" r="3.0" fill="rgba(190,190,190,0.32)" stroke="rgba(188,188,188,0.78)" stroke-width="2.0"/>
<circle cx="963.0" cy="1466.8" r="3.0" fill="rgba(190,190,190,0.32)" stroke="rgba(188,188,188,0.78)" stroke-width="2.0"/>
<circle cx="952.3" cy="1461.2" r="3.0" fill="rgba(190,190,190,0.32)" stroke="rgba(188,188,188,0.78)" stroke-width="2.0"/>
<circle cx="953.4" cy="1472.1" r="3.0" fill="rgba(190,190,190,0.32)" stroke="rgba(188,188,188,0.78)" stroke-width="2.0"/>
<circle cx="962.3" cy="1443.1" r="3.0" fill="rgba(190,190,190,0.32)" stroke="rgba(188,188,188,0.78)" stroke-width="2.0"/>
<circle cx="964.8" cy="1450.6" r="3.0" fill="rgba(190,190,190,0.32)" stroke="rgba(188,188,188,0.78)" stroke-width="2.0"/>
<circle cx="948.5" cy="1452.8" r="3.0" fill="rgba(190,190,190,0.32)" stroke="rgba(188,188,188,0.78)" stroke-width="2.0"/>
<circle cx="943.4" cy="1458.1" r="3.0" fill="rgba(190,190,190,0.32)" stroke="rgba(188,188,188,0.78)" stroke-width="2.0"/>
<circle cx="961.2" cy="1491.8" r="3.0" fill="rgba(190,190,190,0.32)" stroke="rgba(188,188,188,0.78)" stroke-width="2.0"/>
<circle cx="944.1" cy="1485.7" r="3.0" fill="rgba(190,190,190,0.32)" stroke="rgba(188,188,188,0.78)" stroke-width="2.0"/>
<circle cx="953.2" cy="1459.1" r="3.0" fill="rgba(190,190,190,0.32)" stroke="rgba(188,188,188,0.78)" stroke-width="2.0"/>
<circle cx="964.4" cy="1443.0" r="3.0" fill="rgba(190,190,190,0.32)" stroke="rgba(188,188,188,0.78)" stroke-width="2.0"/>
<circle cx="940.7" cy="1471.3" r="3.0" fill="rgba(190,190,190,0.32)" stroke="rgba(188,188,188,0.78)" stroke-width="2.0"/>
<circle cx="959.0" cy="1448.1" r="3.0" fill="rgba(190,190,190,0.32)" stroke="rgba(188,188,188,0.78)" stroke-width="2.0"/>
<circle cx="963.7" cy="1483.5" r="3.0" fill="rgba(190,190,190,0.32)" stroke="rgba(188,188,188,0.78)" stroke-width="2.0"/>
<circle cx="959.5" cy="1437.2" r="3.0" fill="rgba(190,190,190,0.32)" stroke="rgba(188,188,188,0.78)" stroke-width="2.0"/>
<circle cx="960.7" cy="1462.5" r="3.0" fill="rgba(190,190,190,0.32)" stroke="rgba(188,188,188,0.78)" stroke-width="2.0"/>
<circle cx="935.0" cy="1487.9" r="3.0" fill="rgba(190,190,190,0.32)" stroke="rgba(188,188,188,0.78)" stroke-width="2.0"/>
<circle cx="957.1" cy="1483.9" r="3.0" fill="rgba(190,190,190,0.32)" stroke="rgba(188,188,188,0.78)" stroke-width="2.0"/>
<circle cx="964.6" cy="1449.9" r="3.0" fill="rgba(190,190,190,0.32)" stroke="rgba(188,188,188,0.78)" stroke-width="2.0"/>
<circle cx="941.6" cy="1474.2" r="3.0" fill="rgba(190,190,190,0.32)" stroke="rgba(188,188,188,0.78)" stroke-width="2.0"/>
<circle cx="963.0" cy="1476.4" r="3.0" fill="rgba(190,190,190,0.32)" stroke="rgba(188,188,188,0.78)" stroke-width="2.0"/>
<circle cx="948.0" cy="1478.8" r="3.0" fill="rgba(190,190,190,0.32)" stroke="rgba(188,188,188,0.78)" stroke-width="2.0"/>
<circle cx="947.9" cy="1453.0" r="3.0" fill="rgba(190,190,190,0.32)" stroke="rgba(188,188,188,0.78)" stroke-width="2.0"/>
<circle cx="947.5" cy="1475.1" r="3.0" fill="rgba(190,190,190,0.32)" stroke="rgba(188,188,188,0.78)" stroke-width="2.0"/>
<circle cx="941.7" cy="1468.6" r="3.0" fill="rgba(190,190,190,0.32)" stroke="rgba(188,188,188,0.78)" stroke-width="2.0"/>
<circle cx="963.9" cy="1472.1" r="3.0" fill="rgba(190,190,190,0.32)" stroke="rgba(188,188,188,0.78)" stroke-width="2.0"/>
<circle cx="960.1" cy="1462.6" r="3.0" fill="rgba(190,190,190,0.32)" stroke="rgba(188,188,188,0.78)" stroke-width="2.0"/>
<circle cx="964.0" cy="1475.5" r="3.0" fill="rgba(190,190,190,0.32)" stroke="rgba(188,188,188,0.78)" stroke-width="2.0"/>
<circle cx="940.4" cy="1473.8" r="3.0" fill="rgba(190,190,190,0.32)" stroke="rgba(188,188,188,0.78)" stroke-width="2.0"/>
<circle cx="949.0" cy="1487.8" r="3.0" fill="rgba(190,190,190,0.32)" stroke="rgba(188,188,188,0.78)" stroke-width="2.0"/>
<circle cx="949.8" cy="1447.1" r="3.0" fill="rgba(190,190,190,0.32)" stroke="rgba(188,188,188,0.78)" stroke-width="2.0"/>
<circle cx="955.7" cy="1477.4" r="3.0" fill="rgba(190,190,190,0.32)" stroke="rgba(188,188,188,0.78)" stroke-width="2.0"/>
<circle cx="964.5" cy="1453.5" r="3.0" fill="rgba(190,190,190,0.32)" stroke="rgba(188,188,188,0.78)" stroke-width="2.0"/>
<circle cx="956.8" cy="1448.9" r="3.0" fill="rgba(190,190,190,0.32)" stroke="rgba(188,188,188,0.78)" stroke-width="2.0"/>
<circle cx="930.0" cy="1489.3" r="3.0" fill="rgba(190,190,190,0.32)" stroke="rgba(188,188,188,0.78)" stroke-width="2.0"/>
<circle cx="948.9" cy="1489.1" r="3.0" fill="rgba(190,190,190,0.32)" stroke="rgba(188,188,188,0.78)" stroke-width="2.0"/>
<circle cx="960.8" cy="1485.5" r="3.0" fill="rgba(190,190,190,0.32)" stroke="rgba(188,188,188,0.78)" stroke-width="2.0"/>
<circle cx="952.4" cy="1491.9" r="3.0" fill="rgba(190,190,190,0.32)" stroke="rgba(188,188,188,0.78)" stroke-width="2.0"/>
<circle cx="962.5" cy="1454.4" r="3.0" fill="rgba(190,190,190,0.32)" stroke="rgba(188,188,188,0.78)" stroke-width="2.0"/>
<circle cx="948.9" cy="1457.2" r="3.0" fill="rgba(190,190,190,0.32)" stroke="rgba(188,188,188,0.78)" stroke-width="2.0"/>
<circle cx="963.7" cy="1442.9" r="3.0" fill="rgba(190,190,190,0.32)" stroke="rgba(188,188,188,0.78)" stroke-width="2.0"/>
<circle cx="964.2" cy="1447.6" r="3.0" fill="rgba(190,190,190,0.32)" stroke="rgba(188,188,188,0.78)" stroke-width="2.0"/>
<circle cx="933.2" cy="1482.0" r="3.0" fill="rgba(190,190,190,0.32)" stroke="rgba(188,188,188,0.78)" stroke-width="2.0"/>
<circle cx="956.9" cy="1460.2" r="3.0" fill="rgba(190,190,190,0.32)" stroke="rgba(188,188,188,0.78)" stroke-width="2.0"/>
<circle cx="934.0" cy="1487.5" r="3.0" fill="rgba(190,190,190,0.32)" stroke="rgba(188,188,188,0.78)" stroke-width="2.0"/>
<circle cx="960.7" cy="1437.7" r="3.0" fill="rgba(190,190,190,0.32)" stroke="rgba(188,188,188,0.78)" stroke-width="2.0"/>
<circle cx="936.0" cy="1481.5" r="3.0" fill="rgba(190,190,190,0.32)" stroke="rgba(188,188,188,0.78)" stroke-width="2.0"/>
<circle cx="954.1" cy="1438.3" r="3.0" fill="rgba(190,190,190,0.32)" stroke="rgba(188,188,188,0.78)" stroke-width="2.0"/>
<circle cx="961.9" cy="1450.4" r="3.0" fill="rgba(190,190,190,0.32)" stroke="rgba(188,188,188,0.78)" stroke-width="2.0"/>
<circle cx="953.1" cy="1486.3" r="3.0" fill="rgba(190,190,190,0.32)" stroke="rgba(188,188,188,0.78)" stroke-width="2.0"/>
<circle cx="963.8" cy="1470.6" r="3.0" fill="rgba(190,190,190,0.32)" stroke="rgba(188,188,188,0.78)" stroke-width="2.0"/>
<circle cx="961.7" cy="1471.5" r="3.0" fill="rgba(190,190,190,0.32)" stroke="rgba(188,188,188,0.78)" stroke-width="2.0"/>
<circle cx="963.1" cy="1437.4" r="3.0" fill="rgba(190,190,190,0.32)" stroke="rgba(188,188,188,0.78)" stroke-width="2.0"/>
<circle cx="963.8" cy="1489.4" r="3.0" fill="rgba(190,190,190,0.32)" stroke="rgba(188,188,188,0.78)" stroke-width="2.0"/>
<circle cx="962.3" cy="1446.2" r="3.0" fill="rgba(190,190,190,0.32)" stroke="rgba(188,188,188,0.78)" stroke-width="2.0"/>
<circle cx="955.9" cy="1477.4" r="3.0" fill="rgba(190,190,190,0.32)" stroke="rgba(188,188,188,0.78)" stroke-width="2.0"/>
<circle cx="957.0" cy="1479.3" r="3.0" fill="rgba(190,190,190,0.32)" stroke="rgba(188,188,188,0.78)" stroke-width="2.0"/>
<circle cx="946.0" cy="1454.4" r="3.0" fill="rgba(190,190,190,0.32)" stroke="rgba(188,188,188,0.78)" stroke-width="2.0"/>
<circle cx="954.9" cy="1440.4" r="3.0" fill="rgba(190,190,190,0.32)" stroke="rgba(188,188,188,0.78)" stroke-width="2.0"/>
<circle cx="931.6" cy="1490.9" r="3.0" fill="rgba(190,190,190,0.32)" stroke="rgba(188,188,188,0.78)" stroke-width="2.0"/>
<circle cx="960.1" cy="1491.3" r="3.0" fill="rgba(190,190,190,0.32)" stroke="rgba(188,188,188,0.78)" stroke-width="2.0"/>
<circle cx="951.2" cy="1461.0" r="3.0" fill="rgba(190,190,190,0.32)" stroke="rgba(188,188,188,0.78)" stroke-width="2.0"/>
<circle cx="946.6" cy="1473.8" r="3.0" fill="rgba(190,190,190,0.32)" stroke="rgba(188,188,188,0.78)" stroke-width="2.0"/>
<circle cx="953.1" cy="1483.4" r="3.0" fill="rgba(190,190,190,0.32)" stroke="rgba(188,188,188,0.78)" stroke-width="2.0"/>
<circle cx="957.9" cy="1452.5" r="3.0" fill="rgba(190,190,190,0.32)" stroke="rgba(188,188,188,0.78)" stroke-width="2.0"/>
<circle cx="943.9" cy="1456.9" r="3.0" fill="rgba(190,190,190,0.32)" stroke="rgba(188,188,188,0.78)" stroke-width="2.0"/>
<circle cx="952.6" cy="1447.2" r="3.0" fill="rgba(190,190,190,0.32)" stroke="rgba(188,188,188,0.78)" stroke-width="2.0"/>
<circle cx="935.2" cy="1491.6" r="3.0" fill="rgba(190,190,190,0.32)" stroke="rgba(188,188,188,0.78)" stroke-width="2.0"/>
<circle cx="956.2" cy="1472.6" r="3.0" fill="rgba(190,190,190,0.32)" stroke="rgba(188,188,188,0.78)" stroke-width="2.0"/>
<circle cx="1001.6" cy="1441.7" r="3.0" fill="rgba(190,190,190,0.32)" stroke="rgba(188,188,188,0.78)" stroke-width="2.0"/>
<circle cx="979.9" cy="1481.9" r="3.0" fill="rgba(190,190,190,0.32)" stroke="rgba(188,188,188,0.78)" stroke-width="2.0"/>
<circle cx="995.3" cy="1487.2" r="3.0" fill="rgba(190,190,190,0.32)" stroke="rgba(188,188,188,0.78)" stroke-width="2.0"/>
<circle cx="961.7" cy="1452.4" r="3.0" fill="rgba(190,190,190,0.32)" stroke="rgba(188,188,188,0.78)" stroke-width="2.0"/>
<circle cx="965.0" cy="1446.6" r="3.0" fill="rgba(190,190,190,0.32)" stroke="rgba(188,188,188,0.78)" stroke-width="2.0"/>
<circle cx="1000.9" cy="1468.7" r="3.0" fill="rgba(190,190,190,0.32)" stroke="rgba(188,188,188,0.78)" stroke-width="2.0"/>
<circle cx="999.1" cy="1456.8" r="3.0" fill="rgba(190,190,190,0.32)" stroke="rgba(188,188,188,0.78)" stroke-width="2.0"/>
<circle cx="996.4" cy="1461.2" r="3.0" fill="rgba(190,190,190,0.32)" stroke="rgba(188,188,188,0.78)" stroke-width="2.0"/>
<circle cx="970.9" cy="1479.6" r="3.0" fill="rgba(190,190,190,0.32)" stroke="rgba(188,188,188,0.78)" stroke-width="2.0"/>
<circle cx="999.7" cy="1441.9" r="3.0" fill="rgba(190,190,190,0.32)" stroke="rgba(188,188,188,0.78)" stroke-width="2.0"/>
<circle cx="985.0" cy="1470.7" r="3.0" fill="rgba(190,190,190,0.32)" stroke="rgba(188,188,188,0.78)" stroke-width="2.0"/>
<circle cx="969.1" cy="1456.6" r="3.0" fill="rgba(190,190,190,0.32)" stroke="rgba(188,188,188,0.78)" stroke-width="2.0"/>
<circle cx="965.9" cy="1447.4" r="3.0" fill="rgba(190,190,190,0.32)" stroke="rgba(188,188,188,0.78)" stroke-width="2.0"/>
<circle cx="970.7" cy="1469.6" r="3.0" fill="rgba(190,190,190,0.32)" stroke="rgba(188,188,188,0.78)" stroke-width="2.0"/>
<circle cx="987.4" cy="1447.4" r="3.0" fill="rgba(190,190,190,0.32)" stroke="rgba(188,188,188,0.78)" stroke-width="2.0"/>
<circle cx="960.5" cy="1454.3" r="3.0" fill="rgba(190,190,190,0.32)" stroke="rgba(188,188,188,0.78)" stroke-width="2.0"/>
<circle cx="988.5" cy="1446.4" r="3.0" fill="rgba(190,190,190,0.32)" stroke="rgba(188,188,188,0.78)" stroke-width="2.0"/>
<circle cx="973.1" cy="1447.4" r="3.0" fill="rgba(190,190,190,0.32)" stroke="rgba(188,188,188,0.78)" stroke-width="2.0"/>
<circle cx="993.4" cy="1466.7" r="3.0" fill="rgba(190,190,190,0.32)" stroke="rgba(188,188,188,0.78)" stroke-width="2.0"/>
<circle cx="962.7" cy="1441.7" r="3.0" fill="rgba(190,190,190,0.32)" stroke="rgba(188,188,188,0.78)" stroke-width="2.0"/>
<circle cx="976.6" cy="1466.8" r="3.0" fill="rgba(190,190,190,0.32)" stroke="rgba(188,188,188,0.78)" stroke-width="2.0"/>
<circle cx="986.8" cy="1441.1" r="3.0" fill="rgba(190,190,190,0.32)" stroke="rgba(188,188,188,0.78)" stroke-width="2.0"/>
<circle cx="966.9" cy="1474.9" r="3.0" fill="rgba(190,190,190,0.32)" stroke="rgba(188,188,188,0.78)" stroke-width="2.0"/>
<circle cx="977.2" cy="1451.9" r="3.0" fill="rgba(190,190,190,0.32)" stroke="rgba(188,188,188,0.78)" stroke-width="2.0"/>
<circle cx="972.9" cy="1489.4" r="3.0" fill="rgba(190,190,190,0.32)" stroke="rgba(188,188,188,0.78)" stroke-width="2.0"/>
<circle cx="973.1" cy="1467.7" r="3.0" fill="rgba(190,190,190,0.32)" stroke="rgba(188,188,188,0.78)" stroke-width="2.0"/>
<circle cx="975.0" cy="1459.3" r="3.0" fill="rgba(190,190,190,0.32)" stroke="rgba(188,188,188,0.78)" stroke-width="2.0"/>
<circle cx="996.3" cy="1491.8" r="3.0" fill="rgba(190,190,190,0.32)" stroke="rgba(188,188,188,0.78)" stroke-width="2.0"/>
<circle cx="975.3" cy="1447.0" r="3.0" fill="rgba(190,190,190,0.32)" stroke="rgba(188,188,188,0.78)" stroke-width="2.0"/>
<circle cx="990.6" cy="1447.4" r="3.0" fill="rgba(190,190,190,0.32)" stroke="rgba(188,188,188,0.78)" stroke-width="2.0"/>
<circle cx="960.2" cy="1486.5" r="3.0" fill="rgba(190,190,190,0.32)" stroke="rgba(188,188,188,0.78)" stroke-width="2.0"/>
<circle cx="977.8" cy="1481.9" r="3.0" fill="rgba(190,190,190,0.32)" stroke="rgba(188,188,188,0.78)" stroke-width="2.0"/>
<circle cx="977.1" cy="1485.4" r="3.0" fill="rgba(190,190,190,0.32)" stroke="rgba(188,188,188,0.78)" stroke-width="2.0"/>
<circle cx="979.4" cy="1445.1" r="3.0" fill="rgba(190,190,190,0.32)" stroke="rgba(188,188,188,0.78)" stroke-width="2.0"/>
<circle cx="960.6" cy="1466.9" r="3.0" fill="rgba(190,190,190,0.32)" stroke="rgba(188,188,188,0.78)" stroke-width="2.0"/>
<circle cx="986.9" cy="1486.9" r="3.0" fill="rgba(190,190,190,0.32)" stroke="rgba(188,188,188,0.78)" stroke-width="2.0"/>
<circle cx="963.7" cy="1470.8" r="3.0" fill="rgba(190,190,190,0.32)" stroke="rgba(188,188,188,0.78)" stroke-width="2.0"/>
<circle cx="975.6" cy="1464.2" r="3.0" fill="rgba(190,190,190,0.32)" stroke="rgba(188,188,188,0.78)" stroke-width="2.0"/>
<circle cx="966.1" cy="1451.9" r="3.0" fill="rgba(190,190,190,0.32)" stroke="rgba(188,188,188,0.78)" stroke-width="2.0"/>
<circle cx="981.9" cy="1487.8" r="3.0" fill="rgba(190,190,190,0.32)" stroke="rgba(188,188,188,0.78)" stroke-width="2.0"/>
<circle cx="964.6" cy="1463.5" r="3.0" fill="rgba(190,190,190,0.32)" stroke="rgba(188,188,188,0.78)" stroke-width="2.0"/>
<circle cx="993.8" cy="1490.1" r="3.0" fill="rgba(190,190,190,0.32)" stroke="rgba(188,188,188,0.78)" stroke-width="2.0"/>
<circle cx="968.3" cy="1443.1" r="3.0" fill="rgba(190,190,190,0.32)" stroke="rgba(188,188,188,0.78)" stroke-width="2.0"/>
<circle cx="999.6" cy="1490.6" r="3.0" fill="rgba(190,190,190,0.32)" stroke="rgba(188,188,188,0.78)" stroke-width="2.0"/>
<circle cx="980.3" cy="1439.0" r="3.0" fill="rgba(190,190,190,0.32)" stroke="rgba(188,188,188,0.78)" stroke-width="2.0"/>
<circle cx="998.9" cy="1457.7" r="3.0" fill="rgba(190,190,190,0.32)" stroke="rgba(188,188,188,0.78)" stroke-width="2.0"/>
<circle cx="998.0" cy="1470.7" r="3.0" fill="rgba(190,190,190,0.32)" stroke="rgba(188,188,188,0.78)" stroke-width="2.0"/>
<circle cx="994.6" cy="1445.0" r="3.0" fill="rgba(190,190,190,0.32)" stroke="rgba(188,188,188,0.78)" stroke-width="2.0"/>
<circle cx="993.0" cy="1448.4" r="3.0" fill="rgba(190,190,190,0.32)" stroke="rgba(188,188,188,0.78)" stroke-width="2.0"/>
<circle cx="977.0" cy="1483.4" r="3.0" fill="rgba(190,190,190,0.32)" stroke="rgba(188,188,188,0.78)" stroke-width="2.0"/>
<circle cx="994.8" cy="1446.2" r="3.0" fill="rgba(190,190,190,0.32)" stroke="rgba(188,188,188,0.78)" stroke-width="2.0"/>
<circle cx="969.2" cy="1458.4" r="3.0" fill="rgba(190,190,190,0.32)" stroke="rgba(188,188,188,0.78)" stroke-width="2.0"/>
<circle cx="981.8" cy="1457.5" r="3.0" fill="rgba(190,190,190,0.32)" stroke="rgba(188,188,188,0.78)" stroke-width="2.0"/>
<circle cx="965.2" cy="1449.8" r="3.0" fill="rgba(190,190,190,0.32)" stroke="rgba(188,188,188,0.78)" stroke-width="2.0"/>
<circle cx="990.4" cy="1486.2" r="3.0" fill="rgba(190,190,190,0.32)" stroke="rgba(188,188,188,0.78)" stroke-width="2.0"/>
<circle cx="961.7" cy="1467.5" r="3.0" fill="rgba(190,190,190,0.32)" stroke="rgba(188,188,188,0.78)" stroke-width="2.0"/>
<circle cx="991.8" cy="1438.1" r="3.0" fill="rgba(190,190,190,0.32)" stroke="rgba(188,188,188,0.78)" stroke-width="2.0"/>
<circle cx="995.2" cy="1442.6" r="3.0" fill="rgba(190,190,190,0.32)" stroke="rgba(188,188,188,0.78)" stroke-width="2.0"/>
<circle cx="985.2" cy="1466.8" r="3.0" fill="rgba(190,190,190,0.32)" stroke="rgba(188,188,188,0.78)" stroke-width="2.0"/>
<circle cx="986.3" cy="1453.1" r="3.0" fill="rgba(190,190,190,0.32)" stroke="rgba(188,188,188,0.78)" stroke-width="2.0"/>
<circle cx="977.6" cy="1468.6" r="3.0" fill="rgba(190,190,190,0.32)" stroke="rgba(188,188,188,0.78)" stroke-width="2.0"/>
<circle cx="977.9" cy="1472.9" r="3.0" fill="rgba(190,190,190,0.32)" stroke="rgba(188,188,188,0.78)" stroke-width="2.0"/>
<circle cx="978.8" cy="1460.5" r="3.0" fill="rgba(190,190,190,0.32)" stroke="rgba(188,188,188,0.78)" stroke-width="2.0"/>
<circle cx="961.0" cy="1470.7" r="3.0" fill="rgba(190,190,190,0.32)" stroke="rgba(188,188,188,0.78)" stroke-width="2.0"/>
<circle cx="980.6" cy="1449.2" r="3.0" fill="rgba(190,190,190,0.32)" stroke="rgba(188,188,188,0.78)" stroke-width="2.0"/>
<circle cx="992.1" cy="1479.7" r="3.0" fill="rgba(190,190,190,0.32)" stroke="rgba(188,188,188,0.78)" stroke-width="2.0"/>
<circle cx="979.2" cy="1446.1" r="3.0" fill="rgba(190,190,190,0.32)" stroke="rgba(188,188,188,0.78)" stroke-width="2.0"/>
<circle cx="979.9" cy="1442.0" r="3.0" fill="rgba(190,190,190,0.32)" stroke="rgba(188,188,188,0.78)" stroke-width="2.0"/>
<circle cx="965.4" cy="1460.1" r="3.0" fill="rgba(190,190,190,0.32)" stroke="rgba(188,188,188,0.78)" stroke-width="2.0"/>
<circle cx="963.9" cy="1460.8" r="3.0" fill="rgba(190,190,190,0.32)" stroke="rgba(188,188,188,0.78)" stroke-width="2.0"/>
<circle cx="981.4" cy="1438.3" r="3.0" fill="rgba(190,190,190,0.32)" stroke="rgba(188,188,188,0.78)" stroke-width="2.0"/>
<circle cx="986.7" cy="1440.6" r="3.0" fill="rgba(190,190,190,0.32)" stroke="rgba(188,188,188,0.78)" stroke-width="2.0"/>
<circle cx="990.8" cy="1479.5" r="3.0" fill="rgba(190,190,190,0.32)" stroke="rgba(188,188,188,0.78)" stroke-width="2.0"/>
<circle cx="981.5" cy="1439.0" r="3.0" fill="rgba(190,190,190,0.32)" stroke="rgba(188,188,188,0.78)" stroke-width="2.0"/>
<circle cx="981.2" cy="1457.2" r="3.0" fill="rgba(190,190,190,0.32)" stroke="rgba(188,188,188,0.78)" stroke-width="2.0"/>
<circle cx="999.9" cy="1443.6" r="3.0" fill="rgba(190,190,190,0.32)" stroke="rgba(188,188,188,0.78)" stroke-width="2.0"/>
<circle cx="996.0" cy="1491.8" r="3.0" fill="rgba(190,190,190,0.32)" stroke="rgba(188,188,188,0.78)" stroke-width="2.0"/>
<circle cx="990.7" cy="1481.6" r="3.0" fill="rgba(190,190,190,0.32)" stroke="rgba(188,188,188,0.78)" stroke-width="2.0"/>
<circle cx="968.1" cy="1491.0" r="3.0" fill="rgba(190,190,190,0.32)" stroke="rgba(188,188,188,0.78)" stroke-width="2.0"/>
<circle cx="980.7" cy="1489.6" r="3.0" fill="rgba(190,190,190,0.32)" stroke="rgba(188,188,188,0.78)" stroke-width="2.0"/>
<circle cx="998.5" cy="1445.2" r="3.0" fill="rgba(190,190,190,0.32)" stroke="rgba(188,188,188,0.78)" stroke-width="2.0"/>
<circle cx="993.1" cy="1488.1" r="3.0" fill="rgba(190,190,190,0.32)" stroke="rgba(188,188,188,0.78)" stroke-width="2.0"/>
<circle cx="962.8" cy="1455.7" r="3.0" fill="rgba(190,190,190,0.32)" stroke="rgba(188,188,188,0.78)" stroke-width="2.0"/>
<circle cx="991.8" cy="1444.9" r="3.0" fill="rgba(190,190,190,0.32)" stroke="rgba(188,188,188,0.78)" stroke-width="2.0"/>
<circle cx="997.7" cy="1451.4" r="3.0" fill="rgba(190,190,190,0.32)" stroke="rgba(188,188,188,0.78)" stroke-width="2.0"/>
<circle cx="994.3" cy="1444.0" r="3.0" fill="rgba(190,190,190,0.32)" stroke="rgba(188,188,188,0.78)" stroke-width="2.0"/>
<circle cx="981.1" cy="1487.5" r="3.0" fill="rgba(190,190,190,0.32)" stroke="rgba(188,188,188,0.78)" stroke-width="2.0"/>
<circle cx="968.7" cy="1450.7" r="3.0" fill="rgba(190,190,190,0.32)" stroke="rgba(188,188,188,0.78)" stroke-width="2.0"/>
<circle cx="981.3" cy="1453.9" r="3.0" fill="rgba(190,190,190,0.32)" stroke="rgba(188,188,188,0.78)" stroke-width="2.0"/>
<circle cx="961.5" cy="1446.2" r="3.0" fill="rgba(190,190,190,0.32)" stroke="rgba(188,188,188,0.78)" stroke-width="2.0"/>
<circle cx="966.8" cy="1488.4" r="3.0" fill="rgba(190,190,190,0.32)" stroke="rgba(188,188,188,0.78)" stroke-width="2.0"/>
<circle cx="988.5" cy="1486.1" r="3.0" fill="rgba(190,190,190,0.32)" stroke="rgba(188,188,188,0.78)" stroke-width="2.0"/>
<circle cx="967.1" cy="1480.0" r="3.0" fill="rgba(190,190,190,0.32)" stroke="rgba(188,188,188,0.78)" stroke-width="2.0"/>
<circle cx="964.8" cy="1465.7" r="3.0" fill="rgba(190,190,190,0.32)" stroke="rgba(188,188,188,0.78)" stroke-width="2.0"/>
<circle cx="986.7" cy="1456.1" r="3.0" fill="rgba(190,190,190,0.32)" stroke="rgba(188,188,188,0.78)" stroke-width="2.0"/>
<circle cx="996.7" cy="1467.1" r="3.0" fill="rgba(190,190,190,0.32)" stroke="rgba(188,188,188,0.78)" stroke-width="2.0"/>
<circle cx="984.4" cy="1485.4" r="3.0" fill="rgba(190,190,190,0.32)" stroke="rgba(188,188,188,0.78)" stroke-width="2.0"/>
<circle cx="964.4" cy="1491.6" r="3.0" fill="rgba(190,190,190,0.32)" stroke="rgba(188,188,188,0.78)" stroke-width="2.0"/>
<circle cx="986.5" cy="1458.1" r="3.0" fill="rgba(190,190,190,0.32)" stroke="rgba(188,188,188,0.78)" stroke-width="2.0"/>
<circle cx="993.5" cy="1450.8" r="3.0" fill="rgba(190,190,190,0.32)" stroke="rgba(188,188,188,0.78)" stroke-width="2.0"/>
<circle cx="1001.6" cy="1468.3" r="3.0" fill="rgba(190,190,190,0.32)" stroke="rgba(188,188,188,0.78)" stroke-width="2.0"/>
<circle cx="975.1" cy="1478.8" r="3.0" fill="rgba(190,190,190,0.32)" stroke="rgba(188,188,188,0.78)" stroke-width="2.0"/>
<circle cx="978.6" cy="1445.9" r="3.0" fill="rgba(190,190,190,0.32)" stroke="rgba(188,188,188,0.78)" stroke-width="2.0"/>
<circle cx="991.2" cy="1438.7" r="3.0" fill="rgba(190,190,190,0.32)" stroke="rgba(188,188,188,0.78)" stroke-width="2.0"/>
<circle cx="994.4" cy="1450.2" r="3.0" fill="rgba(190,190,190,0.32)" stroke="rgba(188,188,188,0.78)" stroke-width="2.0"/>
<circle cx="986.8" cy="1491.1" r="3.0" fill="rgba(190,190,190,0.32)" stroke="rgba(188,188,188,0.78)" stroke-width="2.0"/>
<circle cx="984.6" cy="1473.2" r="3.0" fill="rgba(190,190,190,0.32)" stroke="rgba(188,188,188,0.78)" stroke-width="2.0"/>
<circle cx="973.1" cy="1436.1" r="3.0" fill="rgba(190,190,190,0.32)" stroke="rgba(188,188,188,0.78)" stroke-width="2.0"/>
<circle cx="961.4" cy="1444.4" r="3.0" fill="rgba(190,190,190,0.32)" stroke="rgba(188,188,188,0.78)" stroke-width="2.0"/>
<circle cx="985.9" cy="1460.2" r="3.0" fill="rgba(190,190,190,0.32)" stroke="rgba(188,188,188,0.78)" stroke-width="2.0"/>
<circle cx="928.3" cy="1387.9" r="3.0" fill="rgba(190,190,190,0.32)" stroke="rgba(188,188,188,0.78)" stroke-width="2.0"/>
<circle cx="955.6" cy="1393.6" r="3.0" fill="rgba(190,190,190,0.32)" stroke="rgba(188,188,188,0.78)" stroke-width="2.0"/>
<circle cx="956.3" cy="1380.2" r="3.0" fill="rgba(190,190,190,0.32)" stroke="rgba(188,188,188,0.78)" stroke-width="2.0"/>
<circle cx="955.6" cy="1401.3" r="3.0" fill="rgba(190,190,190,0.32)" stroke="rgba(188,188,188,0.78)" stroke-width="2.0"/>
<circle cx="968.3" cy="1393.5" r="3.0" fill="rgba(190,190,190,0.32)" stroke="rgba(188,188,188,0.78)" stroke-width="2.0"/>
<circle cx="966.2" cy="1415.0" r="3.0" fill="rgba(190,190,190,0.32)" stroke="rgba(188,188,188,0.78)" stroke-width="2.0"/>
<circle cx="950.0" cy="1417.4" r="3.0" fill="rgba(190,190,190,0.32)" stroke="rgba(188,188,188,0.78)" stroke-width="2.0"/>
<circle cx="953.0" cy="1408.5" r="3.0" fill="rgba(190,190,190,0.32)" stroke="rgba(188,188,188,0.78)" stroke-width="2.0"/>
<circle cx="979.8" cy="1394.6" r="3.0" fill="rgba(190,190,190,0.32)" stroke="rgba(188,188,188,0.78)" stroke-width="2.0"/>
<circle cx="982.6" cy="1389.0" r="3.0" fill="rgba(190,190,190,0.32)" stroke="rgba(188,188,188,0.78)" stroke-width="2.0"/>
<circle cx="974.5" cy="1432.3" r="3.0" fill="rgba(190,190,190,0.32)" stroke="rgba(188,188,188,0.78)" stroke-width="2.0"/>
<circle cx="969.3" cy="1426.9" r="3.0" fill="rgba(190,190,190,0.32)" stroke="rgba(188,188,188,0.78)" stroke-width="2.0"/>
<circle cx="949.0" cy="1380.7" r="3.0" fill="rgba(190,190,190,0.32)" stroke="rgba(188,188,188,0.78)" stroke-width="2.0"/>
<circle cx="964.3" cy="1418.7" r="3.0" fill="rgba(190,190,190,0.32)" stroke="rgba(188,188,188,0.78)" stroke-width="2.0"/>
<circle cx="946.0" cy="1418.7" r="3.0" fill="rgba(190,190,190,0.32)" stroke="rgba(188,188,188,0.78)" stroke-width="2.0"/>
<circle cx="953.0" cy="1406.6" r="3.0" fill="rgba(190,190,190,0.32)" stroke="rgba(188,188,188,0.78)" stroke-width="2.0"/>
<circle cx="979.0" cy="1394.9" r="3.0" fill="rgba(190,190,190,0.32)" stroke="rgba(188,188,188,0.78)" stroke-width="2.0"/>
<circle cx="949.2" cy="1434.2" r="3.0" fill="rgba(190,190,190,0.32)" stroke="rgba(188,188,188,0.78)" stroke-width="2.0"/>
<circle cx="974.6" cy="1404.4" r="3.0" fill="rgba(190,190,190,0.32)" stroke="rgba(188,188,188,0.78)" stroke-width="2.0"/>
<circle cx="962.7" cy="1394.3" r="3.0" fill="rgba(190,190,190,0.32)" stroke="rgba(188,188,188,0.78)" stroke-width="2.0"/>
<circle cx="980.7" cy="1380.7" r="3.0" fill="rgba(190,190,190,0.32)" stroke="rgba(188,188,188,0.78)" stroke-width="2.0"/>
<circle cx="966.7" cy="1413.1" r="3.0" fill="rgba(190,190,190,0.32)" stroke="rgba(188,188,188,0.78)" stroke-width="2.0"/>
<circle cx="965.2" cy="1392.0" r="3.0" fill="rgba(190,190,190,0.32)" stroke="rgba(188,188,188,0.78)" stroke-width="2.0"/>
<circle cx="955.2" cy="1416.5" r="3.0" fill="rgba(190,190,190,0.32)" stroke="rgba(188,188,188,0.78)" stroke-width="2.0"/>
<circle cx="938.0" cy="1428.8" r="3.0" fill="rgba(190,190,190,0.32)" stroke="rgba(188,188,188,0.78)" stroke-width="2.0"/>
<circle cx="957.1" cy="1390.5" r="3.0" fill="rgba(190,190,190,0.32)" stroke="rgba(188,188,188,0.78)" stroke-width="2.0"/>
<circle cx="953.7" cy="1382.9" r="3.0" fill="rgba(190,190,190,0.32)" stroke="rgba(188,188,188,0.78)" stroke-width="2.0"/>
<circle cx="969.0" cy="1433.4" r="3.0" fill="rgba(190,190,190,0.32)" stroke="rgba(188,188,188,0.78)" stroke-width="2.0"/>
<circle cx="962.6" cy="1380.4" r="3.0" fill="rgba(190,190,190,0.32)" stroke="rgba(188,188,188,0.78)" stroke-width="2.0"/>
<circle cx="936.3" cy="1430.7" r="3.0" fill="rgba(190,190,190,0.32)" stroke="rgba(188,188,188,0.78)" stroke-width="2.0"/>
<circle cx="957.5" cy="1424.5" r="3.0" fill="rgba(190,190,190,0.32)" stroke="rgba(188,188,188,0.78)" stroke-width="2.0"/>
<circle cx="942.3" cy="1407.1" r="3.0" fill="rgba(190,190,190,0.32)" stroke="rgba(188,188,188,0.78)" stroke-width="2.0"/>
<circle cx="959.0" cy="1393.9" r="3.0" fill="rgba(190,190,190,0.32)" stroke="rgba(188,188,188,0.78)" stroke-width="2.0"/>
<circle cx="964.5" cy="1382.3" r="3.0" fill="rgba(190,190,190,0.32)" stroke="rgba(188,188,188,0.78)" stroke-width="2.0"/>
<circle cx="946.1" cy="1421.7" r="3.0" fill="rgba(190,190,190,0.32)" stroke="rgba(188,188,188,0.78)" stroke-width="2.0"/>
<circle cx="978.0" cy="1430.7" r="3.0" fill="rgba(190,190,190,0.32)" stroke="rgba(188,188,188,0.78)" stroke-width="2.0"/>
<circle cx="955.4" cy="1413.2" r="3.0" fill="rgba(190,190,190,0.32)" stroke="rgba(188,188,188,0.78)" stroke-width="2.0"/>
<circle cx="947.3" cy="1406.2" r="3.0" fill="rgba(190,190,190,0.32)" stroke="rgba(188,188,188,0.78)" stroke-width="2.0"/>
<circle cx="962.1" cy="1395.9" r="3.0" fill="rgba(190,190,190,0.32)" stroke="rgba(188,188,188,0.78)" stroke-width="2.0"/>
<circle cx="941.5" cy="1418.5" r="3.0" fill="rgba(190,190,190,0.32)" stroke="rgba(188,188,188,0.78)" stroke-width="2.0"/>
<circle cx="967.6" cy="1432.8" r="3.0" fill="rgba(190,190,190,0.32)" stroke="rgba(188,188,188,0.78)" stroke-width="2.0"/>
<circle cx="955.9" cy="1380.9" r="3.0" fill="rgba(190,190,190,0.32)" stroke="rgba(188,188,188,0.78)" stroke-width="2.0"/>
<circle cx="957.3" cy="1424.6" r="3.0" fill="rgba(190,190,190,0.32)" stroke="rgba(188,188,188,0.78)" stroke-width="2.0"/>
<circle cx="968.3" cy="1436.7" r="3.0" fill="rgba(190,190,190,0.32)" stroke="rgba(188,188,188,0.78)" stroke-width="2.0"/>
<circle cx="957.7" cy="1432.8" r="3.0" fill="rgba(190,190,190,0.32)" stroke="rgba(188,188,188,0.78)" stroke-width="2.0"/>
<circle cx="945.5" cy="1399.7" r="3.0" fill="rgba(190,190,190,0.32)" stroke="rgba(188,188,188,0.78)" stroke-width="2.0"/>
<circle cx="960.1" cy="1417.8" r="3.0" fill="rgba(190,190,190,0.32)" stroke="rgba(188,188,188,0.78)" stroke-width="2.0"/>
<circle cx="988.5" cy="1421.6" r="3.0" fill="rgba(190,190,190,0.32)" stroke="rgba(188,188,188,0.78)" stroke-width="2.0"/>
<circle cx="938.2" cy="1408.2" r="3.0" fill="rgba(190,190,190,0.32)" stroke="rgba(188,188,188,0.78)" stroke-width="2.0"/>
<circle cx="924.5" cy="1430.4" r="3.0" fill="rgba(190,190,190,0.32)" stroke="rgba(188,188,188,0.78)" stroke-width="2.0"/>
<circle cx="949.1" cy="1406.2" r="3.0" fill="rgba(190,190,190,0.32)" stroke="rgba(188,188,188,0.78)" stroke-width="2.0"/>
<circle cx="931.8" cy="1423.5" r="3.0" fill="rgba(190,190,190,0.32)" stroke="rgba(188,188,188,0.78)" stroke-width="2.0"/>
<circle cx="947.1" cy="1392.7" r="3.0" fill="rgba(190,190,190,0.32)" stroke="rgba(188,188,188,0.78)" stroke-width="2.0"/>
<circle cx="952.9" cy="1417.4" r="3.0" fill="rgba(190,190,190,0.32)" stroke="rgba(188,188,188,0.78)" stroke-width="2.0"/>
<circle cx="985.2" cy="1388.7" r="3.0" fill="rgba(190,190,190,0.32)" stroke="rgba(188,188,188,0.78)" stroke-width="2.0"/>
<circle cx="972.5" cy="1381.6" r="3.0" fill="rgba(190,190,190,0.32)" stroke="rgba(188,188,188,0.78)" stroke-width="2.0"/>
<circle cx="983.2" cy="1400.7" r="3.0" fill="rgba(190,190,190,0.32)" stroke="rgba(188,188,188,0.78)" stroke-width="2.0"/>
<circle cx="978.0" cy="1388.5" r="3.0" fill="rgba(190,190,190,0.32)" stroke="rgba(188,188,188,0.78)" stroke-width="2.0"/>
<circle cx="962.0" cy="1421.6" r="3.0" fill="rgba(190,190,190,0.32)" stroke="rgba(188,188,188,0.78)" stroke-width="2.0"/>
<circle cx="958.7" cy="1418.0" r="3.0" fill="rgba(190,190,190,0.32)" stroke="rgba(188,188,188,0.78)" stroke-width="2.0"/>
<circle cx="950.5" cy="1383.9" r="3.0" fill="rgba(190,190,190,0.32)" stroke="rgba(188,188,188,0.78)" stroke-width="2.0"/>
<circle cx="936.4" cy="1415.4" r="3.0" fill="rgba(190,190,190,0.32)" stroke="rgba(188,188,188,0.78)" stroke-width="2.0"/>
<circle cx="941.1" cy="1429.2" r="3.0" fill="rgba(190,190,190,0.32)" stroke="rgba(188,188,188,0.78)" stroke-width="2.0"/>
<circle cx="977.5" cy="1433.5" r="3.0" fill="rgba(190,190,190,0.32)" stroke="rgba(188,188,188,0.78)" stroke-width="2.0"/>
<circle cx="983.8" cy="1434.9" r="3.0" fill="rgba(190,190,190,0.32)" stroke="rgba(188,188,188,0.78)" stroke-width="2.0"/>
<circle cx="969.3" cy="1436.7" r="3.0" fill="rgba(190,190,190,0.32)" stroke="rgba(188,188,188,0.78)" stroke-width="2.0"/>
<circle cx="965.4" cy="1386.7" r="3.0" fill="rgba(190,190,190,0.32)" stroke="rgba(188,188,188,0.78)" stroke-width="2.0"/>
<circle cx="963.9" cy="1382.1" r="3.0" fill="rgba(190,190,190,0.32)" stroke="rgba(188,188,188,0.78)" stroke-width="2.0"/>
<circle cx="972.7" cy="1418.1" r="3.0" fill="rgba(190,190,190,0.32)" stroke="rgba(188,188,188,0.78)" stroke-width="2.0"/>
<circle cx="937.1" cy="1429.5" r="3.0" fill="rgba(190,190,190,0.32)" stroke="rgba(188,188,188,0.78)" stroke-width="2.0"/>
<circle cx="961.9" cy="1498.2" r="3.0" fill="rgba(190,190,190,0.32)" stroke="rgba(188,188,188,0.78)" stroke-width="2.0"/>
<circle cx="950.2" cy="1508.4" r="3.0" fill="rgba(190,190,190,0.32)" stroke="rgba(188,188,188,0.78)" stroke-width="2.0"/>
<circle cx="964.7" cy="1502.3" r="3.0" fill="rgba(190,190,190,0.32)" stroke="rgba(188,188,188,0.78)" stroke-width="2.0"/>
<circle cx="957.3" cy="1520.3" r="3.0" fill="rgba(190,190,190,0.32)" stroke="rgba(188,188,188,0.78)" stroke-width="2.0"/>
<circle cx="948.5" cy="1496.0" r="3.0" fill="rgba(190,190,190,0.32)" stroke="rgba(188,188,188,0.78)" stroke-width="2.0"/>
<circle cx="963.7" cy="1519.4" r="3.0" fill="rgba(190,190,190,0.32)" stroke="rgba(188,188,188,0.78)" stroke-width="2.0"/>
<circle cx="956.1" cy="1528.3" r="3.0" fill="rgba(190,190,190,0.32)" stroke="rgba(188,188,188,0.78)" stroke-width="2.0"/>
<circle cx="959.1" cy="1564.8" r="3.0" fill="rgba(190,190,190,0.32)" stroke="rgba(188,188,188,0.78)" stroke-width="2.0"/>
<circle cx="966.7" cy="1500.5" r="3.0" fill="rgba(190,190,190,0.32)" stroke="rgba(188,188,188,0.78)" stroke-width="2.0"/>
<circle cx="957.1" cy="1500.1" r="3.0" fill="rgba(190,190,190,0.32)" stroke="rgba(188,188,188,0.78)" stroke-width="2.0"/>
<circle cx="957.6" cy="1499.0" r="3.0" fill="rgba(190,190,190,0.32)" stroke="rgba(188,188,188,0.78)" stroke-width="2.0"/>
<circle cx="963.5" cy="1522.4" r="3.0" fill="rgba(190,190,190,0.32)" stroke="rgba(188,188,188,0.78)" stroke-width="2.0"/>
<circle cx="959.8" cy="1507.5" r="3.0" fill="rgba(190,190,190,0.32)" stroke="rgba(188,188,188,0.78)" stroke-width="2.0"/>
<circle cx="950.0" cy="1553.4" r="3.0" fill="rgba(190,190,190,0.32)" stroke="rgba(188,188,188,0.78)" stroke-width="2.0"/>
<circle cx="966.0" cy="1495.7" r="3.0" fill="rgba(190,190,190,0.32)" stroke="rgba(188,188,188,0.78)" stroke-width="2.0"/>
<circle cx="952.4" cy="1496.3" r="3.0" fill="rgba(190,190,190,0.32)" stroke="rgba(188,188,188,0.78)" stroke-width="2.0"/>
<circle cx="964.8" cy="1497.8" r="3.0" fill="rgba(190,190,190,0.32)" stroke="rgba(188,188,188,0.78)" stroke-width="2.0"/>
<circle cx="958.8" cy="1495.4" r="3.0" fill="rgba(190,190,190,0.32)" stroke="rgba(188,188,188,0.78)" stroke-width="2.0"/>
<circle cx="958.8" cy="1500.6" r="3.0" fill="rgba(190,190,190,0.32)" stroke="rgba(188,188,188,0.78)" stroke-width="2.0"/>
<circle cx="958.9" cy="1513.3" r="3.0" fill="rgba(190,190,190,0.32)" stroke="rgba(188,188,188,0.78)" stroke-width="2.0"/>
<circle cx="955.6" cy="1506.5" r="3.0" fill="rgba(190,190,190,0.32)" stroke="rgba(188,188,188,0.78)" stroke-width="2.0"/>
<circle cx="968.8" cy="1515.3" r="3.0" fill="rgba(190,190,190,0.32)" stroke="rgba(188,188,188,0.78)" stroke-width="2.0"/>
<circle cx="954.2" cy="1505.2" r="3.0" fill="rgba(190,190,190,0.32)" stroke="rgba(188,188,188,0.78)" stroke-width="2.0"/>
<circle cx="959.0" cy="1540.4" r="3.0" fill="rgba(190,190,190,0.32)" stroke="rgba(188,188,188,0.78)" stroke-width="2.0"/>
<circle cx="950.4" cy="1503.1" r="3.0" fill="rgba(190,190,190,0.32)" stroke="rgba(188,188,188,0.78)" stroke-width="2.0"/>
<circle cx="965.3" cy="1504.3" r="3.0" fill="rgba(190,190,190,0.32)" stroke="rgba(188,188,188,0.78)" stroke-width="2.0"/>
<circle cx="963.3" cy="1504.7" r="3.0" fill="rgba(190,190,190,0.32)" stroke="rgba(188,188,188,0.78)" stroke-width="2.0"/>
<circle cx="955.8" cy="1536.1" r="3.0" fill="rgba(190,190,190,0.32)" stroke="rgba(188,188,188,0.78)" stroke-width="2.0"/>
<circle cx="956.8" cy="1544.7" r="3.0" fill="rgba(190,190,190,0.32)" stroke="rgba(188,188,188,0.78)" stroke-width="2.0"/>
<circle cx="949.9" cy="1533.8" r="3.0" fill="rgba(190,190,190,0.32)" stroke="rgba(188,188,188,0.78)" stroke-width="2.0"/>
<circle cx="967.5" cy="1515.1" r="3.0" fill="rgba(190,190,190,0.32)" stroke="rgba(188,188,188,0.78)" stroke-width="2.0"/>
<circle cx="953.8" cy="1498.2" r="3.0" fill="rgba(190,190,190,0.32)" stroke="rgba(188,188,188,0.78)" stroke-width="2.0"/>
<circle cx="967.8" cy="1524.3" r="3.0" fill="rgba(190,190,190,0.32)" stroke="rgba(188,188,188,0.78)" stroke-width="2.0"/>
<circle cx="967.4" cy="1495.2" r="3.0" fill="rgba(190,190,190,0.32)" stroke="rgba(188,188,188,0.78)" stroke-width="2.0"/>
<circle cx="953.1" cy="1530.8" r="3.0" fill="rgba(190,190,190,0.32)" stroke="rgba(188,188,188,0.78)" stroke-width="2.0"/>
<circle cx="964.6" cy="1504.0" r="3.0" fill="rgba(190,190,190,0.32)" stroke="rgba(188,188,188,0.78)" stroke-width="2.0"/>
<circle cx="964.6" cy="1511.8" r="3.0" fill="rgba(190,190,190,0.32)" stroke="rgba(188,188,188,0.78)" stroke-width="2.0"/>
<circle cx="955.2" cy="1517.1" r="3.0" fill="rgba(190,190,190,0.32)" stroke="rgba(188,188,188,0.78)" stroke-width="2.0"/>
<circle cx="951.4" cy="1519.4" r="3.0" fill="rgba(190,190,190,0.32)" stroke="rgba(188,188,188,0.78)" stroke-width="2.0"/>
<circle cx="964.3" cy="1531.8" r="3.0" fill="rgba(190,190,190,0.32)" stroke="rgba(188,188,188,0.78)" stroke-width="2.0"/>
<circle cx="951.7" cy="1542.9" r="3.0" fill="rgba(190,190,190,0.32)" stroke="rgba(188,188,188,0.78)" stroke-width="2.0"/>
<circle cx="960.7" cy="1514.4" r="3.0" fill="rgba(190,190,190,0.32)" stroke="rgba(188,188,188,0.78)" stroke-width="2.0"/>
<circle cx="950.8" cy="1555.6" r="3.0" fill="rgba(190,190,190,0.32)" stroke="rgba(188,188,188,0.78)" stroke-width="2.0"/>
<circle cx="953.2" cy="1509.8" r="3.0" fill="rgba(190,190,190,0.32)" stroke="rgba(188,188,188,0.78)" stroke-width="2.0"/>
<circle cx="952.2" cy="1509.9" r="3.0" fill="rgba(190,190,190,0.32)" stroke="rgba(188,188,188,0.78)" stroke-width="2.0"/>
<circle cx="966.6" cy="1539.3" r="3.0" fill="rgba(190,190,190,0.32)" stroke="rgba(188,188,188,0.78)" stroke-width="2.0"/>
<circle cx="951.4" cy="1507.6" r="3.0" fill="rgba(190,190,190,0.32)" stroke="rgba(188,188,188,0.78)" stroke-width="2.0"/>
<circle cx="955.2" cy="1513.8" r="3.0" fill="rgba(190,190,190,0.32)" stroke="rgba(188,188,188,0.78)" stroke-width="2.0"/>
<circle cx="959.5" cy="1509.2" r="3.0" fill="rgba(190,190,190,0.32)" stroke="rgba(188,188,188,0.78)" stroke-width="2.0"/>
<circle cx="952.2" cy="1517.7" r="3.0" fill="rgba(190,190,190,0.32)" stroke="rgba(188,188,188,0.78)" stroke-width="2.0"/>
<circle cx="969.5" cy="1496.9" r="3.0" fill="rgba(190,190,190,0.32)" stroke="rgba(188,188,188,0.78)" stroke-width="2.0"/>
<circle cx="969.2" cy="1508.8" r="3.0" fill="rgba(190,190,190,0.32)" stroke="rgba(188,188,188,0.78)" stroke-width="2.0"/>
<circle cx="950.2" cy="1559.4" r="3.0" fill="rgba(190,190,190,0.32)" stroke="rgba(188,188,188,0.78)" stroke-width="2.0"/>
<circle cx="965.5" cy="1552.3" r="3.0" fill="rgba(190,190,190,0.32)" stroke="rgba(188,188,188,0.78)" stroke-width="2.0"/>
<circle cx="964.1" cy="1513.2" r="3.0" fill="rgba(190,190,190,0.32)" stroke="rgba(188,188,188,0.78)" stroke-width="2.0"/>
<circle cx="962.0" cy="1502.9" r="3.0" fill="rgba(190,190,190,0.32)" stroke="rgba(188,188,188,0.78)" stroke-width="2.0"/>
<circle cx="950.4" cy="1503.0" r="3.0" fill="rgba(190,190,190,0.32)" stroke="rgba(188,188,188,0.78)" stroke-width="2.0"/>
<circle cx="948.7" cy="1523.6" r="3.0" fill="rgba(190,190,190,0.32)" stroke="rgba(188,188,188,0.78)" stroke-width="2.0"/>
<circle cx="956.8" cy="1506.8" r="3.0" fill="rgba(190,190,190,0.32)" stroke="rgba(188,188,188,0.78)" stroke-width="2.0"/>
<circle cx="959.0" cy="1539.6" r="3.0" fill="rgba(190,190,190,0.32)" stroke="rgba(188,188,188,0.78)" stroke-width="2.0"/>
<circle cx="961.9" cy="1511.2" r="3.0" fill="rgba(190,190,190,0.32)" stroke="rgba(188,188,188,0.78)" stroke-width="2.0"/>
<circle cx="961.3" cy="1498.8" r="3.0" fill="rgba(190,190,190,0.32)" stroke="rgba(188,188,188,0.78)" stroke-width="2.0"/>
<circle cx="956.9" cy="1498.7" r="3.0" fill="rgba(190,190,190,0.32)" stroke="rgba(188,188,188,0.78)" stroke-width="2.0"/>
<circle cx="957.5" cy="1560.4" r="3.0" fill="rgba(190,190,190,0.32)" stroke="rgba(188,188,188,0.78)" stroke-width="2.0"/>
<circle cx="960.6" cy="1495.2" r="3.0" fill="rgba(190,190,190,0.32)" stroke="rgba(188,188,188,0.78)" stroke-width="2.0"/>
<circle cx="953.0" cy="1526.4" r="3.0" fill="rgba(190,190,190,0.32)" stroke="rgba(188,188,188,0.78)" stroke-width="2.0"/>
<circle cx="963.9" cy="1532.7" r="3.0" fill="rgba(190,190,190,0.32)" stroke="rgba(188,188,188,0.78)" stroke-width="2.0"/>
<circle cx="963.4" cy="1530.4" r="3.0" fill="rgba(190,190,190,0.32)" stroke="rgba(188,188,188,0.78)" stroke-width="2.0"/>
<circle cx="966.8" cy="1513.4" r="3.0" fill="rgba(190,190,190,0.32)" stroke="rgba(188,188,188,0.78)" stroke-width="2.0"/>
<circle cx="958.0" cy="1533.8" r="3.0" fill="rgba(190,190,190,0.32)" stroke="rgba(188,188,188,0.78)" stroke-width="2.0"/>
<circle cx="954.9" cy="1504.4" r="3.0" fill="rgba(190,190,190,0.32)" stroke="rgba(188,188,188,0.78)" stroke-width="2.0"/>
<circle cx="957.2" cy="1504.8" r="3.0" fill="rgba(190,190,190,0.32)" stroke="rgba(188,188,188,0.78)" stroke-width="2.0"/>
<circle cx="965.2" cy="1504.7" r="3.0" fill="rgba(190,190,190,0.32)" stroke="rgba(188,188,188,0.78)" stroke-width="2.0"/>
<circle cx="953.5" cy="1536.2" r="3.0" fill="rgba(190,190,190,0.32)" stroke="rgba(188,188,188,0.78)" stroke-width="2.0"/>
<circle cx="957.3" cy="1535.2" r="3.0" fill="rgba(190,190,190,0.32)" stroke="rgba(188,188,188,0.78)" stroke-width="2.0"/>
<circle cx="957.0" cy="1506.6" r="3.0" fill="rgba(190,190,190,0.32)" stroke="rgba(188,188,188,0.78)" stroke-width="2.0"/>
<circle cx="962.9" cy="1512.3" r="3.0" fill="rgba(190,190,190,0.32)" stroke="rgba(188,188,188,0.78)" stroke-width="2.0"/>
<circle cx="962.4" cy="1503.1" r="3.0" fill="rgba(190,190,190,0.32)" stroke="rgba(188,188,188,0.78)" stroke-width="2.0"/>
<circle cx="965.1" cy="1521.6" r="3.0" fill="rgba(190,190,190,0.32)" stroke="rgba(188,188,188,0.78)" stroke-width="2.0"/>
<circle cx="969.4" cy="1517.4" r="3.0" fill="rgba(190,190,190,0.32)" stroke="rgba(188,188,188,0.78)" stroke-width="2.0"/>
<circle cx="948.8" cy="1512.1" r="3.0" fill="rgba(190,190,190,0.32)" stroke="rgba(188,188,188,0.78)" stroke-width="2.0"/>
<circle cx="965.2" cy="1499.8" r="3.0" fill="rgba(190,190,190,0.32)" stroke="rgba(188,188,188,0.78)" stroke-width="2.0"/>
<circle cx="968.7" cy="1508.7" r="3.0" fill="rgba(190,190,190,0.32)" stroke="rgba(188,188,188,0.78)" stroke-width="2.0"/>
<circle cx="960.6" cy="1496.7" r="3.0" fill="rgba(190,190,190,0.32)" stroke="rgba(188,188,188,0.78)" stroke-width="2.0"/>
<circle cx="959.9" cy="1502.3" r="3.0" fill="rgba(190,190,190,0.32)" stroke="rgba(188,188,188,0.78)" stroke-width="2.0"/>
<circle cx="962.1" cy="1530.2" r="3.0" fill="rgba(190,190,190,0.32)" stroke="rgba(188,188,188,0.78)" stroke-width="2.0"/>
<circle cx="966.2" cy="1525.5" r="3.0" fill="rgba(190,190,190,0.32)" stroke="rgba(188,188,188,0.78)" stroke-width="2.0"/>
<circle cx="968.9" cy="1499.2" r="3.0" fill="rgba(190,190,190,0.32)" stroke="rgba(188,188,188,0.78)" stroke-width="2.0"/>
<circle cx="952.6" cy="1507.0" r="3.0" fill="rgba(190,190,190,0.32)" stroke="rgba(188,188,188,0.78)" stroke-width="2.0"/>
<circle cx="964.8" cy="1522.4" r="3.0" fill="rgba(190,190,190,0.32)" stroke="rgba(188,188,188,0.78)" stroke-width="2.0"/>
<circle cx="950.7" cy="1523.0" r="3.0" fill="rgba(190,190,190,0.32)" stroke="rgba(188,188,188,0.78)" stroke-width="2.0"/>
<circle cx="949.2" cy="1497.7" r="3.0" fill="rgba(190,190,190,0.32)" stroke="rgba(188,188,188,0.78)" stroke-width="2.0"/>
<circle cx="954.0" cy="1499.0" r="3.0" fill="rgba(190,190,190,0.32)" stroke="rgba(188,188,188,0.78)" stroke-width="2.0"/>
<circle cx="957.2" cy="1497.9" r="3.0" fill="rgba(190,190,190,0.32)" stroke="rgba(188,188,188,0.78)" stroke-width="2.0"/>
<circle cx="957.3" cy="1503.9" r="3.0" fill="rgba(190,190,190,0.32)" stroke="rgba(188,188,188,0.78)" stroke-width="2.0"/>
<circle cx="953.8" cy="1521.5" r="3.0" fill="rgba(190,190,190,0.32)" stroke="rgba(188,188,188,0.78)" stroke-width="2.0"/>
<circle cx="952.9" cy="1498.8" r="3.0" fill="rgba(190,190,190,0.32)" stroke="rgba(188,188,188,0.78)" stroke-width="2.0"/>
<circle cx="959.6" cy="1566.0" r="3.0" fill="rgba(190,190,190,0.32)" stroke="rgba(188,188,188,0.78)" stroke-width="2.0"/>
<circle cx="952.8" cy="1504.5" r="3.0" fill="rgba(190,190,190,0.32)" stroke="rgba(188,188,188,0.78)" stroke-width="2.0"/>
<circle cx="952.7" cy="1523.4" r="3.0" fill="rgba(190,190,190,0.32)" stroke="rgba(188,188,188,0.78)" stroke-width="2.0"/>
<circle cx="950.8" cy="1504.1" r="3.0" fill="rgba(190,190,190,0.32)" stroke="rgba(188,188,188,0.78)" stroke-width="2.0"/>
<circle cx="962.0" cy="1548.9" r="3.0" fill="rgba(190,190,190,0.32)" stroke="rgba(188,188,188,0.78)" stroke-width="2.0"/>
<circle cx="958.3" cy="1514.9" r="3.0" fill="rgba(190,190,190,0.32)" stroke="rgba(188,188,188,0.78)" stroke-width="2.0"/>
<circle cx="969.2" cy="1503.2" r="3.0" fill="rgba(190,190,190,0.32)" stroke="rgba(188,188,188,0.78)" stroke-width="2.0"/>
<circle cx="955.8" cy="1530.7" r="3.0" fill="rgba(190,190,190,0.32)" stroke="rgba(188,188,188,0.78)" stroke-width="2.0"/>
<circle cx="966.0" cy="1537.5" r="3.0" fill="rgba(190,190,190,0.32)" stroke="rgba(188,188,188,0.78)" stroke-width="2.0"/>
<circle cx="958.3" cy="1505.4" r="3.0" fill="rgba(190,190,190,0.32)" stroke="rgba(188,188,188,0.78)" stroke-width="2.0"/>
<circle cx="950.8" cy="1531.4" r="3.0" fill="rgba(190,190,190,0.32)" stroke="rgba(188,188,188,0.78)" stroke-width="2.0"/>
<circle cx="966.3" cy="1530.8" r="3.0" fill="rgba(190,190,190,0.32)" stroke="rgba(188,188,188,0.78)" stroke-width="2.0"/>
<circle cx="953.9" cy="1541.3" r="3.0" fill="rgba(190,190,190,0.32)" stroke="rgba(188,188,188,0.78)" stroke-width="2.0"/>
<circle cx="956.3" cy="1495.7" r="3.0" fill="rgba(190,190,190,0.32)" stroke="rgba(188,188,188,0.78)" stroke-width="2.0"/>
<circle cx="952.1" cy="1526.6" r="3.0" fill="rgba(190,190,190,0.32)" stroke="rgba(188,188,188,0.78)" stroke-width="2.0"/>
<circle cx="948.1" cy="1499.3" r="3.0" fill="rgba(190,190,190,0.32)" stroke="rgba(188,188,188,0.78)" stroke-width="2.0"/>
<circle cx="953.4" cy="1519.0" r="3.0" fill="rgba(190,190,190,0.32)" stroke="rgba(188,188,188,0.78)" stroke-width="2.0"/>
<circle cx="954.6" cy="1526.5" r="3.0" fill="rgba(190,190,190,0.32)" stroke="rgba(188,188,188,0.78)" stroke-width="2.0"/>
<circle cx="962.0" cy="1499.1" r="3.0" fill="rgba(190,190,190,0.32)" stroke="rgba(188,188,188,0.78)" stroke-width="2.0"/>
<circle cx="962.5" cy="1539.8" r="3.0" fill="rgba(190,190,190,0.32)" stroke="rgba(188,188,188,0.78)" stroke-width="2.0"/>
<circle cx="966.8" cy="1547.4" r="3.0" fill="rgba(190,190,190,0.32)" stroke="rgba(188,188,188,0.78)" stroke-width="2.0"/>
<circle cx="949.3" cy="1525.7" r="3.0" fill="rgba(190,190,190,0.32)" stroke="rgba(188,188,188,0.78)" stroke-width="2.0"/>
<circle cx="965.2" cy="1552.6" r="3.0" fill="rgba(190,190,190,0.32)" stroke="rgba(188,188,188,0.78)" stroke-width="2.0"/>
<circle cx="951.1" cy="1515.8" r="3.0" fill="rgba(190,190,190,0.32)" stroke="rgba(188,188,188,0.78)" stroke-width="2.0"/>
<circle cx="948.3" cy="1532.1" r="3.0" fill="rgba(190,190,190,0.32)" stroke="rgba(188,188,188,0.78)" stroke-width="2.0"/>
<circle cx="948.3" cy="1536.8" r="3.0" fill="rgba(190,190,190,0.32)" stroke="rgba(188,188,188,0.78)" stroke-width="2.0"/>
<circle cx="953.5" cy="1508.1" r="3.0" fill="rgba(190,190,190,0.32)" stroke="rgba(188,188,188,0.78)" stroke-width="2.0"/>
<circle cx="950.2" cy="1508.7" r="3.0" fill="rgba(190,190,190,0.32)" stroke="rgba(188,188,188,0.78)" stroke-width="2.0"/>
<circle cx="965.1" cy="1512.1" r="3.0" fill="rgba(190,190,190,0.32)" stroke="rgba(188,188,188,0.78)" stroke-width="2.0"/>
<circle cx="955.6" cy="1532.3" r="3.0" fill="rgba(190,190,190,0.32)" stroke="rgba(188,188,188,0.78)" stroke-width="2.0"/>
<circle cx="965.4" cy="1548.2" r="3.0" fill="rgba(190,190,190,0.32)" stroke="rgba(188,188,188,0.78)" stroke-width="2.0"/>
<circle cx="951.7" cy="1526.8" r="3.0" fill="rgba(190,190,190,0.32)" stroke="rgba(188,188,188,0.78)" stroke-width="2.0"/>
<circle cx="965.2" cy="1521.0" r="3.0" fill="rgba(190,190,190,0.32)" stroke="rgba(188,188,188,0.78)" stroke-width="2.0"/>
<circle cx="962.7" cy="1536.5" r="3.0" fill="rgba(190,190,190,0.32)" stroke="rgba(188,188,188,0.78)" stroke-width="2.0"/>
<circle cx="966.5" cy="1527.7" r="3.0" fill="rgba(190,190,190,0.32)" stroke="rgba(188,188,188,0.78)" stroke-width="2.0"/>
<circle cx="952.3" cy="1508.0" r="3.0" fill="rgba(190,190,190,0.32)" stroke="rgba(188,188,188,0.78)" stroke-width="2.0"/>
<circle cx="964.3" cy="1529.5" r="3.0" fill="rgba(190,190,190,0.32)" stroke="rgba(188,188,188,0.78)" stroke-width="2.0"/>
<circle cx="957.6" cy="1523.3" r="3.0" fill="rgba(190,190,190,0.32)" stroke="rgba(188,188,188,0.78)" stroke-width="2.0"/>
<circle cx="953.8" cy="1520.7" r="3.0" fill="rgba(190,190,190,0.32)" stroke="rgba(188,188,188,0.78)" stroke-width="2.0"/>
<circle cx="953.2" cy="1517.4" r="3.0" fill="rgba(190,190,190,0.32)" stroke="rgba(188,188,188,0.78)" stroke-width="2.0"/>
<circle cx="949.3" cy="1521.9" r="3.0" fill="rgba(190,190,190,0.32)" stroke="rgba(188,188,188,0.78)" stroke-width="2.0"/>
<circle cx="958.3" cy="1516.5" r="3.0" fill="rgba(190,190,190,0.32)" stroke="rgba(188,188,188,0.78)" stroke-width="2.0"/>
<circle cx="959.0" cy="1522.5" r="3.0" fill="rgba(190,190,190,0.32)" stroke="rgba(188,188,188,0.78)" stroke-width="2.0"/>
<circle cx="959.9" cy="1497.2" r="3.0" fill="rgba(190,190,190,0.32)" stroke="rgba(188,188,188,0.78)" stroke-width="2.0"/>
<circle cx="966.5" cy="1497.6" r="3.0" fill="rgba(190,190,190,0.32)" stroke="rgba(188,188,188,0.78)" stroke-width="2.0"/>
<circle cx="958.3" cy="1536.0" r="3.0" fill="rgba(190,190,190,0.32)" stroke="rgba(188,188,188,0.78)" stroke-width="2.0"/>
<circle cx="966.5" cy="1512.0" r="3.0" fill="rgba(190,190,190,0.32)" stroke="rgba(188,188,188,0.78)" stroke-width="2.0"/>
<circle cx="956.2" cy="1561.6" r="3.0" fill="rgba(190,190,190,0.32)" stroke="rgba(188,188,188,0.78)" stroke-width="2.0"/>
<circle cx="949.7" cy="1532.3" r="3.0" fill="rgba(190,190,190,0.32)" stroke="rgba(188,188,188,0.78)" stroke-width="2.0"/>
<circle cx="962.0" cy="1499.7" r="3.0" fill="rgba(190,190,190,0.32)" stroke="rgba(188,188,188,0.78)" stroke-width="2.0"/>
<circle cx="961.4" cy="1500.4" r="3.0" fill="rgba(190,190,190,0.32)" stroke="rgba(188,188,188,0.78)" stroke-width="2.0"/>
<circle cx="963.0" cy="1519.4" r="3.0" fill="rgba(190,190,190,0.32)" stroke="rgba(188,188,188,0.78)" stroke-width="2.0"/>
<circle cx="969.6" cy="1506.2" r="3.0" fill="rgba(190,190,190,0.32)" stroke="rgba(188,188,188,0.78)" stroke-width="2.0"/>
<circle cx="917.7" cy="1492.4" r="3.0" fill="rgba(190,190,190,0.32)" stroke="rgba(188,188,188,0.78)" stroke-width="2.0"/>
<circle cx="969.4" cy="1491.7" r="3.0" fill="rgba(190,190,190,0.32)" stroke="rgba(188,188,188,0.78)" stroke-width="2.0"/>
<circle cx="950.8" cy="1482.0" r="3.0" fill="rgba(190,190,190,0.32)" stroke="rgba(188,188,188,0.78)" stroke-width="2.0"/>
<circle cx="921.5" cy="1506.5" r="3.0" fill="rgba(190,190,190,0.32)" stroke="rgba(188,188,188,0.78)" stroke-width="2.0"/>
<circle cx="932.7" cy="1499.8" r="3.0" fill="rgba(190,190,190,0.32)" stroke="rgba(188,188,188,0.78)" stroke-width="2.0"/>
<circle cx="897.0" cy="1490.8" r="3.0" fill="rgba(190,190,190,0.32)" stroke="rgba(188,188,188,0.78)" stroke-width="2.0"/>
<circle cx="971.3" cy="1501.3" r="3.0" fill="rgba(190,190,190,0.32)" stroke="rgba(188,188,188,0.78)" stroke-width="2.0"/>
<circle cx="918.7" cy="1497.8" r="3.0" fill="rgba(190,190,190,0.32)" stroke="rgba(188,188,188,0.78)" stroke-width="2.0"/>
<circle cx="976.1" cy="1487.1" r="3.0" fill="rgba(190,190,190,0.32)" stroke="rgba(188,188,188,0.78)" stroke-width="2.0"/>
<circle cx="979.5" cy="1485.8" r="3.0" fill="rgba(190,190,190,0.32)" stroke="rgba(188,188,188,0.78)" stroke-width="2.0"/>
<circle cx="931.1" cy="1492.8" r="3.0" fill="rgba(190,190,190,0.32)" stroke="rgba(188,188,188,0.78)" stroke-width="2.0"/>
<circle cx="858.3" cy="1492.1" r="3.0" fill="rgba(190,190,190,0.32)" stroke="rgba(188,188,188,0.78)" stroke-width="2.0"/>
<circle cx="923.4" cy="1481.3" r="3.0" fill="rgba(190,190,190,0.32)" stroke="rgba(188,188,188,0.78)" stroke-width="2.0"/>
<circle cx="945.2" cy="1499.1" r="3.0" fill="rgba(190,190,190,0.32)" stroke="rgba(188,188,188,0.78)" stroke-width="2.0"/>
<circle cx="946.0" cy="1503.1" r="3.0" fill="rgba(190,190,190,0.32)" stroke="rgba(188,188,188,0.78)" stroke-width="2.0"/>
<circle cx="917.3" cy="1482.5" r="3.0" fill="rgba(190,190,190,0.32)" stroke="rgba(188,188,188,0.78)" stroke-width="2.0"/>
<circle cx="1020.3" cy="1496.2" r="3.0" fill="rgba(190,190,190,0.32)" stroke="rgba(188,188,188,0.78)" stroke-width="2.0"/>
<circle cx="997.3" cy="1486.4" r="3.0" fill="rgba(190,190,190,0.32)" stroke="rgba(188,188,188,0.78)" stroke-width="2.0"/>
<circle cx="992.0" cy="1495.1" r="3.0" fill="rgba(190,190,190,0.32)" stroke="rgba(188,188,188,0.78)" stroke-width="2.0"/>
<circle cx="986.0" cy="1493.2" r="3.0" fill="rgba(190,190,190,0.32)" stroke="rgba(188,188,188,0.78)" stroke-width="2.0"/>
<circle cx="1007.2" cy="1487.8" r="3.0" fill="rgba(190,190,190,0.32)" stroke="rgba(188,188,188,0.78)" stroke-width="2.0"/>
<circle cx="924.8" cy="1481.2" r="3.0" fill="rgba(190,190,190,0.32)" stroke="rgba(188,188,188,0.78)" stroke-width="2.0"/>
<circle cx="1005.5" cy="1487.1" r="3.0" fill="rgba(190,190,190,0.32)" stroke="rgba(188,188,188,0.78)" stroke-width="2.0"/>
<circle cx="921.8" cy="1485.5" r="3.0" fill="rgba(190,190,190,0.32)" stroke="rgba(188,188,188,0.78)" stroke-width="2.0"/>
<circle cx="944.5" cy="1482.8" r="3.0" fill="rgba(190,190,190,0.32)" stroke="rgba(188,188,188,0.78)" stroke-width="2.0"/>
<circle cx="950.4" cy="1488.0" r="3.0" fill="rgba(190,190,190,0.32)" stroke="rgba(188,188,188,0.78)" stroke-width="2.0"/>
<circle cx="940.5" cy="1485.3" r="3.0" fill="rgba(190,190,190,0.32)" stroke="rgba(188,188,188,0.78)" stroke-width="2.0"/>
<circle cx="962.8" cy="1489.3" r="3.0" fill="rgba(190,190,190,0.32)" stroke="rgba(188,188,188,0.78)" stroke-width="2.0"/>
<circle cx="965.8" cy="1495.0" r="3.0" fill="rgba(190,190,190,0.32)" stroke="rgba(188,188,188,0.78)" stroke-width="2.0"/>
<circle cx="974.3" cy="1475.5" r="3.0" fill="rgba(190,190,190,0.32)" stroke="rgba(188,188,188,0.78)" stroke-width="2.0"/>
<circle cx="941.0" cy="1486.6" r="3.0" fill="rgba(190,190,190,0.32)" stroke="rgba(188,188,188,0.78)" stroke-width="2.0"/>
<circle cx="990.8" cy="1480.4" r="3.0" fill="rgba(190,190,190,0.32)" stroke="rgba(188,188,188,0.78)" stroke-width="2.0"/>
<circle cx="934.3" cy="1490.6" r="3.0" fill="rgba(190,190,190,0.32)" stroke="rgba(188,188,188,0.78)" stroke-width="2.0"/>
<circle cx="948.6" cy="1500.9" r="3.0" fill="rgba(190,190,190,0.32)" stroke="rgba(188,188,188,0.78)" stroke-width="2.0"/>
<circle cx="944.6" cy="1500.7" r="3.0" fill="rgba(190,190,190,0.32)" stroke="rgba(188,188,188,0.78)" stroke-width="2.0"/>
<circle cx="905.7" cy="1478.5" r="3.0" fill="rgba(190,190,190,0.32)" stroke="rgba(188,188,188,0.78)" stroke-width="2.0"/>
<circle cx="1007.7" cy="1496.5" r="3.0" fill="rgba(190,190,190,0.32)" stroke="rgba(188,188,188,0.78)" stroke-width="2.0"/>
<circle cx="979.9" cy="1494.0" r="3.0" fill="rgba(190,190,190,0.32)" stroke="rgba(188,188,188,0.78)" stroke-width="2.0"/>
<circle cx="979.8" cy="1483.3" r="3.0" fill="rgba(190,190,190,0.32)" stroke="rgba(188,188,188,0.78)" stroke-width="2.0"/>
<circle cx="997.4" cy="1488.7" r="3.0" fill="rgba(190,190,190,0.32)" stroke="rgba(188,188,188,0.78)" stroke-width="2.0"/>
<circle cx="998.9" cy="1493.7" r="3.0" fill="rgba(190,190,190,0.32)" stroke="rgba(188,188,188,0.78)" stroke-width="2.0"/>
<circle cx="886.4" cy="1482.7" r="3.0" fill="rgba(190,190,190,0.32)" stroke="rgba(188,188,188,0.78)" stroke-width="2.0"/>
<circle cx="1004.3" cy="1491.9" r="3.0" fill="rgba(190,190,190,0.32)" stroke="rgba(188,188,188,0.78)" stroke-width="2.0"/>
<circle cx="946.4" cy="1494.9" r="3.0" fill="rgba(190,190,190,0.32)" stroke="rgba(188,188,188,0.78)" stroke-width="2.0"/>
<circle cx="945.2" cy="1488.6" r="3.0" fill="rgba(190,190,190,0.32)" stroke="rgba(188,188,188,0.78)" stroke-width="2.0"/>
<circle cx="965.3" cy="1494.2" r="3.0" fill="rgba(190,190,190,0.32)" stroke="rgba(188,188,188,0.78)" stroke-width="2.0"/>
<circle cx="1019.0" cy="1493.4" r="3.0" fill="rgba(190,190,190,0.32)" stroke="rgba(188,188,188,0.78)" stroke-width="2.0"/>
<circle cx="1032.8" cy="1507.4" r="3.0" fill="rgba(190,190,190,0.32)" stroke="rgba(188,188,188,0.78)" stroke-width="2.0"/>
<circle cx="1026.6" cy="1501.5" r="3.0" fill="rgba(190,190,190,0.32)" stroke="rgba(188,188,188,0.78)" stroke-width="2.0"/>
<circle cx="966.4" cy="1494.1" r="3.0" fill="rgba(190,190,190,0.32)" stroke="rgba(188,188,188,0.78)" stroke-width="2.0"/>
<circle cx="956.0" cy="1487.2" r="3.0" fill="rgba(190,190,190,0.32)" stroke="rgba(188,188,188,0.78)" stroke-width="2.0"/>
<circle cx="958.9" cy="1487.9" r="3.0" fill="rgba(190,190,190,0.32)" stroke="rgba(188,188,188,0.78)" stroke-width="2.0"/>
<circle cx="1023.7" cy="1497.3" r="3.0" fill="rgba(190,190,190,0.32)" stroke="rgba(188,188,188,0.78)" stroke-width="2.0"/>
<circle cx="944.4" cy="1477.7" r="3.0" fill="rgba(190,190,190,0.32)" stroke="rgba(188,188,188,0.78)" stroke-width="2.0"/>
<circle cx="959.4" cy="1489.7" r="3.0" fill="rgba(190,190,190,0.32)" stroke="rgba(188,188,188,0.78)" stroke-width="2.0"/>
<circle cx="920.1" cy="1483.9" r="3.0" fill="rgba(190,190,190,0.32)" stroke="rgba(188,188,188,0.78)" stroke-width="2.0"/>
<circle cx="875.9" cy="1497.6" r="3.0" fill="rgba(190,190,190,0.32)" stroke="rgba(188,188,188,0.78)" stroke-width="2.0"/>
<circle cx="958.9" cy="1513.6" r="3.0" fill="rgba(190,190,190,0.32)" stroke="rgba(188,188,188,0.78)" stroke-width="2.0"/>
<circle cx="960.2" cy="1491.8" r="3.0" fill="rgba(190,190,190,0.32)" stroke="rgba(188,188,188,0.78)" stroke-width="2.0"/>
<circle cx="1016.3" cy="1494.1" r="3.0" fill="rgba(190,190,190,0.32)" stroke="rgba(188,188,188,0.78)" stroke-width="2.0"/>
<circle cx="967.8" cy="1490.0" r="3.0" fill="rgba(190,190,190,0.32)" stroke="rgba(188,188,188,0.78)" stroke-width="2.0"/>
<circle cx="938.4" cy="1505.0" r="3.0" fill="rgba(190,190,190,0.32)" stroke="rgba(188,188,188,0.78)" stroke-width="2.0"/>
<circle cx="999.4" cy="1506.7" r="3.0" fill="rgba(190,190,190,0.32)" stroke="rgba(188,188,188,0.78)" stroke-width="2.0"/>
<circle cx="948.1" cy="1493.2" r="3.0" fill="rgba(190,190,190,0.32)" stroke="rgba(188,188,188,0.78)" stroke-width="2.0"/>
<circle cx="927.9" cy="1500.7" r="3.0" fill="rgba(190,190,190,0.32)" stroke="rgba(188,188,188,0.78)" stroke-width="2.0"/>
<circle cx="908.5" cy="1497.5" r="3.0" fill="rgba(190,190,190,0.32)" stroke="rgba(188,188,188,0.78)" stroke-width="2.0"/>
<circle cx="1003.0" cy="1504.3" r="3.0" fill="rgba(190,190,190,0.32)" stroke="rgba(188,188,188,0.78)" stroke-width="2.0"/>
<circle cx="925.7" cy="1501.7" r="3.0" fill="rgba(190,190,190,0.32)" stroke="rgba(188,188,188,0.78)" stroke-width="2.0"/>
<circle cx="934.3" cy="1486.9" r="3.0" fill="rgba(190,190,190,0.32)" stroke="rgba(188,188,188,0.78)" stroke-width="2.0"/>
<circle cx="911.1" cy="1502.2" r="3.0" fill="rgba(190,190,190,0.32)" stroke="rgba(188,188,188,0.78)" stroke-width="2.0"/>
<circle cx="1024.0" cy="1488.2" r="3.0" fill="rgba(190,190,190,0.32)" stroke="rgba(188,188,188,0.78)" stroke-width="2.0"/>
<circle cx="932.5" cy="1490.3" r="3.0" fill="rgba(190,190,190,0.32)" stroke="rgba(188,188,188,0.78)" stroke-width="2.0"/>
<circle cx="1056.7" cy="1501.0" r="3.0" fill="rgba(190,190,190,0.32)" stroke="rgba(188,188,188,0.78)" stroke-width="2.0"/>
<circle cx="940.8" cy="1478.6" r="3.0" fill="rgba(190,190,190,0.32)" stroke="rgba(188,188,188,0.78)" stroke-width="2.0"/>
<circle cx="935.8" cy="1502.5" r="3.0" fill="rgba(190,190,190,0.32)" stroke="rgba(188,188,188,0.78)" stroke-width="2.0"/>
<circle cx="1032.4" cy="1490.9" r="3.0" fill="rgba(190,190,190,0.32)" stroke="rgba(188,188,188,0.78)" stroke-width="2.0"/>
<circle cx="935.1" cy="1488.9" r="3.0" fill="rgba(190,190,190,0.32)" stroke="rgba(188,188,188,0.78)" stroke-width="2.0"/>
<circle cx="889.7" cy="1500.3" r="3.0" fill="rgba(190,190,190,0.32)" stroke="rgba(188,188,188,0.78)" stroke-width="2.0"/>
<circle cx="920.1" cy="1501.5" r="3.0" fill="rgba(190,190,190,0.32)" stroke="rgba(188,188,188,0.78)" stroke-width="2.0"/>
<circle cx="896.5" cy="1482.8" r="3.0" fill="rgba(190,190,190,0.32)" stroke="rgba(188,188,188,0.78)" stroke-width="2.0"/>
<circle cx="972.4" cy="1486.9" r="3.0" fill="rgba(190,190,190,0.32)" stroke="rgba(188,188,188,0.78)" stroke-width="2.0"/>
<circle cx="991.1" cy="1493.1" r="3.0" fill="rgba(190,190,190,0.32)" stroke="rgba(188,188,188,0.78)" stroke-width="2.0"/>
<circle cx="916.8" cy="1498.0" r="3.0" fill="rgba(190,190,190,0.32)" stroke="rgba(188,188,188,0.78)" stroke-width="2.0"/>
<circle cx="993.4" cy="1477.7" r="3.0" fill="rgba(190,190,190,0.32)" stroke="rgba(188,188,188,0.78)" stroke-width="2.0"/>
<circle cx="1030.8" cy="1497.0" r="3.0" fill="rgba(190,190,190,0.32)" stroke="rgba(188,188,188,0.78)" stroke-width="2.0"/>
<circle cx="990.3" cy="1478.1" r="3.0" fill="rgba(190,190,190,0.32)" stroke="rgba(188,188,188,0.78)" stroke-width="2.0"/>
<circle cx="934.1" cy="1490.2" r="3.0" fill="rgba(190,190,190,0.32)" stroke="rgba(188,188,188,0.78)" stroke-width="2.0"/>
<circle cx="1002.3" cy="1481.3" r="3.0" fill="rgba(190,190,190,0.32)" stroke="rgba(188,188,188,0.78)" stroke-width="2.0"/>
<circle cx="927.8" cy="1476.8" r="3.0" fill="rgba(190,190,190,0.32)" stroke="rgba(188,188,188,0.78)" stroke-width="2.0"/>
<circle cx="952.2" cy="1495.8" r="3.0" fill="rgba(190,190,190,0.32)" stroke="rgba(188,188,188,0.78)" stroke-width="2.0"/>
<circle cx="897.3" cy="1488.3" r="3.0" fill="rgba(190,190,190,0.32)" stroke="rgba(188,188,188,0.78)" stroke-width="2.0"/>
<circle cx="980.8" cy="1505.7" r="3.0" fill="rgba(190,190,190,0.32)" stroke="rgba(188,188,188,0.78)" stroke-width="2.0"/>
<circle cx="986.6" cy="1490.6" r="3.0" fill="rgba(190,190,190,0.32)" stroke="rgba(188,188,188,0.78)" stroke-width="2.0"/>
<circle cx="916.6" cy="1485.5" r="3.0" fill="rgba(190,190,190,0.32)" stroke="rgba(188,188,188,0.78)" stroke-width="2.0"/>
<circle cx="936.2" cy="1494.2" r="3.0" fill="rgba(190,190,190,0.32)" stroke="rgba(188,188,188,0.78)" stroke-width="2.0"/>
<circle cx="959.5" cy="1506.3" r="3.0" fill="rgba(190,190,190,0.32)" stroke="rgba(188,188,188,0.78)" stroke-width="2.0"/>
<circle cx="972.3" cy="1484.4" r="3.0" fill="rgba(190,190,190,0.32)" stroke="rgba(188,188,188,0.78)" stroke-width="2.0"/>
<circle cx="1020.1" cy="1500.6" r="3.0" fill="rgba(190,190,190,0.32)" stroke="rgba(188,188,188,0.78)" stroke-width="2.0"/>
<circle cx="965.2" cy="1487.2" r="3.0" fill="rgba(190,190,190,0.32)" stroke="rgba(188,188,188,0.78)" stroke-width="2.0"/>
<circle cx="890.3" cy="1484.8" r="3.0" fill="rgba(190,190,190,0.32)" stroke="rgba(188,188,188,0.78)" stroke-width="2.0"/>
<circle cx="996.0" cy="1486.6" r="3.0" fill="rgba(190,190,190,0.32)" stroke="rgba(188,188,188,0.78)" stroke-width="2.0"/>
<circle cx="911.3" cy="1494.6" r="3.0" fill="rgba(190,190,190,0.32)" stroke="rgba(188,188,188,0.78)" stroke-width="2.0"/>
<circle cx="970.7" cy="1497.9" r="3.0" fill="rgba(190,190,190,0.32)" stroke="rgba(188,188,188,0.78)" stroke-width="2.0"/>
<circle cx="986.3" cy="1504.3" r="3.0" fill="rgba(190,190,190,0.32)" stroke="rgba(188,188,188,0.78)" stroke-width="2.0"/>
<circle cx="929.5" cy="1500.8" r="3.0" fill="rgba(190,190,190,0.32)" stroke="rgba(188,188,188,0.78)" stroke-width="2.0"/>
<circle cx="923.9" cy="1498.6" r="3.0" fill="rgba(190,190,190,0.32)" stroke="rgba(188,188,188,0.78)" stroke-width="2.0"/>
<circle cx="968.2" cy="1494.9" r="3.0" fill="rgba(190,190,190,0.32)" stroke="rgba(188,188,188,0.78)" stroke-width="2.0"/>
<circle cx="998.2" cy="1492.9" r="3.0" fill="rgba(190,190,190,0.32)" stroke="rgba(188,188,188,0.78)" stroke-width="2.0"/>
<circle cx="1003.7" cy="1500.0" r="3.0" fill="rgba(190,190,190,0.32)" stroke="rgba(188,188,188,0.78)" stroke-width="2.0"/>
<circle cx="966.5" cy="1488.5" r="3.0" fill="rgba(190,190,190,0.32)" stroke="rgba(188,188,188,0.78)" stroke-width="2.0"/>
<circle cx="932.8" cy="1488.8" r="3.0" fill="rgba(190,190,190,0.32)" stroke="rgba(188,188,188,0.78)" stroke-width="2.0"/>
<circle cx="953.7" cy="1492.8" r="3.0" fill="rgba(190,190,190,0.32)" stroke="rgba(188,188,188,0.78)" stroke-width="2.0"/>
<circle cx="1074.7" cy="1498.1" r="3.0" fill="rgba(190,190,190,0.32)" stroke="rgba(188,188,188,0.78)" stroke-width="2.0"/>
<circle cx="990.6" cy="1486.1" r="3.0" fill="rgba(190,190,190,0.32)" stroke="rgba(188,188,188,0.78)" stroke-width="2.0"/>
<circle cx="934.4" cy="1490.4" r="3.0" fill="rgba(190,190,190,0.32)" stroke="rgba(188,188,188,0.78)" stroke-width="2.0"/>
<circle cx="968.7" cy="1484.7" r="3.0" fill="rgba(190,190,190,0.32)" stroke="rgba(188,188,188,0.78)" stroke-width="2.0"/>
<circle cx="1022.7" cy="1488.5" r="3.0" fill="rgba(190,190,190,0.32)" stroke="rgba(188,188,188,0.78)" stroke-width="2.0"/>
<circle cx="1002.4" cy="1474.3" r="3.0" fill="rgba(190,190,190,0.32)" stroke="rgba(188,188,188,0.78)" stroke-width="2.0"/>
<circle cx="961.1" cy="1495.2" r="3.0" fill="rgba(190,190,190,0.32)" stroke="rgba(188,188,188,0.78)" stroke-width="2.0"/>
<circle cx="968.7" cy="1497.8" r="3.0" fill="rgba(190,190,190,0.32)" stroke="rgba(188,188,188,0.78)" stroke-width="2.0"/>
<circle cx="972.0" cy="1494.3" r="3.0" fill="rgba(190,190,190,0.32)" stroke="rgba(188,188,188,0.78)" stroke-width="2.0"/>
<circle cx="889.5" cy="1487.3" r="3.0" fill="rgba(190,190,190,0.32)" stroke="rgba(188,188,188,0.78)" stroke-width="2.0"/>
<circle cx="872.4" cy="1498.0" r="3.0" fill="rgba(190,190,190,0.32)" stroke="rgba(188,188,188,0.78)" stroke-width="2.0"/>
<circle cx="973.1" cy="1491.4" r="3.0" fill="rgba(190,190,190,0.32)" stroke="rgba(188,188,188,0.78)" stroke-width="2.0"/>
<circle cx="930.2" cy="1488.3" r="3.0" fill="rgba(190,190,190,0.32)" stroke="rgba(188,188,188,0.78)" stroke-width="2.0"/>
<circle cx="1031.5" cy="1506.8" r="3.0" fill="rgba(190,190,190,0.32)" stroke="rgba(188,188,188,0.78)" stroke-width="2.0"/>
<circle cx="959.2" cy="1503.3" r="3.0" fill="rgba(190,190,190,0.32)" stroke="rgba(188,188,188,0.78)" stroke-width="2.0"/>
<circle cx="901.1" cy="1477.5" r="3.0" fill="rgba(190,190,190,0.32)" stroke="rgba(188,188,188,0.78)" stroke-width="2.0"/>
<circle cx="943.0" cy="1486.0" r="3.0" fill="rgba(190,190,190,0.32)" stroke="rgba(188,188,188,0.78)" stroke-width="2.0"/>
<circle cx="940.2" cy="1494.5" r="3.0" fill="rgba(190,190,190,0.32)" stroke="rgba(188,188,188,0.78)" stroke-width="2.0"/>
<circle cx="1076.3" cy="1487.7" r="3.0" fill="rgba(190,190,190,0.32)" stroke="rgba(188,188,188,0.78)" stroke-width="2.0"/>
<circle cx="963.3" cy="1495.2" r="3.0" fill="rgba(190,190,190,0.32)" stroke="rgba(188,188,188,0.78)" stroke-width="2.0"/>
<circle cx="960.1" cy="1500.4" r="3.0" fill="rgba(190,190,190,0.32)" stroke="rgba(188,188,188,0.78)" stroke-width="2.0"/>
<circle cx="1028.9" cy="1483.1" r="3.0" fill="rgba(190,190,190,0.32)" stroke="rgba(188,188,188,0.78)" stroke-width="2.0"/>
<circle cx="967.5" cy="1490.9" r="3.0" fill="rgba(190,190,190,0.32)" stroke="rgba(188,188,188,0.78)" stroke-width="2.0"/>
<circle cx="974.9" cy="1480.7" r="3.0" fill="rgba(190,190,190,0.32)" stroke="rgba(188,188,188,0.78)" stroke-width="2.0"/>
<circle cx="894.6" cy="1474.5" r="3.0" fill="rgba(190,190,190,0.32)" stroke="rgba(188,188,188,0.78)" stroke-width="2.0"/>
<circle cx="981.4" cy="1494.5" r="3.0" fill="rgba(190,190,190,0.32)" stroke="rgba(188,188,188,0.78)" stroke-width="2.0"/>
<circle cx="964.2" cy="1474.1" r="3.0" fill="rgba(190,190,190,0.32)" stroke="rgba(188,188,188,0.78)" stroke-width="2.0"/>
<circle cx="947.2" cy="1487.0" r="3.0" fill="rgba(190,190,190,0.32)" stroke="rgba(188,188,188,0.78)" stroke-width="2.0"/>
<circle cx="907.7" cy="1485.7" r="3.0" fill="rgba(190,190,190,0.32)" stroke="rgba(188,188,188,0.78)" stroke-width="2.0"/>
<circle cx="987.9" cy="1497.4" r="3.0" fill="rgba(190,190,190,0.32)" stroke="rgba(188,188,188,0.78)" stroke-width="2.0"/>
<circle cx="960.5" cy="1497.1" r="3.0" fill="rgba(190,190,190,0.32)" stroke="rgba(188,188,188,0.78)" stroke-width="2.0"/>
<circle cx="938.5" cy="1493.6" r="3.0" fill="rgba(190,190,190,0.32)" stroke="rgba(188,188,188,0.78)" stroke-width="2.0"/>
<circle cx="962.9" cy="1497.4" r="3.0" fill="rgba(190,190,190,0.32)" stroke="rgba(188,188,188,0.78)" stroke-width="2.0"/>
<circle cx="958.7" cy="1491.9" r="3.0" fill="rgba(190,190,190,0.32)" stroke="rgba(188,188,188,0.78)" stroke-width="2.0"/>
<circle cx="956.3" cy="1487.8" r="3.0" fill="rgba(190,190,190,0.32)" stroke="rgba(188,188,188,0.78)" stroke-width="2.0"/>
<circle cx="1046.3" cy="1497.1" r="3.0" fill="rgba(190,190,190,0.32)" stroke="rgba(188,188,188,0.78)" stroke-width="2.0"/>
<circle cx="977.7" cy="1511.3" r="3.0" fill="rgba(190,190,190,0.32)" stroke="rgba(188,188,188,0.78)" stroke-width="2.0"/>
<circle cx="1014.7" cy="1480.5" r="3.0" fill="rgba(190,190,190,0.32)" stroke="rgba(188,188,188,0.78)" stroke-width="2.0"/>
<circle cx="987.8" cy="1499.7" r="3.0" fill="rgba(190,190,190,0.32)" stroke="rgba(188,188,188,0.78)" stroke-width="2.0"/>
<circle cx="1033.0" cy="1503.5" r="3.0" fill="rgba(190,190,190,0.32)" stroke="rgba(188,188,188,0.78)" stroke-width="2.0"/>
<circle cx="990.7" cy="1483.6" r="3.0" fill="rgba(190,190,190,0.32)" stroke="rgba(188,188,188,0.78)" stroke-width="2.0"/>
<circle cx="928.3" cy="1495.2" r="3.0" fill="rgba(190,190,190,0.32)" stroke="rgba(188,188,188,0.78)" stroke-width="2.0"/>
<circle cx="980.6" cy="1484.8" r="3.0" fill="rgba(190,190,190,0.32)" stroke="rgba(188,188,188,0.78)" stroke-width="2.0"/>
<circle cx="946.8" cy="1489.8" r="3.0" fill="rgba(190,190,190,0.32)" stroke="rgba(188,188,188,0.78)" stroke-width="2.0"/>
<circle cx="963.7" cy="1495.7" r="3.0" fill="rgba(190,190,190,0.32)" stroke="rgba(188,188,188,0.78)" stroke-width="2.0"/>
<circle cx="950.5" cy="1483.1" r="3.0" fill="rgba(190,190,190,0.32)" stroke="rgba(188,188,188,0.78)" stroke-width="2.0"/>
<circle cx="1008.6" cy="1505.8" r="3.0" fill="rgba(190,190,190,0.32)" stroke="rgba(188,188,188,0.78)" stroke-width="2.0"/>
<circle cx="957.4" cy="1501.2" r="3.0" fill="rgba(190,190,190,0.32)" stroke="rgba(188,188,188,0.78)" stroke-width="2.0"/>
<circle cx="978.3" cy="1498.3" r="3.0" fill="rgba(190,190,190,0.32)" stroke="rgba(188,188,188,0.78)" stroke-width="2.0"/>
<circle cx="979.7" cy="1486.9" r="3.0" fill="rgba(190,190,190,0.32)" stroke="rgba(188,188,188,0.78)" stroke-width="2.0"/>
<circle cx="983.2" cy="1501.1" r="3.0" fill="rgba(190,190,190,0.32)" stroke="rgba(188,188,188,0.78)" stroke-width="2.0"/>
<circle cx="927.3" cy="1508.7" r="3.0" fill="rgba(190,190,190,0.32)" stroke="rgba(188,188,188,0.78)" stroke-width="2.0"/>
<circle cx="1040.8" cy="1507.6" r="3.0" fill="rgba(190,190,190,0.32)" stroke="rgba(188,188,188,0.78)" stroke-width="2.0"/>
<circle cx="1037.0" cy="1498.9" r="3.0" fill="rgba(190,190,190,0.32)" stroke="rgba(188,188,188,0.78)" stroke-width="2.0"/>
<circle cx="948.5" cy="1488.2" r="3.0" fill="rgba(190,190,190,0.32)" stroke="rgba(188,188,188,0.78)" stroke-width="2.0"/>
<circle cx="930.5" cy="1493.9" r="3.0" fill="rgba(190,190,190,0.32)" stroke="rgba(188,188,188,0.78)" stroke-width="2.0"/>
<circle cx="960.2" cy="1498.4" r="3.0" fill="rgba(190,190,190,0.32)" stroke="rgba(188,188,188,0.78)" stroke-width="2.0"/>
<circle cx="884.6" cy="1511.5" r="3.0" fill="rgba(190,190,190,0.32)" stroke="rgba(188,188,188,0.78)" stroke-width="2.0"/>
<circle cx="949.9" cy="1527.4" r="3.0" fill="rgba(190,190,190,0.32)" stroke="rgba(188,188,188,0.78)" stroke-width="2.0"/>
<circle cx="886.8" cy="1505.1" r="3.0" fill="rgba(190,190,190,0.32)" stroke="rgba(188,188,188,0.78)" stroke-width="2.0"/>
<circle cx="942.7" cy="1497.0" r="3.0" fill="rgba(190,190,190,0.32)" stroke="rgba(188,188,188,0.78)" stroke-width="2.0"/>
<circle cx="930.9" cy="1505.3" r="3.0" fill="rgba(190,190,190,0.32)" stroke="rgba(188,188,188,0.78)" stroke-width="2.0"/>
<circle cx="948.5" cy="1495.6" r="3.0" fill="rgba(190,190,190,0.32)" stroke="rgba(188,188,188,0.78)" stroke-width="2.0"/>
<circle cx="936.5" cy="1506.9" r="3.0" fill="rgba(190,190,190,0.32)" stroke="rgba(188,188,188,0.78)" stroke-width="2.0"/>
<circle cx="889.8" cy="1495.1" r="3.0" fill="rgba(190,190,190,0.32)" stroke="rgba(188,188,188,0.78)" stroke-width="2.0"/>
<circle cx="938.3" cy="1513.4" r="3.0" fill="rgba(190,190,190,0.32)" stroke="rgba(188,188,188,0.78)" stroke-width="2.0"/>
<circle cx="893.0" cy="1510.2" r="3.0" fill="rgba(190,190,190,0.32)" stroke="rgba(188,188,188,0.78)" stroke-width="2.0"/>
<circle cx="943.8" cy="1502.6" r="3.0" fill="rgba(190,190,190,0.32)" stroke="rgba(188,188,188,0.78)" stroke-width="2.0"/>
<circle cx="920.0" cy="1499.8" r="3.0" fill="rgba(190,190,190,0.32)" stroke="rgba(188,188,188,0.78)" stroke-width="2.0"/>
<circle cx="892.6" cy="1522.0" r="3.0" fill="rgba(190,190,190,0.32)" stroke="rgba(188,188,188,0.78)" stroke-width="2.0"/>
<circle cx="929.8" cy="1501.9" r="3.0" fill="rgba(190,190,190,0.32)" stroke="rgba(188,188,188,0.78)" stroke-width="2.0"/>
<circle cx="885.5" cy="1498.1" r="3.0" fill="rgba(190,190,190,0.32)" stroke="rgba(188,188,188,0.78)" stroke-width="2.0"/>
<circle cx="922.6" cy="1512.3" r="3.0" fill="rgba(190,190,190,0.32)" stroke="rgba(188,188,188,0.78)" stroke-width="2.0"/>
<circle cx="899.2" cy="1502.2" r="3.0" fill="rgba(190,190,190,0.32)" stroke="rgba(188,188,188,0.78)" stroke-width="2.0"/>
<circle cx="922.9" cy="1519.8" r="3.0" fill="rgba(190,190,190,0.32)" stroke="rgba(188,188,188,0.78)" stroke-width="2.0"/>
<circle cx="936.8" cy="1515.4" r="3.0" fill="rgba(190,190,190,0.32)" stroke="rgba(188,188,188,0.78)" stroke-width="2.0"/>
<circle cx="894.2" cy="1497.3" r="3.0" fill="rgba(190,190,190,0.32)" stroke="rgba(188,188,188,0.78)" stroke-width="2.0"/>
<circle cx="931.3" cy="1509.3" r="3.0" fill="rgba(190,190,190,0.32)" stroke="rgba(188,188,188,0.78)" stroke-width="2.0"/>
<circle cx="930.5" cy="1496.9" r="3.0" fill="rgba(190,190,190,0.32)" stroke="rgba(188,188,188,0.78)" stroke-width="2.0"/>
<circle cx="936.7" cy="1506.7" r="3.0" fill="rgba(190,190,190,0.32)" stroke="rgba(188,188,188,0.78)" stroke-width="2.0"/>
<circle cx="938.9" cy="1525.3" r="3.0" fill="rgba(190,190,190,0.32)" stroke="rgba(188,188,188,0.78)" stroke-width="2.0"/>
<circle cx="914.5" cy="1495.5" r="3.0" fill="rgba(190,190,190,0.32)" stroke="rgba(188,188,188,0.78)" stroke-width="2.0"/>
<circle cx="943.7" cy="1511.7" r="3.0" fill="rgba(190,190,190,0.32)" stroke="rgba(188,188,188,0.78)" stroke-width="2.0"/>
<circle cx="941.0" cy="1504.3" r="3.0" fill="rgba(190,190,190,0.32)" stroke="rgba(188,188,188,0.78)" stroke-width="2.0"/>
<circle cx="893.0" cy="1524.1" r="3.0" fill="rgba(190,190,190,0.32)" stroke="rgba(188,188,188,0.78)" stroke-width="2.0"/>
<circle cx="905.7" cy="1500.7" r="3.0" fill="rgba(190,190,190,0.32)" stroke="rgba(188,188,188,0.78)" stroke-width="2.0"/>
<circle cx="906.0" cy="1515.8" r="3.0" fill="rgba(190,190,190,0.32)" stroke="rgba(188,188,188,0.78)" stroke-width="2.0"/>
<circle cx="880.3" cy="1513.2" r="3.0" fill="rgba(190,190,190,0.32)" stroke="rgba(188,188,188,0.78)" stroke-width="2.0"/>
<circle cx="911.2" cy="1513.0" r="3.0" fill="rgba(190,190,190,0.32)" stroke="rgba(188,188,188,0.78)" stroke-width="2.0"/>
<circle cx="888.5" cy="1520.0" r="3.0" fill="rgba(190,190,190,0.32)" stroke="rgba(188,188,188,0.78)" stroke-width="2.0"/>
<circle cx="937.2" cy="1525.3" r="3.0" fill="rgba(190,190,190,0.32)" stroke="rgba(188,188,188,0.78)" stroke-width="2.0"/>
<circle cx="902.5" cy="1519.9" r="3.0" fill="rgba(190,190,190,0.32)" stroke="rgba(188,188,188,0.78)" stroke-width="2.0"/>
<circle cx="906.7" cy="1521.3" r="3.0" fill="rgba(190,190,190,0.32)" stroke="rgba(188,188,188,0.78)" stroke-width="2.0"/>
<circle cx="884.3" cy="1525.5" r="3.0" fill="rgba(190,190,190,0.32)" stroke="rgba(188,188,188,0.78)" stroke-width="2.0"/>
<circle cx="946.8" cy="1512.3" r="3.0" fill="rgba(190,190,190,0.32)" stroke="rgba(188,188,188,0.78)" stroke-width="2.0"/>
<circle cx="915.9" cy="1513.6" r="3.0" fill="rgba(190,190,190,0.32)" stroke="rgba(188,188,188,0.78)" stroke-width="2.0"/>
<circle cx="917.6" cy="1495.7" r="3.0" fill="rgba(190,190,190,0.32)" stroke="rgba(188,188,188,0.78)" stroke-width="2.0"/>
<circle cx="947.7" cy="1502.8" r="3.0" fill="rgba(190,190,190,0.32)" stroke="rgba(188,188,188,0.78)" stroke-width="2.0"/>
<circle cx="892.8" cy="1498.6" r="3.0" fill="rgba(190,190,190,0.32)" stroke="rgba(188,188,188,0.78)" stroke-width="2.0"/>
<circle cx="897.5" cy="1523.6" r="3.0" fill="rgba(190,190,190,0.32)" stroke="rgba(188,188,188,0.78)" stroke-width="2.0"/>
<circle cx="882.1" cy="1498.4" r="3.0" fill="rgba(190,190,190,0.32)" stroke="rgba(188,188,188,0.78)" stroke-width="2.0"/>
<circle cx="928.9" cy="1501.8" r="3.0" fill="rgba(190,190,190,0.32)" stroke="rgba(188,188,188,0.78)" stroke-width="2.0"/>
<circle cx="881.2" cy="1516.0" r="3.0" fill="rgba(190,190,190,0.32)" stroke="rgba(188,188,188,0.78)" stroke-width="2.0"/>
<circle cx="920.4" cy="1513.3" r="3.0" fill="rgba(190,190,190,0.32)" stroke="rgba(188,188,188,0.78)" stroke-width="2.0"/>
<circle cx="929.2" cy="1498.6" r="3.0" fill="rgba(190,190,190,0.32)" stroke="rgba(188,188,188,0.78)" stroke-width="2.0"/>
<circle cx="940.9" cy="1520.1" r="3.0" fill="rgba(190,190,190,0.32)" stroke="rgba(188,188,188,0.78)" stroke-width="2.0"/>
<circle cx="883.2" cy="1499.3" r="3.0" fill="rgba(190,190,190,0.32)" stroke="rgba(188,188,188,0.78)" stroke-width="2.0"/>
<circle cx="914.6" cy="1512.5" r="3.0" fill="rgba(190,190,190,0.32)" stroke="rgba(188,188,188,0.78)" stroke-width="2.0"/>
<circle cx="954.6" cy="1511.0" r="3.0" fill="rgba(190,190,190,0.32)" stroke="rgba(188,188,188,0.78)" stroke-width="2.0"/>
<circle cx="963.4" cy="1512.3" r="3.0" fill="rgba(190,190,190,0.32)" stroke="rgba(188,188,188,0.78)" stroke-width="2.0"/>
<circle cx="976.4" cy="1577.5" r="3.0" fill="rgba(190,190,190,0.32)" stroke="rgba(188,188,188,0.78)" stroke-width="2.0"/>
<circle cx="945.3" cy="1551.6" r="3.0" fill="rgba(190,190,190,0.32)" stroke="rgba(188,188,188,0.78)" stroke-width="2.0"/>
<circle cx="987.3" cy="1514.8" r="3.0" fill="rgba(190,190,190,0.32)" stroke="rgba(188,188,188,0.78)" stroke-width="2.0"/>
<circle cx="992.8" cy="1584.4" r="3.0" fill="rgba(190,190,190,0.32)" stroke="rgba(188,188,188,0.78)" stroke-width="2.0"/>
<circle cx="962.2" cy="1537.8" r="3.0" fill="rgba(190,190,190,0.32)" stroke="rgba(188,188,188,0.78)" stroke-width="2.0"/>
<circle cx="993.8" cy="1547.3" r="3.0" fill="rgba(190,190,190,0.32)" stroke="rgba(188,188,188,0.78)" stroke-width="2.0"/>
<circle cx="962.7" cy="1584.7" r="3.0" fill="rgba(190,190,190,0.32)" stroke="rgba(188,188,188,0.78)" stroke-width="2.0"/>
<circle cx="989.4" cy="1530.5" r="3.0" fill="rgba(190,190,190,0.32)" stroke="rgba(188,188,188,0.78)" stroke-width="2.0"/>
<circle cx="951.8" cy="1530.2" r="3.0" fill="rgba(190,190,190,0.32)" stroke="rgba(188,188,188,0.78)" stroke-width="2.0"/>
<circle cx="965.5" cy="1588.3" r="3.0" fill="rgba(190,190,190,0.32)" stroke="rgba(188,188,188,0.78)" stroke-width="2.0"/>
<circle cx="991.3" cy="1582.1" r="3.0" fill="rgba(190,190,190,0.32)" stroke="rgba(188,188,188,0.78)" stroke-width="2.0"/>
<circle cx="992.1" cy="1576.3" r="3.0" fill="rgba(190,190,190,0.32)" stroke="rgba(188,188,188,0.78)" stroke-width="2.0"/>
<circle cx="938.7" cy="1546.6" r="3.0" fill="rgba(190,190,190,0.32)" stroke="rgba(188,188,188,0.78)" stroke-width="2.0"/>
<circle cx="1002.1" cy="1584.1" r="3.0" fill="rgba(190,190,190,0.32)" stroke="rgba(188,188,188,0.78)" stroke-width="2.0"/>
<circle cx="952.4" cy="1538.0" r="3.0" fill="rgba(190,190,190,0.32)" stroke="rgba(188,188,188,0.78)" stroke-width="2.0"/>
<circle cx="979.3" cy="1532.8" r="3.0" fill="rgba(190,190,190,0.32)" stroke="rgba(188,188,188,0.78)" stroke-width="2.0"/>
<circle cx="972.2" cy="1506.2" r="3.0" fill="rgba(190,190,190,0.32)" stroke="rgba(188,188,188,0.78)" stroke-width="2.0"/>
<circle cx="965.3" cy="1545.4" r="3.0" fill="rgba(190,190,190,0.32)" stroke="rgba(188,188,188,0.78)" stroke-width="2.0"/>
<circle cx="936.5" cy="1512.5" r="3.0" fill="rgba(190,190,190,0.32)" stroke="rgba(188,188,188,0.78)" stroke-width="2.0"/>
<circle cx="1002.9" cy="1569.9" r="3.0" fill="rgba(190,190,190,0.32)" stroke="rgba(188,188,188,0.78)" stroke-width="2.0"/>
<circle cx="1000.6" cy="1557.0" r="3.0" fill="rgba(190,190,190,0.32)" stroke="rgba(188,188,188,0.78)" stroke-width="2.0"/>
<circle cx="991.6" cy="1579.6" r="3.0" fill="rgba(190,190,190,0.32)" stroke="rgba(188,188,188,0.78)" stroke-width="2.0"/>
<circle cx="996.9" cy="1503.1" r="3.0" fill="rgba(190,190,190,0.32)" stroke="rgba(188,188,188,0.78)" stroke-width="2.0"/>
<circle cx="979.9" cy="1523.9" r="3.0" fill="rgba(190,190,190,0.32)" stroke="rgba(188,188,188,0.78)" stroke-width="2.0"/>
<circle cx="982.5" cy="1524.6" r="3.0" fill="rgba(190,190,190,0.32)" stroke="rgba(188,188,188,0.78)" stroke-width="2.0"/>
<circle cx="973.0" cy="1583.2" r="3.0" fill="rgba(190,190,190,0.32)" stroke="rgba(188,188,188,0.78)" stroke-width="2.0"/>
<circle cx="978.5" cy="1522.6" r="3.0" fill="rgba(190,190,190,0.32)" stroke="rgba(188,188,188,0.78)" stroke-width="2.0"/>
<circle cx="971.4" cy="1539.0" r="3.0" fill="rgba(190,190,190,0.32)" stroke="rgba(188,188,188,0.78)" stroke-width="2.0"/>
<circle cx="1001.6" cy="1525.9" r="3.0" fill="rgba(190,190,190,0.32)" stroke="rgba(188,188,188,0.78)" stroke-width="2.0"/>
<circle cx="956.4" cy="1558.3" r="3.0" fill="rgba(190,190,190,0.32)" stroke="rgba(188,188,188,0.78)" stroke-width="2.0"/>
<circle cx="943.4" cy="1553.5" r="3.0" fill="rgba(190,190,190,0.32)" stroke="rgba(188,188,188,0.78)" stroke-width="2.0"/>
<circle cx="1001.9" cy="1546.2" r="3.0" fill="rgba(190,190,190,0.32)" stroke="rgba(188,188,188,0.78)" stroke-width="2.0"/>
<circle cx="953.8" cy="1542.0" r="3.0" fill="rgba(190,190,190,0.32)" stroke="rgba(188,188,188,0.78)" stroke-width="2.0"/>
<circle cx="972.4" cy="1513.4" r="3.0" fill="rgba(190,190,190,0.32)" stroke="rgba(188,188,188,0.78)" stroke-width="2.0"/>
<circle cx="943.7" cy="1511.8" r="3.0" fill="rgba(190,190,190,0.32)" stroke="rgba(188,188,188,0.78)" stroke-width="2.0"/>
<circle cx="955.6" cy="1536.6" r="3.0" fill="rgba(190,190,190,0.32)" stroke="rgba(188,188,188,0.78)" stroke-width="2.0"/>
<circle cx="955.2" cy="1521.9" r="3.0" fill="rgba(190,190,190,0.32)" stroke="rgba(188,188,188,0.78)" stroke-width="2.0"/>
<circle cx="941.1" cy="1549.2" r="3.0" fill="rgba(190,190,190,0.32)" stroke="rgba(188,188,188,0.78)" stroke-width="2.0"/>
<circle cx="1040.4" cy="1487.1" r="3.0" fill="rgba(190,190,190,0.32)" stroke="rgba(188,188,188,0.78)" stroke-width="2.0"/>
<circle cx="1024.2" cy="1491.5" r="3.0" fill="rgba(190,190,190,0.32)" stroke="rgba(188,188,188,0.78)" stroke-width="2.0"/>
<circle cx="1002.1" cy="1498.1" r="3.0" fill="rgba(190,190,190,0.32)" stroke="rgba(188,188,188,0.78)" stroke-width="2.0"/>
<circle cx="1017.7" cy="1480.3" r="3.0" fill="rgba(190,190,190,0.32)" stroke="rgba(188,188,188,0.78)" stroke-width="2.0"/>
<circle cx="1026.8" cy="1471.6" r="3.0" fill="rgba(190,190,190,0.32)" stroke="rgba(188,188,188,0.78)" stroke-width="2.0"/>
<circle cx="1008.6" cy="1446.6" r="3.0" fill="rgba(190,190,190,0.32)" stroke="rgba(188,188,188,0.78)" stroke-width="2.0"/>
<circle cx="1003.3" cy="1476.4" r="3.0" fill="rgba(190,190,190,0.32)" stroke="rgba(188,188,188,0.78)" stroke-width="2.0"/>
<circle cx="1013.0" cy="1484.4" r="3.0" fill="rgba(190,190,190,0.32)" stroke="rgba(188,188,188,0.78)" stroke-width="2.0"/>
<circle cx="990.7" cy="1458.8" r="3.0" fill="rgba(190,190,190,0.32)" stroke="rgba(188,188,188,0.78)" stroke-width="2.0"/>
<circle cx="1041.7" cy="1446.2" r="3.0" fill="rgba(190,190,190,0.32)" stroke="rgba(188,188,188,0.78)" stroke-width="2.0"/>
<circle cx="1023.4" cy="1474.1" r="3.0" fill="rgba(190,190,190,0.32)" stroke="rgba(188,188,188,0.78)" stroke-width="2.0"/>
<circle cx="1007.1" cy="1528.6" r="3.0" fill="rgba(190,190,190,0.32)" stroke="rgba(188,188,188,0.78)" stroke-width="2.0"/>
<circle cx="1007.7" cy="1504.9" r="3.0" fill="rgba(190,190,190,0.32)" stroke="rgba(188,188,188,0.78)" stroke-width="2.0"/>
<circle cx="999.5" cy="1427.3" r="3.0" fill="rgba(190,190,190,0.32)" stroke="rgba(188,188,188,0.78)" stroke-width="2.0"/>
<circle cx="1042.3" cy="1468.4" r="3.0" fill="rgba(190,190,190,0.32)" stroke="rgba(188,188,188,0.78)" stroke-width="2.0"/>
<circle cx="993.7" cy="1462.7" r="3.0" fill="rgba(190,190,190,0.32)" stroke="rgba(188,188,188,0.78)" stroke-width="2.0"/>
<circle cx="1016.4" cy="1500.9" r="3.0" fill="rgba(190,190,190,0.32)" stroke="rgba(188,188,188,0.78)" stroke-width="2.0"/>
<circle cx="996.6" cy="1444.8" r="3.0" fill="rgba(190,190,190,0.32)" stroke="rgba(188,188,188,0.78)" stroke-width="2.0"/>
<circle cx="1047.6" cy="1501.3" r="3.0" fill="rgba(190,190,190,0.32)" stroke="rgba(188,188,188,0.78)" stroke-width="2.0"/>
<circle cx="999.3" cy="1457.1" r="3.0" fill="rgba(190,190,190,0.32)" stroke="rgba(188,188,188,0.78)" stroke-width="2.0"/>
<circle cx="1011.1" cy="1494.3" r="3.0" fill="rgba(190,190,190,0.32)" stroke="rgba(188,188,188,0.78)" stroke-width="2.0"/>
<circle cx="1027.0" cy="1513.5" r="3.0" fill="rgba(190,190,190,0.32)" stroke="rgba(188,188,188,0.78)" stroke-width="2.0"/>
<circle cx="1039.3" cy="1477.0" r="3.0" fill="rgba(190,190,190,0.32)" stroke="rgba(188,188,188,0.78)" stroke-width="2.0"/>
<circle cx="1034.3" cy="1501.8" r="3.0" fill="rgba(190,190,190,0.32)" stroke="rgba(188,188,188,0.78)" stroke-width="2.0"/>
<circle cx="1035.6" cy="1472.3" r="3.0" fill="rgba(190,190,190,0.32)" stroke="rgba(188,188,188,0.78)" stroke-width="2.0"/>
<circle cx="1037.1" cy="1497.9" r="3.0" fill="rgba(190,190,190,0.32)" stroke="rgba(188,188,188,0.78)" stroke-width="2.0"/>
<circle cx="1044.9" cy="1434.0" r="3.0" fill="rgba(190,190,190,0.32)" stroke="rgba(188,188,188,0.78)" stroke-width="2.0"/>
<circle cx="1042.2" cy="1420.5" r="3.0" fill="rgba(190,190,190,0.32)" stroke="rgba(188,188,188,0.78)" stroke-width="2.0"/>
<circle cx="1035.9" cy="1484.4" r="3.0" fill="rgba(190,190,190,0.32)" stroke="rgba(188,188,188,0.78)" stroke-width="2.0"/>
<circle cx="1019.9" cy="1525.9" r="3.0" fill="rgba(190,190,190,0.32)" stroke="rgba(188,188,188,0.78)" stroke-width="2.0"/>
<circle cx="1024.3" cy="1466.0" r="3.0" fill="rgba(190,190,190,0.32)" stroke="rgba(188,188,188,0.78)" stroke-width="2.0"/>
<circle cx="1037.0" cy="1516.0" r="3.0" fill="rgba(190,190,190,0.32)" stroke="rgba(188,188,188,0.78)" stroke-width="2.0"/>
<circle cx="1026.4" cy="1461.8" r="3.0" fill="rgba(190,190,190,0.32)" stroke="rgba(188,188,188,0.78)" stroke-width="2.0"/>
<circle cx="1017.1" cy="1470.4" r="3.0" fill="rgba(190,190,190,0.32)" stroke="rgba(188,188,188,0.78)" stroke-width="2.0"/>
<circle cx="1033.4" cy="1452.2" r="3.0" fill="rgba(190,190,190,0.32)" stroke="rgba(188,188,188,0.78)" stroke-width="2.0"/>
<circle cx="1013.4" cy="1481.1" r="3.0" fill="rgba(190,190,190,0.32)" stroke="rgba(188,188,188,0.78)" stroke-width="2.0"/>
<circle cx="1013.1" cy="1455.4" r="3.0" fill="rgba(190,190,190,0.32)" stroke="rgba(188,188,188,0.78)" stroke-width="2.0"/>
<circle cx="1037.2" cy="1513.5" r="3.0" fill="rgba(190,190,190,0.32)" stroke="rgba(188,188,188,0.78)" stroke-width="2.0"/>
<circle cx="1020.0" cy="1468.8" r="3.0" fill="rgba(190,190,190,0.32)" stroke="rgba(188,188,188,0.78)" stroke-width="2.0"/>
<circle cx="1001.1" cy="1453.4" r="3.0" fill="rgba(190,190,190,0.32)" stroke="rgba(188,188,188,0.78)" stroke-width="2.0"/>
<ellipse cx="976.8" cy="1280.0" rx="3.9" ry="4.2" fill="rgba(0,0,0,0.72)" stroke="rgba(0,0,0,0.72)" stroke-width="2.6"/>
<ellipse cx="935.1" cy="1367.8" rx="3.9" ry="4.2" fill="rgba(0,0,0,0.72)" stroke="rgba(0,0,0,0.72)" stroke-width="2.6"/>
<ellipse cx="1001.5" cy="1354.2" rx="3.9" ry="4.2" fill="rgba(0,0,0,0.72)" stroke="rgba(0,0,0,0.72)" stroke-width="2.6"/>
<ellipse cx="1041.0" cy="1370.0" rx="3.9" ry="4.2" fill="rgba(0,0,0,0.72)" stroke="rgba(0,0,0,0.72)" stroke-width="2.6"/>
<ellipse cx="1045.8" cy="1401.0" rx="3.9" ry="4.2" fill="rgba(0,0,0,0.72)" stroke="rgba(0,0,0,0.72)" stroke-width="2.6"/>
<ellipse cx="935.9" cy="1421.3" rx="3.9" ry="4.2" fill="rgba(0,0,0,0.72)" stroke="rgba(0,0,0,0.72)" stroke-width="2.6"/>
<ellipse cx="1106.6" cy="1444.9" rx="3.9" ry="4.2" fill="rgba(0,0,0,0.72)" stroke="rgba(0,0,0,0.72)" stroke-width="2.6"/>
<ellipse cx="980.5" cy="1425.7" rx="3.9" ry="4.2" fill="rgba(0,0,0,0.72)" stroke="rgba(0,0,0,0.72)" stroke-width="2.6"/>
<ellipse cx="999.7" cy="1425.0" rx="3.9" ry="4.2" fill="rgba(0,0,0,0.72)" stroke="rgba(0,0,0,0.72)" stroke-width="2.6"/>
<ellipse cx="1009.6" cy="1428.7" rx="3.9" ry="4.2" fill="rgba(0,0,0,0.72)" stroke="rgba(0,0,0,0.72)" stroke-width="2.6"/>
<ellipse cx="1027.3" cy="1428.7" rx="3.9" ry="4.2" fill="rgba(0,0,0,0.72)" stroke="rgba(0,0,0,0.72)" stroke-width="2.6"/>
<ellipse cx="1026.6" cy="1445.3" rx="3.9" ry="4.2" fill="rgba(0,0,0,0.72)" stroke="rgba(0,0,0,0.72)" stroke-width="2.6"/>
<ellipse cx="1014.5" cy="1441.6" rx="3.9" ry="4.2" fill="rgba(0,0,0,0.72)" stroke="rgba(0,0,0,0.72)" stroke-width="2.6"/>
<ellipse cx="1011.9" cy="1449.7" rx="3.9" ry="4.2" fill="rgba(0,0,0,0.72)" stroke="rgba(0,0,0,0.72)" stroke-width="2.6"/>
<ellipse cx="1000.8" cy="1454.5" rx="3.9" ry="4.2" fill="rgba(0,0,0,0.72)" stroke="rgba(0,0,0,0.72)" stroke-width="2.6"/>
<ellipse cx="1013.7" cy="1461.9" rx="3.9" ry="4.2" fill="rgba(0,0,0,0.72)" stroke="rgba(0,0,0,0.72)" stroke-width="2.6"/>
<ellipse cx="1022.9" cy="1469.2" rx="3.9" ry="4.2" fill="rgba(0,0,0,0.72)" stroke="rgba(0,0,0,0.72)" stroke-width="2.6"/>
<ellipse cx="1020.7" cy="1480.3" rx="3.9" ry="4.2" fill="rgba(0,0,0,0.72)" stroke="rgba(0,0,0,0.72)" stroke-width="2.6"/>
<ellipse cx="974.6" cy="1436.0" rx="3.9" ry="4.2" fill="rgba(0,0,0,0.72)" stroke="rgba(0,0,0,0.72)" stroke-width="2.6"/>
<ellipse cx="930.7" cy="1454.5" rx="3.9" ry="4.2" fill="rgba(0,0,0,0.72)" stroke="rgba(0,0,0,0.72)" stroke-width="2.6"/>
<ellipse cx="942.5" cy="1449.0" rx="3.9" ry="4.2" fill="rgba(0,0,0,0.72)" stroke="rgba(0,0,0,0.72)" stroke-width="2.6"/>
<ellipse cx="927.8" cy="1464.8" rx="3.9" ry="4.2" fill="rgba(0,0,0,0.72)" stroke="rgba(0,0,0,0.72)" stroke-width="2.6"/>
<ellipse cx="942.5" cy="1461.1" rx="3.9" ry="4.2" fill="rgba(0,0,0,0.72)" stroke="rgba(0,0,0,0.72)" stroke-width="2.6"/>
<ellipse cx="938.8" cy="1473.0" rx="3.9" ry="4.2" fill="rgba(0,0,0,0.72)" stroke="rgba(0,0,0,0.72)" stroke-width="2.6"/>
<ellipse cx="945.5" cy="1473.7" rx="3.9" ry="4.2" fill="rgba(0,0,0,0.72)" stroke="rgba(0,0,0,0.72)" stroke-width="2.6"/>
<ellipse cx="909.3" cy="1473.7" rx="3.9" ry="4.2" fill="rgba(0,0,0,0.72)" stroke="rgba(0,0,0,0.72)" stroke-width="2.6"/>
<ellipse cx="913.8" cy="1477.4" rx="3.9" ry="4.2" fill="rgba(0,0,0,0.72)" stroke="rgba(0,0,0,0.72)" stroke-width="2.6"/>
<ellipse cx="929.6" cy="1481.1" rx="3.9" ry="4.2" fill="rgba(0,0,0,0.72)" stroke="rgba(0,0,0,0.72)" stroke-width="2.6"/>
<ellipse cx="933.3" cy="1484.7" rx="3.9" ry="4.2" fill="rgba(0,0,0,0.72)" stroke="rgba(0,0,0,0.72)" stroke-width="2.6"/>
<ellipse cx="890.2" cy="1508.0" rx="3.9" ry="4.2" fill="rgba(0,0,0,0.72)" stroke="rgba(0,0,0,0.72)" stroke-width="2.6"/>
<ellipse cx="904.9" cy="1520.9" rx="3.9" ry="4.2" fill="rgba(0,0,0,0.72)" stroke="rgba(0,0,0,0.72)" stroke-width="2.6"/>
<ellipse cx="913.0" cy="1528.3" rx="3.9" ry="4.2" fill="rgba(0,0,0,0.72)" stroke="rgba(0,0,0,0.72)" stroke-width="2.6"/>
<ellipse cx="911.2" cy="1538.6" rx="3.9" ry="4.2" fill="rgba(0,0,0,0.72)" stroke="rgba(0,0,0,0.72)" stroke-width="2.6"/>
<ellipse cx="888.0" cy="1542.3" rx="3.9" ry="4.2" fill="rgba(0,0,0,0.72)" stroke="rgba(0,0,0,0.72)" stroke-width="2.6"/>
<ellipse cx="868.0" cy="1552.2" rx="3.9" ry="4.2" fill="rgba(0,0,0,0.72)" stroke="rgba(0,0,0,0.72)" stroke-width="2.6"/>
<ellipse cx="870.6" cy="1560.0" rx="3.9" ry="4.2" fill="rgba(0,0,0,0.72)" stroke="rgba(0,0,0,0.72)" stroke-width="2.6"/>
<ellipse cx="918.6" cy="1562.2" rx="3.9" ry="4.2" fill="rgba(0,0,0,0.72)" stroke="rgba(0,0,0,0.72)" stroke-width="2.6"/>
<ellipse cx="926.7" cy="1566.2" rx="3.9" ry="4.2" fill="rgba(0,0,0,0.72)" stroke="rgba(0,0,0,0.72)" stroke-width="2.6"/>
<ellipse cx="824.5" cy="1604.6" rx="3.9" ry="4.2" fill="rgba(0,0,0,0.72)" stroke="rgba(0,0,0,0.72)" stroke-width="2.6"/>
<ellipse cx="925.2" cy="1642.6" rx="3.9" ry="4.2" fill="rgba(0,0,0,0.72)" stroke="rgba(0,0,0,0.72)" stroke-width="2.6"/>
<ellipse cx="999.7" cy="1527.5" rx="3.9" ry="4.2" fill="rgba(0,0,0,0.72)" stroke="rgba(0,0,0,0.72)" stroke-width="2.6"/>
<ellipse cx="976.8" cy="1526.4" rx="3.9" ry="4.2" fill="rgba(0,0,0,0.72)" stroke="rgba(0,0,0,0.72)" stroke-width="2.6"/>
<ellipse cx="997.9" cy="1506.1" rx="3.9" ry="4.2" fill="rgba(0,0,0,0.72)" stroke="rgba(0,0,0,0.72)" stroke-width="2.6"/>
<ellipse cx="1001.5" cy="1487.0" rx="3.9" ry="4.2" fill="rgba(0,0,0,0.72)" stroke="rgba(0,0,0,0.72)" stroke-width="2.6"/>
<ellipse cx="999.0" cy="1506.0" rx="3.9" ry="4.2" fill="rgba(0,0,0,0.72)" stroke="rgba(0,0,0,0.72)" stroke-width="2.6"/>
<ellipse cx="1000.0" cy="1510.0" rx="3.9" ry="4.2" fill="rgba(0,0,0,0.72)" stroke="rgba(0,0,0,0.72)" stroke-width="2.6"/>
<ellipse cx="921.0" cy="1549.0" rx="3.9" ry="4.2" fill="rgba(0,0,0,0.72)" stroke="rgba(0,0,0,0.72)" stroke-width="2.6"/>
<ellipse cx="929.0" cy="1549.0" rx="3.9" ry="4.2" fill="rgba(0,0,0,0.72)" stroke="rgba(0,0,0,0.72)" stroke-width="2.6"/>
<ellipse cx="943.5" cy="1545.5" rx="3.9" ry="4.2" fill="rgba(0,0,0,0.72)" stroke="rgba(0,0,0,0.72)" stroke-width="2.6"/>
<ellipse cx="910.0" cy="1529.0" rx="3.9" ry="4.2" fill="rgba(0,0,0,0.72)" stroke="rgba(0,0,0,0.72)" stroke-width="2.6"/>
<ellipse cx="921.5" cy="1526.8" rx="3.9" ry="4.2" fill="rgba(0,0,0,0.72)" stroke="rgba(0,0,0,0.72)" stroke-width="2.6"/>
<ellipse cx="941.2" cy="1499.0" rx="3.9" ry="4.2" fill="rgba(0,0,0,0.72)" stroke="rgba(0,0,0,0.72)" stroke-width="2.6"/>
<ellipse cx="940.4" cy="1522.3" rx="3.9" ry="4.2" fill="rgba(0,0,0,0.72)" stroke="rgba(0,0,0,0.72)" stroke-width="2.6"/>
<ellipse cx="938.3" cy="1523.5" rx="3.9" ry="4.2" fill="rgba(0,0,0,0.72)" stroke="rgba(0,0,0,0.72)" stroke-width="2.6"/>
<ellipse cx="945.8" cy="1516.2" rx="3.9" ry="4.2" fill="rgba(0,0,0,0.72)" stroke="rgba(0,0,0,0.72)" stroke-width="2.6"/>
<ellipse cx="945.4" cy="1523.9" rx="3.9" ry="4.2" fill="rgba(0,0,0,0.72)" stroke="rgba(0,0,0,0.72)" stroke-width="2.6"/>
<ellipse cx="919.5" cy="1515.3" rx="3.9" ry="4.2" fill="rgba(0,0,0,0.72)" stroke="rgba(0,0,0,0.72)" stroke-width="2.6"/>
<ellipse cx="934.8" cy="1529.6" rx="3.9" ry="4.2" fill="rgba(0,0,0,0.72)" stroke="rgba(0,0,0,0.72)" stroke-width="2.6"/>
<ellipse cx="938.9" cy="1540.5" rx="3.9" ry="4.2" fill="rgba(0,0,0,0.72)" stroke="rgba(0,0,0,0.72)" stroke-width="2.6"/>
<ellipse cx="922.7" cy="1512.1" rx="3.9" ry="4.2" fill="rgba(0,0,0,0.72)" stroke="rgba(0,0,0,0.72)" stroke-width="2.6"/>
<ellipse cx="938.1" cy="1500.3" rx="3.9" ry="4.2" fill="rgba(0,0,0,0.72)" stroke="rgba(0,0,0,0.72)" stroke-width="2.6"/>
<ellipse cx="922.0" cy="1510.5" rx="3.9" ry="4.2" fill="rgba(0,0,0,0.72)" stroke="rgba(0,0,0,0.72)" stroke-width="2.6"/>
<ellipse cx="938.0" cy="1522.8" rx="3.9" ry="4.2" fill="rgba(0,0,0,0.72)" stroke="rgba(0,0,0,0.72)" stroke-width="2.6"/>
<ellipse cx="923.5" cy="1504.4" rx="3.9" ry="4.2" fill="rgba(0,0,0,0.72)" stroke="rgba(0,0,0,0.72)" stroke-width="2.6"/>
<ellipse cx="943.4" cy="1528.4" rx="3.9" ry="4.2" fill="rgba(0,0,0,0.72)" stroke="rgba(0,0,0,0.72)" stroke-width="2.6"/>
<ellipse cx="928.8" cy="1533.4" rx="3.9" ry="4.2" fill="rgba(0,0,0,0.72)" stroke="rgba(0,0,0,0.72)" stroke-width="2.6"/>
<ellipse cx="945.1" cy="1505.2" rx="3.9" ry="4.2" fill="rgba(0,0,0,0.72)" stroke="rgba(0,0,0,0.72)" stroke-width="2.6"/>
<ellipse cx="937.4" cy="1525.5" rx="3.9" ry="4.2" fill="rgba(0,0,0,0.72)" stroke="rgba(0,0,0,0.72)" stroke-width="2.6"/>
<ellipse cx="927.0" cy="1530.9" rx="3.9" ry="4.2" fill="rgba(0,0,0,0.72)" stroke="rgba(0,0,0,0.72)" stroke-width="2.6"/>
<ellipse cx="940.9" cy="1517.4" rx="3.9" ry="4.2" fill="rgba(0,0,0,0.72)" stroke="rgba(0,0,0,0.72)" stroke-width="2.6"/>
<ellipse cx="920.5" cy="1502.9" rx="3.9" ry="4.2" fill="rgba(0,0,0,0.72)" stroke="rgba(0,0,0,0.72)" stroke-width="2.6"/>
<ellipse cx="949.2" cy="1500.1" rx="3.9" ry="4.2" fill="rgba(0,0,0,0.72)" stroke="rgba(0,0,0,0.72)" stroke-width="2.6"/>
<ellipse cx="919.5" cy="1503.7" rx="3.9" ry="4.2" fill="rgba(0,0,0,0.72)" stroke="rgba(0,0,0,0.72)" stroke-width="2.6"/>
<ellipse cx="938.5" cy="1540.9" rx="3.9" ry="4.2" fill="rgba(0,0,0,0.72)" stroke="rgba(0,0,0,0.72)" stroke-width="2.6"/>
<ellipse cx="942.6" cy="1540.0" rx="3.9" ry="4.2" fill="rgba(0,0,0,0.72)" stroke="rgba(0,0,0,0.72)" stroke-width="2.6"/>
<ellipse cx="949.7" cy="1512.4" rx="3.9" ry="4.2" fill="rgba(0,0,0,0.72)" stroke="rgba(0,0,0,0.72)" stroke-width="2.6"/>
<ellipse cx="947.2" cy="1514.2" rx="3.9" ry="4.2" fill="rgba(0,0,0,0.72)" stroke="rgba(0,0,0,0.72)" stroke-width="2.6"/>
<ellipse cx="922.6" cy="1509.2" rx="3.9" ry="4.2" fill="rgba(0,0,0,0.72)" stroke="rgba(0,0,0,0.72)" stroke-width="2.6"/>
<ellipse cx="919.5" cy="1545.5" rx="3.9" ry="4.2" fill="rgba(0,0,0,0.72)" stroke="rgba(0,0,0,0.72)" stroke-width="2.6"/>
<ellipse cx="941.2" cy="1513.9" rx="3.9" ry="4.2" fill="rgba(0,0,0,0.72)" stroke="rgba(0,0,0,0.72)" stroke-width="2.6"/>
<ellipse cx="935.2" cy="1516.0" rx="3.9" ry="4.2" fill="rgba(0,0,0,0.72)" stroke="rgba(0,0,0,0.72)" stroke-width="2.6"/>
<ellipse cx="934.8" cy="1529.4" rx="3.9" ry="4.2" fill="rgba(0,0,0,0.72)" stroke="rgba(0,0,0,0.72)" stroke-width="2.6"/>
<ellipse cx="929.2" cy="1545.2" rx="3.9" ry="4.2" fill="rgba(0,0,0,0.72)" stroke="rgba(0,0,0,0.72)" stroke-width="2.6"/>
<ellipse cx="951.7" cy="1511.3" rx="3.9" ry="4.2" fill="rgba(0,0,0,0.72)" stroke="rgba(0,0,0,0.72)" stroke-width="2.6"/>
<ellipse cx="925.9" cy="1516.2" rx="3.9" ry="4.2" fill="rgba(0,0,0,0.72)" stroke="rgba(0,0,0,0.72)" stroke-width="2.6"/>
<ellipse cx="947.3" cy="1506.6" rx="3.9" ry="4.2" fill="rgba(0,0,0,0.72)" stroke="rgba(0,0,0,0.72)" stroke-width="2.6"/>
<ellipse cx="928.9" cy="1543.9" rx="3.9" ry="4.2" fill="rgba(0,0,0,0.72)" stroke="rgba(0,0,0,0.72)" stroke-width="2.6"/>
<ellipse cx="936.8" cy="1539.2" rx="3.9" ry="4.2" fill="rgba(0,0,0,0.72)" stroke="rgba(0,0,0,0.72)" stroke-width="2.6"/>
<ellipse cx="926.0" cy="1503.9" rx="3.9" ry="4.2" fill="rgba(0,0,0,0.72)" stroke="rgba(0,0,0,0.72)" stroke-width="2.6"/>
<ellipse cx="931.1" cy="1504.6" rx="3.9" ry="4.2" fill="rgba(0,0,0,0.72)" stroke="rgba(0,0,0,0.72)" stroke-width="2.6"/>
<ellipse cx="940.3" cy="1500.5" rx="3.9" ry="4.2" fill="rgba(0,0,0,0.72)" stroke="rgba(0,0,0,0.72)" stroke-width="2.6"/>
<ellipse cx="939.0" cy="1516.0" rx="3.9" ry="4.2" fill="rgba(0,0,0,0.72)" stroke="rgba(0,0,0,0.72)" stroke-width="2.6"/>
<ellipse cx="933.1" cy="1497.7" rx="3.9" ry="4.2" fill="rgba(0,0,0,0.72)" stroke="rgba(0,0,0,0.72)" stroke-width="2.6"/>
<ellipse cx="920.5" cy="1541.1" rx="3.9" ry="4.2" fill="rgba(0,0,0,0.72)" stroke="rgba(0,0,0,0.72)" stroke-width="2.6"/>
<ellipse cx="930.8" cy="1508.0" rx="3.9" ry="4.2" fill="rgba(0,0,0,0.72)" stroke="rgba(0,0,0,0.72)" stroke-width="2.6"/>
<ellipse cx="923.6" cy="1510.2" rx="3.9" ry="4.2" fill="rgba(0,0,0,0.72)" stroke="rgba(0,0,0,0.72)" stroke-width="2.6"/>
<ellipse cx="944.9" cy="1513.5" rx="3.9" ry="4.2" fill="rgba(0,0,0,0.72)" stroke="rgba(0,0,0,0.72)" stroke-width="2.6"/>
<ellipse cx="922.0" cy="1534.2" rx="3.9" ry="4.2" fill="rgba(0,0,0,0.72)" stroke="rgba(0,0,0,0.72)" stroke-width="2.6"/>
<ellipse cx="919.2" cy="1509.4" rx="3.9" ry="4.2" fill="rgba(0,0,0,0.72)" stroke="rgba(0,0,0,0.72)" stroke-width="2.6"/>
<ellipse cx="952.6" cy="1501.3" rx="3.9" ry="4.2" fill="rgba(0,0,0,0.72)" stroke="rgba(0,0,0,0.72)" stroke-width="2.6"/>
<ellipse cx="934.9" cy="1541.7" rx="3.9" ry="4.2" fill="rgba(0,0,0,0.72)" stroke="rgba(0,0,0,0.72)" stroke-width="2.6"/>
<ellipse cx="951.2" cy="1503.1" rx="3.9" ry="4.2" fill="rgba(0,0,0,0.72)" stroke="rgba(0,0,0,0.72)" stroke-width="2.6"/>
<ellipse cx="930.9" cy="1535.2" rx="3.9" ry="4.2" fill="rgba(0,0,0,0.72)" stroke="rgba(0,0,0,0.72)" stroke-width="2.6"/>
<ellipse cx="937.7" cy="1507.0" rx="3.9" ry="4.2" fill="rgba(0,0,0,0.72)" stroke="rgba(0,0,0,0.72)" stroke-width="2.6"/>
<ellipse cx="935.4" cy="1501.5" rx="3.9" ry="4.2" fill="rgba(0,0,0,0.72)" stroke="rgba(0,0,0,0.72)" stroke-width="2.6"/>
<ellipse cx="946.8" cy="1508.9" rx="3.9" ry="4.2" fill="rgba(0,0,0,0.72)" stroke="rgba(0,0,0,0.72)" stroke-width="2.6"/>
<ellipse cx="931.6" cy="1508.0" rx="3.9" ry="4.2" fill="rgba(0,0,0,0.72)" stroke="rgba(0,0,0,0.72)" stroke-width="2.6"/>
<ellipse cx="942.4" cy="1506.1" rx="3.9" ry="4.2" fill="rgba(0,0,0,0.72)" stroke="rgba(0,0,0,0.72)" stroke-width="2.6"/>
<ellipse cx="954.3" cy="1501.0" rx="3.9" ry="4.2" fill="rgba(0,0,0,0.72)" stroke="rgba(0,0,0,0.72)" stroke-width="2.6"/>
<ellipse cx="938.1" cy="1524.9" rx="3.9" ry="4.2" fill="rgba(0,0,0,0.72)" stroke="rgba(0,0,0,0.72)" stroke-width="2.6"/>
<ellipse cx="927.2" cy="1538.0" rx="3.9" ry="4.2" fill="rgba(0,0,0,0.72)" stroke="rgba(0,0,0,0.72)" stroke-width="2.6"/>
<ellipse cx="940.5" cy="1511.7" rx="3.9" ry="4.2" fill="rgba(0,0,0,0.72)" stroke="rgba(0,0,0,0.72)" stroke-width="2.6"/>
<ellipse cx="932.5" cy="1498.9" rx="3.9" ry="4.2" fill="rgba(0,0,0,0.72)" stroke="rgba(0,0,0,0.72)" stroke-width="2.6"/>
<ellipse cx="923.0" cy="1542.5" rx="3.9" ry="4.2" fill="rgba(0,0,0,0.72)" stroke="rgba(0,0,0,0.72)" stroke-width="2.6"/>
<ellipse cx="929.4" cy="1531.8" rx="3.9" ry="4.2" fill="rgba(0,0,0,0.72)" stroke="rgba(0,0,0,0.72)" stroke-width="2.6"/>
<ellipse cx="919.9" cy="1526.0" rx="3.9" ry="4.2" fill="rgba(0,0,0,0.72)" stroke="rgba(0,0,0,0.72)" stroke-width="2.6"/>
<ellipse cx="931.3" cy="1522.5" rx="3.9" ry="4.2" fill="rgba(0,0,0,0.72)" stroke="rgba(0,0,0,0.72)" stroke-width="2.6"/>
<ellipse cx="928.4" cy="1497.8" rx="3.9" ry="4.2" fill="rgba(0,0,0,0.72)" stroke="rgba(0,0,0,0.72)" stroke-width="2.6"/>
<ellipse cx="929.0" cy="1506.9" rx="3.9" ry="4.2" fill="rgba(0,0,0,0.72)" stroke="rgba(0,0,0,0.72)" stroke-width="2.6"/>
<ellipse cx="920.7" cy="1534.9" rx="3.9" ry="4.2" fill="rgba(0,0,0,0.72)" stroke="rgba(0,0,0,0.72)" stroke-width="2.6"/>
<ellipse cx="927.7" cy="1517.0" rx="3.9" ry="4.2" fill="rgba(0,0,0,0.72)" stroke="rgba(0,0,0,0.72)" stroke-width="2.6"/>
<ellipse cx="920.9" cy="1509.8" rx="3.9" ry="4.2" fill="rgba(0,0,0,0.72)" stroke="rgba(0,0,0,0.72)" stroke-width="2.6"/>
<ellipse cx="944.9" cy="1514.0" rx="3.9" ry="4.2" fill="rgba(0,0,0,0.72)" stroke="rgba(0,0,0,0.72)" stroke-width="2.6"/>
<ellipse cx="946.5" cy="1508.2" rx="3.9" ry="4.2" fill="rgba(0,0,0,0.72)" stroke="rgba(0,0,0,0.72)" stroke-width="2.6"/>
<ellipse cx="953.1" cy="1514.1" rx="3.9" ry="4.2" fill="rgba(0,0,0,0.72)" stroke="rgba(0,0,0,0.72)" stroke-width="2.6"/>
<ellipse cx="943.3" cy="1504.4" rx="3.9" ry="4.2" fill="rgba(0,0,0,0.72)" stroke="rgba(0,0,0,0.72)" stroke-width="2.6"/>
<ellipse cx="920.2" cy="1546.0" rx="3.9" ry="4.2" fill="rgba(0,0,0,0.72)" stroke="rgba(0,0,0,0.72)" stroke-width="2.6"/>
<ellipse cx="922.3" cy="1505.3" rx="3.9" ry="4.2" fill="rgba(0,0,0,0.72)" stroke="rgba(0,0,0,0.72)" stroke-width="2.6"/>
<ellipse cx="928.6" cy="1515.7" rx="3.9" ry="4.2" fill="rgba(0,0,0,0.72)" stroke="rgba(0,0,0,0.72)" stroke-width="2.6"/>
<ellipse cx="943.7" cy="1504.2" rx="3.9" ry="4.2" fill="rgba(0,0,0,0.72)" stroke="rgba(0,0,0,0.72)" stroke-width="2.6"/>
<ellipse cx="947.2" cy="1508.5" rx="3.9" ry="4.2" fill="rgba(0,0,0,0.72)" stroke="rgba(0,0,0,0.72)" stroke-width="2.6"/>
<ellipse cx="934.6" cy="1533.0" rx="3.9" ry="4.2" fill="rgba(0,0,0,0.72)" stroke="rgba(0,0,0,0.72)" stroke-width="2.6"/>
<ellipse cx="920.0" cy="1539.1" rx="3.9" ry="4.2" fill="rgba(0,0,0,0.72)" stroke="rgba(0,0,0,0.72)" stroke-width="2.6"/>
<ellipse cx="924.5" cy="1546.1" rx="3.9" ry="4.2" fill="rgba(0,0,0,0.72)" stroke="rgba(0,0,0,0.72)" stroke-width="2.6"/>
<ellipse cx="948.7" cy="1498.9" rx="3.9" ry="4.2" fill="rgba(0,0,0,0.72)" stroke="rgba(0,0,0,0.72)" stroke-width="2.6"/>
<ellipse cx="946.3" cy="1516.4" rx="3.9" ry="4.2" fill="rgba(0,0,0,0.72)" stroke="rgba(0,0,0,0.72)" stroke-width="2.6"/>
<ellipse cx="927.7" cy="1499.1" rx="3.9" ry="4.2" fill="rgba(0,0,0,0.72)" stroke="rgba(0,0,0,0.72)" stroke-width="2.6"/>
<ellipse cx="943.3" cy="1519.8" rx="3.9" ry="4.2" fill="rgba(0,0,0,0.72)" stroke="rgba(0,0,0,0.72)" stroke-width="2.6"/>
<ellipse cx="934.3" cy="1523.2" rx="3.9" ry="4.2" fill="rgba(0,0,0,0.72)" stroke="rgba(0,0,0,0.72)" stroke-width="2.6"/>
<ellipse cx="946.6" cy="1539.9" rx="3.9" ry="4.2" fill="rgba(0,0,0,0.72)" stroke="rgba(0,0,0,0.72)" stroke-width="2.6"/>
<ellipse cx="926.8" cy="1525.1" rx="3.9" ry="4.2" fill="rgba(0,0,0,0.72)" stroke="rgba(0,0,0,0.72)" stroke-width="2.6"/>
<ellipse cx="939.5" cy="1508.2" rx="3.9" ry="4.2" fill="rgba(0,0,0,0.72)" stroke="rgba(0,0,0,0.72)" stroke-width="2.6"/>
<ellipse cx="933.5" cy="1505.5" rx="3.9" ry="4.2" fill="rgba(0,0,0,0.72)" stroke="rgba(0,0,0,0.72)" stroke-width="2.6"/>
<ellipse cx="929.0" cy="1501.8" rx="3.9" ry="4.2" fill="rgba(0,0,0,0.72)" stroke="rgba(0,0,0,0.72)" stroke-width="2.6"/>
<ellipse cx="946.8" cy="1532.2" rx="3.9" ry="4.2" fill="rgba(0,0,0,0.72)" stroke="rgba(0,0,0,0.72)" stroke-width="2.6"/>
<ellipse cx="925.7" cy="1507.8" rx="3.9" ry="4.2" fill="rgba(0,0,0,0.72)" stroke="rgba(0,0,0,0.72)" stroke-width="2.6"/>
<ellipse cx="938.2" cy="1519.4" rx="3.9" ry="4.2" fill="rgba(0,0,0,0.72)" stroke="rgba(0,0,0,0.72)" stroke-width="2.6"/>
<ellipse cx="928.5" cy="1544.4" rx="3.9" ry="4.2" fill="rgba(0,0,0,0.72)" stroke="rgba(0,0,0,0.72)" stroke-width="2.6"/>
<ellipse cx="921.4" cy="1526.1" rx="3.9" ry="4.2" fill="rgba(0,0,0,0.72)" stroke="rgba(0,0,0,0.72)" stroke-width="2.6"/>
<ellipse cx="930.0" cy="1540.5" rx="3.9" ry="4.2" fill="rgba(0,0,0,0.72)" stroke="rgba(0,0,0,0.72)" stroke-width="2.6"/>
<ellipse cx="939.7" cy="1537.3" rx="3.9" ry="4.2" fill="rgba(0,0,0,0.72)" stroke="rgba(0,0,0,0.72)" stroke-width="2.6"/>
<ellipse cx="922.6" cy="1532.0" rx="3.9" ry="4.2" fill="rgba(0,0,0,0.72)" stroke="rgba(0,0,0,0.72)" stroke-width="2.6"/>
<ellipse cx="941.9" cy="1520.3" rx="3.9" ry="4.2" fill="rgba(0,0,0,0.72)" stroke="rgba(0,0,0,0.72)" stroke-width="2.6"/>
<ellipse cx="920.2" cy="1510.5" rx="3.9" ry="4.2" fill="rgba(0,0,0,0.72)" stroke="rgba(0,0,0,0.72)" stroke-width="2.6"/>
<ellipse cx="931.2" cy="1505.8" rx="3.9" ry="4.2" fill="rgba(0,0,0,0.72)" stroke="rgba(0,0,0,0.72)" stroke-width="2.6"/>
<ellipse cx="923.9" cy="1534.0" rx="3.9" ry="4.2" fill="rgba(0,0,0,0.72)" stroke="rgba(0,0,0,0.72)" stroke-width="2.6"/>
<ellipse cx="935.2" cy="1500.4" rx="3.9" ry="4.2" fill="rgba(0,0,0,0.72)" stroke="rgba(0,0,0,0.72)" stroke-width="2.6"/>
<ellipse cx="929.6" cy="1520.7" rx="3.9" ry="4.2" fill="rgba(0,0,0,0.72)" stroke="rgba(0,0,0,0.72)" stroke-width="2.6"/>
<ellipse cx="931.3" cy="1503.6" rx="3.9" ry="4.2" fill="rgba(0,0,0,0.72)" stroke="rgba(0,0,0,0.72)" stroke-width="2.6"/>
<ellipse cx="919.9" cy="1521.9" rx="3.9" ry="4.2" fill="rgba(0,0,0,0.72)" stroke="rgba(0,0,0,0.72)" stroke-width="2.6"/>
<ellipse cx="934.5" cy="1504.8" rx="3.9" ry="4.2" fill="rgba(0,0,0,0.72)" stroke="rgba(0,0,0,0.72)" stroke-width="2.6"/>
<ellipse cx="944.4" cy="1508.3" rx="3.9" ry="4.2" fill="rgba(0,0,0,0.72)" stroke="rgba(0,0,0,0.72)" stroke-width="2.6"/>
<ellipse cx="926.1" cy="1501.9" rx="3.9" ry="4.2" fill="rgba(0,0,0,0.72)" stroke="rgba(0,0,0,0.72)" stroke-width="2.6"/>
<ellipse cx="952.8" cy="1510.9" rx="3.9" ry="4.2" fill="rgba(0,0,0,0.72)" stroke="rgba(0,0,0,0.72)" stroke-width="2.6"/>
<ellipse cx="923.4" cy="1530.4" rx="3.9" ry="4.2" fill="rgba(0,0,0,0.72)" stroke="rgba(0,0,0,0.72)" stroke-width="2.6"/>
<ellipse cx="922.6" cy="1538.7" rx="3.9" ry="4.2" fill="rgba(0,0,0,0.72)" stroke="rgba(0,0,0,0.72)" stroke-width="2.6"/>
<ellipse cx="929.7" cy="1504.5" rx="3.9" ry="4.2" fill="rgba(0,0,0,0.72)" stroke="rgba(0,0,0,0.72)" stroke-width="2.6"/>
<ellipse cx="952.1" cy="1512.2" rx="3.9" ry="4.2" fill="rgba(0,0,0,0.72)" stroke="rgba(0,0,0,0.72)" stroke-width="2.6"/>
<ellipse cx="940.5" cy="1529.8" rx="3.9" ry="4.2" fill="rgba(0,0,0,0.72)" stroke="rgba(0,0,0,0.72)" stroke-width="2.6"/>
<ellipse cx="937.2" cy="1522.5" rx="3.9" ry="4.2" fill="rgba(0,0,0,0.72)" stroke="rgba(0,0,0,0.72)" stroke-width="2.6"/>
<ellipse cx="922.1" cy="1511.1" rx="3.9" ry="4.2" fill="rgba(0,0,0,0.72)" stroke="rgba(0,0,0,0.72)" stroke-width="2.6"/>
<ellipse cx="941.2" cy="1498.6" rx="3.9" ry="4.2" fill="rgba(0,0,0,0.72)" stroke="rgba(0,0,0,0.72)" stroke-width="2.6"/>
<ellipse cx="946.0" cy="1503.3" rx="3.9" ry="4.2" fill="rgba(0,0,0,0.72)" stroke="rgba(0,0,0,0.72)" stroke-width="2.6"/>
<ellipse cx="934.8" cy="1504.9" rx="3.9" ry="4.2" fill="rgba(0,0,0,0.72)" stroke="rgba(0,0,0,0.72)" stroke-width="2.6"/>
<ellipse cx="950.4" cy="1518.3" rx="3.9" ry="4.2" fill="rgba(0,0,0,0.72)" stroke="rgba(0,0,0,0.72)" stroke-width="2.6"/>
<ellipse cx="927.7" cy="1531.7" rx="3.9" ry="4.2" fill="rgba(0,0,0,0.72)" stroke="rgba(0,0,0,0.72)" stroke-width="2.6"/>
<ellipse cx="938.2" cy="1518.0" rx="3.9" ry="4.2" fill="rgba(0,0,0,0.72)" stroke="rgba(0,0,0,0.72)" stroke-width="2.6"/>
<ellipse cx="930.2" cy="1519.0" rx="3.9" ry="4.2" fill="rgba(0,0,0,0.72)" stroke="rgba(0,0,0,0.72)" stroke-width="2.6"/>
<ellipse cx="945.0" cy="1541.1" rx="3.9" ry="4.2" fill="rgba(0,0,0,0.72)" stroke="rgba(0,0,0,0.72)" stroke-width="2.6"/>
<ellipse cx="928.3" cy="1519.3" rx="3.9" ry="4.2" fill="rgba(0,0,0,0.72)" stroke="rgba(0,0,0,0.72)" stroke-width="2.6"/>
<ellipse cx="940.4" cy="1513.8" rx="3.9" ry="4.2" fill="rgba(0,0,0,0.72)" stroke="rgba(0,0,0,0.72)" stroke-width="2.6"/>
<ellipse cx="923.8" cy="1498.8" rx="3.9" ry="4.2" fill="rgba(0,0,0,0.72)" stroke="rgba(0,0,0,0.72)" stroke-width="2.6"/>
<ellipse cx="929.6" cy="1520.2" rx="3.9" ry="4.2" fill="rgba(0,0,0,0.72)" stroke="rgba(0,0,0,0.72)" stroke-width="2.6"/>
<ellipse cx="951.5" cy="1497.4" rx="3.9" ry="4.2" fill="rgba(0,0,0,0.72)" stroke="rgba(0,0,0,0.72)" stroke-width="2.6"/>
<ellipse cx="945.4" cy="1528.7" rx="3.9" ry="4.2" fill="rgba(0,0,0,0.72)" stroke="rgba(0,0,0,0.72)" stroke-width="2.6"/>
<ellipse cx="928.4" cy="1526.6" rx="3.9" ry="4.2" fill="rgba(0,0,0,0.72)" stroke="rgba(0,0,0,0.72)" stroke-width="2.6"/>
<ellipse cx="944.1" cy="1511.1" rx="3.9" ry="4.2" fill="rgba(0,0,0,0.72)" stroke="rgba(0,0,0,0.72)" stroke-width="2.6"/>
<ellipse cx="930.5" cy="1544.5" rx="3.9" ry="4.2" fill="rgba(0,0,0,0.72)" stroke="rgba(0,0,0,0.72)" stroke-width="2.6"/>
<ellipse cx="945.5" cy="1519.5" rx="3.9" ry="4.2" fill="rgba(0,0,0,0.72)" stroke="rgba(0,0,0,0.72)" stroke-width="2.6"/>
<ellipse cx="933.7" cy="1524.2" rx="3.9" ry="4.2" fill="rgba(0,0,0,0.72)" stroke="rgba(0,0,0,0.72)" stroke-width="2.6"/>
<ellipse cx="940.4" cy="1516.6" rx="3.9" ry="4.2" fill="rgba(0,0,0,0.72)" stroke="rgba(0,0,0,0.72)" stroke-width="2.6"/>
<ellipse cx="920.1" cy="1504.3" rx="3.9" ry="4.2" fill="rgba(0,0,0,0.72)" stroke="rgba(0,0,0,0.72)" stroke-width="2.6"/>
<ellipse cx="920.1" cy="1543.1" rx="3.9" ry="4.2" fill="rgba(0,0,0,0.72)" stroke="rgba(0,0,0,0.72)" stroke-width="2.6"/>
<ellipse cx="926.4" cy="1499.4" rx="3.9" ry="4.2" fill="rgba(0,0,0,0.72)" stroke="rgba(0,0,0,0.72)" stroke-width="2.6"/>
<ellipse cx="938.9" cy="1508.3" rx="3.9" ry="4.2" fill="rgba(0,0,0,0.72)" stroke="rgba(0,0,0,0.72)" stroke-width="2.6"/>
<ellipse cx="937.0" cy="1525.6" rx="3.9" ry="4.2" fill="rgba(0,0,0,0.72)" stroke="rgba(0,0,0,0.72)" stroke-width="2.6"/>
<ellipse cx="925.2" cy="1526.6" rx="3.9" ry="4.2" fill="rgba(0,0,0,0.72)" stroke="rgba(0,0,0,0.72)" stroke-width="2.6"/>
<ellipse cx="920.1" cy="1523.3" rx="3.9" ry="4.2" fill="rgba(0,0,0,0.72)" stroke="rgba(0,0,0,0.72)" stroke-width="2.6"/>
<ellipse cx="941.5" cy="1498.6" rx="3.9" ry="4.2" fill="rgba(0,0,0,0.72)" stroke="rgba(0,0,0,0.72)" stroke-width="2.6"/>
<ellipse cx="933.4" cy="1498.2" rx="3.9" ry="4.2" fill="rgba(0,0,0,0.72)" stroke="rgba(0,0,0,0.72)" stroke-width="2.6"/>
<ellipse cx="980.7" cy="1486.2" rx="3.9" ry="4.2" fill="rgba(0,0,0,0.72)" stroke="rgba(0,0,0,0.72)" stroke-width="2.6"/>
<ellipse cx="984.9" cy="1481.0" rx="3.9" ry="4.2" fill="rgba(0,0,0,0.72)" stroke="rgba(0,0,0,0.72)" stroke-width="2.6"/>
<ellipse cx="992.8" cy="1460.0" rx="3.9" ry="4.2" fill="rgba(0,0,0,0.72)" stroke="rgba(0,0,0,0.72)" stroke-width="2.6"/>
<ellipse cx="967.9" cy="1485.1" rx="3.9" ry="4.2" fill="rgba(0,0,0,0.72)" stroke="rgba(0,0,0,0.72)" stroke-width="2.6"/>
<ellipse cx="978.9" cy="1462.0" rx="3.9" ry="4.2" fill="rgba(0,0,0,0.72)" stroke="rgba(0,0,0,0.72)" stroke-width="2.6"/>
<ellipse cx="993.4" cy="1460.8" rx="3.9" ry="4.2" fill="rgba(0,0,0,0.72)" stroke="rgba(0,0,0,0.72)" stroke-width="2.6"/>
<ellipse cx="973.0" cy="1469.0" rx="3.9" ry="4.2" fill="rgba(0,0,0,0.72)" stroke="rgba(0,0,0,0.72)" stroke-width="2.6"/>
<ellipse cx="990.9" cy="1470.9" rx="3.9" ry="4.2" fill="rgba(0,0,0,0.72)" stroke="rgba(0,0,0,0.72)" stroke-width="2.6"/>
<ellipse cx="997.8" cy="1477.7" rx="3.9" ry="4.2" fill="rgba(0,0,0,0.72)" stroke="rgba(0,0,0,0.72)" stroke-width="2.6"/>
<ellipse cx="997.1" cy="1475.7" rx="3.9" ry="4.2" fill="rgba(0,0,0,0.72)" stroke="rgba(0,0,0,0.72)" stroke-width="2.6"/>
<ellipse cx="998.9" cy="1486.5" rx="3.9" ry="4.2" fill="rgba(0,0,0,0.72)" stroke="rgba(0,0,0,0.72)" stroke-width="2.6"/>
<ellipse cx="970.4" cy="1482.1" rx="3.9" ry="4.2" fill="rgba(0,0,0,0.72)" stroke="rgba(0,0,0,0.72)" stroke-width="2.6"/>
<ellipse cx="977.0" cy="1482.7" rx="3.9" ry="4.2" fill="rgba(0,0,0,0.72)" stroke="rgba(0,0,0,0.72)" stroke-width="2.6"/>
<ellipse cx="989.9" cy="1484.9" rx="3.9" ry="4.2" fill="rgba(0,0,0,0.72)" stroke="rgba(0,0,0,0.72)" stroke-width="2.6"/>
<ellipse cx="986.9" cy="1459.5" rx="3.9" ry="4.2" fill="rgba(0,0,0,0.72)" stroke="rgba(0,0,0,0.72)" stroke-width="2.6"/>
<ellipse cx="984.9" cy="1484.1" rx="3.9" ry="4.2" fill="rgba(0,0,0,0.72)" stroke="rgba(0,0,0,0.72)" stroke-width="2.6"/>
<ellipse cx="968.3" cy="1488.4" rx="3.9" ry="4.2" fill="rgba(0,0,0,0.72)" stroke="rgba(0,0,0,0.72)" stroke-width="2.6"/>
<ellipse cx="989.7" cy="1464.9" rx="3.9" ry="4.2" fill="rgba(0,0,0,0.72)" stroke="rgba(0,0,0,0.72)" stroke-width="2.6"/>
<ellipse cx="995.9" cy="1476.3" rx="3.9" ry="4.2" fill="rgba(0,0,0,0.72)" stroke="rgba(0,0,0,0.72)" stroke-width="2.6"/>
<ellipse cx="968.2" cy="1484.0" rx="3.9" ry="4.2" fill="rgba(0,0,0,0.72)" stroke="rgba(0,0,0,0.72)" stroke-width="2.6"/>
<ellipse cx="971.0" cy="1475.4" rx="3.9" ry="4.2" fill="rgba(0,0,0,0.72)" stroke="rgba(0,0,0,0.72)" stroke-width="2.6"/>
<ellipse cx="975.0" cy="1480.1" rx="3.9" ry="4.2" fill="rgba(0,0,0,0.72)" stroke="rgba(0,0,0,0.72)" stroke-width="2.6"/>
<ellipse cx="978.5" cy="1461.0" rx="3.9" ry="4.2" fill="rgba(0,0,0,0.72)" stroke="rgba(0,0,0,0.72)" stroke-width="2.6"/>
<ellipse cx="997.3" cy="1474.8" rx="3.9" ry="4.2" fill="rgba(0,0,0,0.72)" stroke="rgba(0,0,0,0.72)" stroke-width="2.6"/>
<ellipse cx="990.2" cy="1484.3" rx="3.9" ry="4.2" fill="rgba(0,0,0,0.72)" stroke="rgba(0,0,0,0.72)" stroke-width="2.6"/>
<ellipse cx="977.0" cy="1461.3" rx="3.9" ry="4.2" fill="rgba(0,0,0,0.72)" stroke="rgba(0,0,0,0.72)" stroke-width="2.6"/>
<ellipse cx="983.1" cy="1486.6" rx="3.9" ry="4.2" fill="rgba(0,0,0,0.72)" stroke="rgba(0,0,0,0.72)" stroke-width="2.6"/>
<ellipse cx="970.9" cy="1484.6" rx="3.9" ry="4.2" fill="rgba(0,0,0,0.72)" stroke="rgba(0,0,0,0.72)" stroke-width="2.6"/>
<ellipse cx="989.8" cy="1469.7" rx="3.9" ry="4.2" fill="rgba(0,0,0,0.72)" stroke="rgba(0,0,0,0.72)" stroke-width="2.6"/>
<ellipse cx="982.1" cy="1461.5" rx="3.9" ry="4.2" fill="rgba(0,0,0,0.72)" stroke="rgba(0,0,0,0.72)" stroke-width="2.6"/>
<ellipse cx="996.1" cy="1469.8" rx="3.9" ry="4.2" fill="rgba(0,0,0,0.72)" stroke="rgba(0,0,0,0.72)" stroke-width="2.6"/>
<ellipse cx="997.2" cy="1477.4" rx="3.9" ry="4.2" fill="rgba(0,0,0,0.72)" stroke="rgba(0,0,0,0.72)" stroke-width="2.6"/>
<ellipse cx="972.2" cy="1487.3" rx="3.9" ry="4.2" fill="rgba(0,0,0,0.72)" stroke="rgba(0,0,0,0.72)" stroke-width="2.6"/>
<ellipse cx="981.8" cy="1476.2" rx="3.9" ry="4.2" fill="rgba(0,0,0,0.72)" stroke="rgba(0,0,0,0.72)" stroke-width="2.6"/>
<ellipse cx="978.7" cy="1468.4" rx="3.9" ry="4.2" fill="rgba(0,0,0,0.72)" stroke="rgba(0,0,0,0.72)" stroke-width="2.6"/>
<ellipse cx="989.5" cy="1465.5" rx="3.9" ry="4.2" fill="rgba(0,0,0,0.72)" stroke="rgba(0,0,0,0.72)" stroke-width="2.6"/>
<ellipse cx="974.4" cy="1473.5" rx="3.9" ry="4.2" fill="rgba(0,0,0,0.72)" stroke="rgba(0,0,0,0.72)" stroke-width="2.6"/>
<ellipse cx="974.0" cy="1475.9" rx="3.9" ry="4.2" fill="rgba(0,0,0,0.72)" stroke="rgba(0,0,0,0.72)" stroke-width="2.6"/>
<ellipse cx="985.3" cy="1483.0" rx="3.9" ry="4.2" fill="rgba(0,0,0,0.72)" stroke="rgba(0,0,0,0.72)" stroke-width="2.6"/>
<ellipse cx="997.2" cy="1483.1" rx="3.9" ry="4.2" fill="rgba(0,0,0,0.72)" stroke="rgba(0,0,0,0.72)" stroke-width="2.6"/>
<ellipse cx="988.1" cy="1478.2" rx="3.9" ry="4.2" fill="rgba(0,0,0,0.72)" stroke="rgba(0,0,0,0.72)" stroke-width="2.6"/>
<ellipse cx="977.8" cy="1465.9" rx="3.9" ry="4.2" fill="rgba(0,0,0,0.72)" stroke="rgba(0,0,0,0.72)" stroke-width="2.6"/>
<ellipse cx="994.2" cy="1486.5" rx="3.9" ry="4.2" fill="rgba(0,0,0,0.72)" stroke="rgba(0,0,0,0.72)" stroke-width="2.6"/>
<ellipse cx="975.6" cy="1482.7" rx="3.9" ry="4.2" fill="rgba(0,0,0,0.72)" stroke="rgba(0,0,0,0.72)" stroke-width="2.6"/>
<ellipse cx="992.1" cy="1473.8" rx="3.9" ry="4.2" fill="rgba(0,0,0,0.72)" stroke="rgba(0,0,0,0.72)" stroke-width="2.6"/>
<ellipse cx="988.1" cy="1468.3" rx="3.9" ry="4.2" fill="rgba(0,0,0,0.72)" stroke="rgba(0,0,0,0.72)" stroke-width="2.6"/>
<ellipse cx="984.9" cy="1470.2" rx="3.9" ry="4.2" fill="rgba(0,0,0,0.72)" stroke="rgba(0,0,0,0.72)" stroke-width="2.6"/>
<ellipse cx="982.3" cy="1468.9" rx="3.9" ry="4.2" fill="rgba(0,0,0,0.72)" stroke="rgba(0,0,0,0.72)" stroke-width="2.6"/>
<ellipse cx="977.3" cy="1460.7" rx="3.9" ry="4.2" fill="rgba(0,0,0,0.72)" stroke="rgba(0,0,0,0.72)" stroke-width="2.6"/>
<ellipse cx="981.2" cy="1471.6" rx="3.9" ry="4.2" fill="rgba(0,0,0,0.72)" stroke="rgba(0,0,0,0.72)" stroke-width="2.6"/>
<ellipse cx="980.6" cy="1502.0" rx="3.9" ry="4.2" fill="rgba(0,0,0,0.72)" stroke="rgba(0,0,0,0.72)" stroke-width="2.6"/>
<ellipse cx="972.3" cy="1502.1" rx="3.9" ry="4.2" fill="rgba(0,0,0,0.72)" stroke="rgba(0,0,0,0.72)" stroke-width="2.6"/>
<ellipse cx="985.5" cy="1507.7" rx="3.9" ry="4.2" fill="rgba(0,0,0,0.72)" stroke="rgba(0,0,0,0.72)" stroke-width="2.6"/>
<ellipse cx="974.1" cy="1512.8" rx="3.9" ry="4.2" fill="rgba(0,0,0,0.72)" stroke="rgba(0,0,0,0.72)" stroke-width="2.6"/>
<ellipse cx="968.1" cy="1501.2" rx="3.9" ry="4.2" fill="rgba(0,0,0,0.72)" stroke="rgba(0,0,0,0.72)" stroke-width="2.6"/>
<ellipse cx="984.8" cy="1500.0" rx="3.9" ry="4.2" fill="rgba(0,0,0,0.72)" stroke="rgba(0,0,0,0.72)" stroke-width="2.6"/>
<ellipse cx="975.4" cy="1499.6" rx="3.9" ry="4.2" fill="rgba(0,0,0,0.72)" stroke="rgba(0,0,0,0.72)" stroke-width="2.6"/>
<ellipse cx="983.1" cy="1499.5" rx="3.9" ry="4.2" fill="rgba(0,0,0,0.72)" stroke="rgba(0,0,0,0.72)" stroke-width="2.6"/>
<ellipse cx="973.6" cy="1498.1" rx="3.9" ry="4.2" fill="rgba(0,0,0,0.72)" stroke="rgba(0,0,0,0.72)" stroke-width="2.6"/>
<ellipse cx="968.8" cy="1507.3" rx="3.9" ry="4.2" fill="rgba(0,0,0,0.72)" stroke="rgba(0,0,0,0.72)" stroke-width="2.6"/>
<ellipse cx="973.1" cy="1512.2" rx="3.9" ry="4.2" fill="rgba(0,0,0,0.72)" stroke="rgba(0,0,0,0.72)" stroke-width="2.6"/>
<ellipse cx="983.1" cy="1504.3" rx="3.9" ry="4.2" fill="rgba(0,0,0,0.72)" stroke="rgba(0,0,0,0.72)" stroke-width="2.6"/>
<ellipse cx="984.0" cy="1502.8" rx="3.9" ry="4.2" fill="rgba(0,0,0,0.72)" stroke="rgba(0,0,0,0.72)" stroke-width="2.6"/>
<ellipse cx="973.4" cy="1506.4" rx="3.9" ry="4.2" fill="rgba(0,0,0,0.72)" stroke="rgba(0,0,0,0.72)" stroke-width="2.6"/>
<ellipse cx="981.5" cy="1500.9" rx="3.9" ry="4.2" fill="rgba(0,0,0,0.72)" stroke="rgba(0,0,0,0.72)" stroke-width="2.6"/>
<ellipse cx="982.0" cy="1511.7" rx="3.9" ry="4.2" fill="rgba(0,0,0,0.72)" stroke="rgba(0,0,0,0.72)" stroke-width="2.6"/>
<ellipse cx="973.2" cy="1497.1" rx="3.9" ry="4.2" fill="rgba(0,0,0,0.72)" stroke="rgba(0,0,0,0.72)" stroke-width="2.6"/>
<ellipse cx="967.8" cy="1498.3" rx="3.9" ry="4.2" fill="rgba(0,0,0,0.72)" stroke="rgba(0,0,0,0.72)" stroke-width="2.6"/>
<ellipse cx="986.8" cy="1497.1" rx="3.9" ry="4.2" fill="rgba(0,0,0,0.72)" stroke="rgba(0,0,0,0.72)" stroke-width="2.6"/>
<ellipse cx="988.2" cy="1504.7" rx="3.9" ry="4.2" fill="rgba(0,0,0,0.72)" stroke="rgba(0,0,0,0.72)" stroke-width="2.6"/>
<ellipse cx="979.7" cy="1508.5" rx="3.9" ry="4.2" fill="rgba(0,0,0,0.72)" stroke="rgba(0,0,0,0.72)" stroke-width="2.6"/>
<ellipse cx="980.2" cy="1510.1" rx="3.9" ry="4.2" fill="rgba(0,0,0,0.72)" stroke="rgba(0,0,0,0.72)" stroke-width="2.6"/>
<ellipse cx="981.6" cy="1502.6" rx="3.9" ry="4.2" fill="rgba(0,0,0,0.72)" stroke="rgba(0,0,0,0.72)" stroke-width="2.6"/>
<ellipse cx="986.0" cy="1500.9" rx="3.9" ry="4.2" fill="rgba(0,0,0,0.72)" stroke="rgba(0,0,0,0.72)" stroke-width="2.6"/>
<ellipse cx="985.1" cy="1512.6" rx="3.9" ry="4.2" fill="rgba(0,0,0,0.72)" stroke="rgba(0,0,0,0.72)" stroke-width="2.6"/>
<ellipse cx="987.1" cy="1502.1" rx="3.9" ry="4.2" fill="rgba(0,0,0,0.72)" stroke="rgba(0,0,0,0.72)" stroke-width="2.6"/>
<ellipse cx="977.0" cy="1501.4" rx="3.9" ry="4.2" fill="rgba(0,0,0,0.72)" stroke="rgba(0,0,0,0.72)" stroke-width="2.6"/>
<ellipse cx="977.7" cy="1510.1" rx="3.9" ry="4.2" fill="rgba(0,0,0,0.72)" stroke="rgba(0,0,0,0.72)" stroke-width="2.6"/>
<ellipse cx="987.0" cy="1503.3" rx="3.9" ry="4.2" fill="rgba(0,0,0,0.72)" stroke="rgba(0,0,0,0.72)" stroke-width="2.6"/>
<ellipse cx="986.5" cy="1497.1" rx="3.9" ry="4.2" fill="rgba(0,0,0,0.72)" stroke="rgba(0,0,0,0.72)" stroke-width="2.6"/>
<ellipse cx="980.2" cy="1499.2" rx="3.9" ry="4.2" fill="rgba(0,0,0,0.72)" stroke="rgba(0,0,0,0.72)" stroke-width="2.6"/>
<ellipse cx="967.6" cy="1499.1" rx="3.9" ry="4.2" fill="rgba(0,0,0,0.72)" stroke="rgba(0,0,0,0.72)" stroke-width="2.6"/>
<ellipse cx="987.1" cy="1500.6" rx="3.9" ry="4.2" fill="rgba(0,0,0,0.72)" stroke="rgba(0,0,0,0.72)" stroke-width="2.6"/>
<ellipse cx="982.7" cy="1502.9" rx="3.9" ry="4.2" fill="rgba(0,0,0,0.72)" stroke="rgba(0,0,0,0.72)" stroke-width="2.6"/>
<ellipse cx="987.8" cy="1505.6" rx="3.9" ry="4.2" fill="rgba(0,0,0,0.72)" stroke="rgba(0,0,0,0.72)" stroke-width="2.6"/>
<rect x="960.4" y="1252.4" width="2" height="460.3" fill="#000"/>
<rect x="678.8" y="1492.2" width="565.5" height="2" fill="#000"/>
</g>
</svg></body></html>
